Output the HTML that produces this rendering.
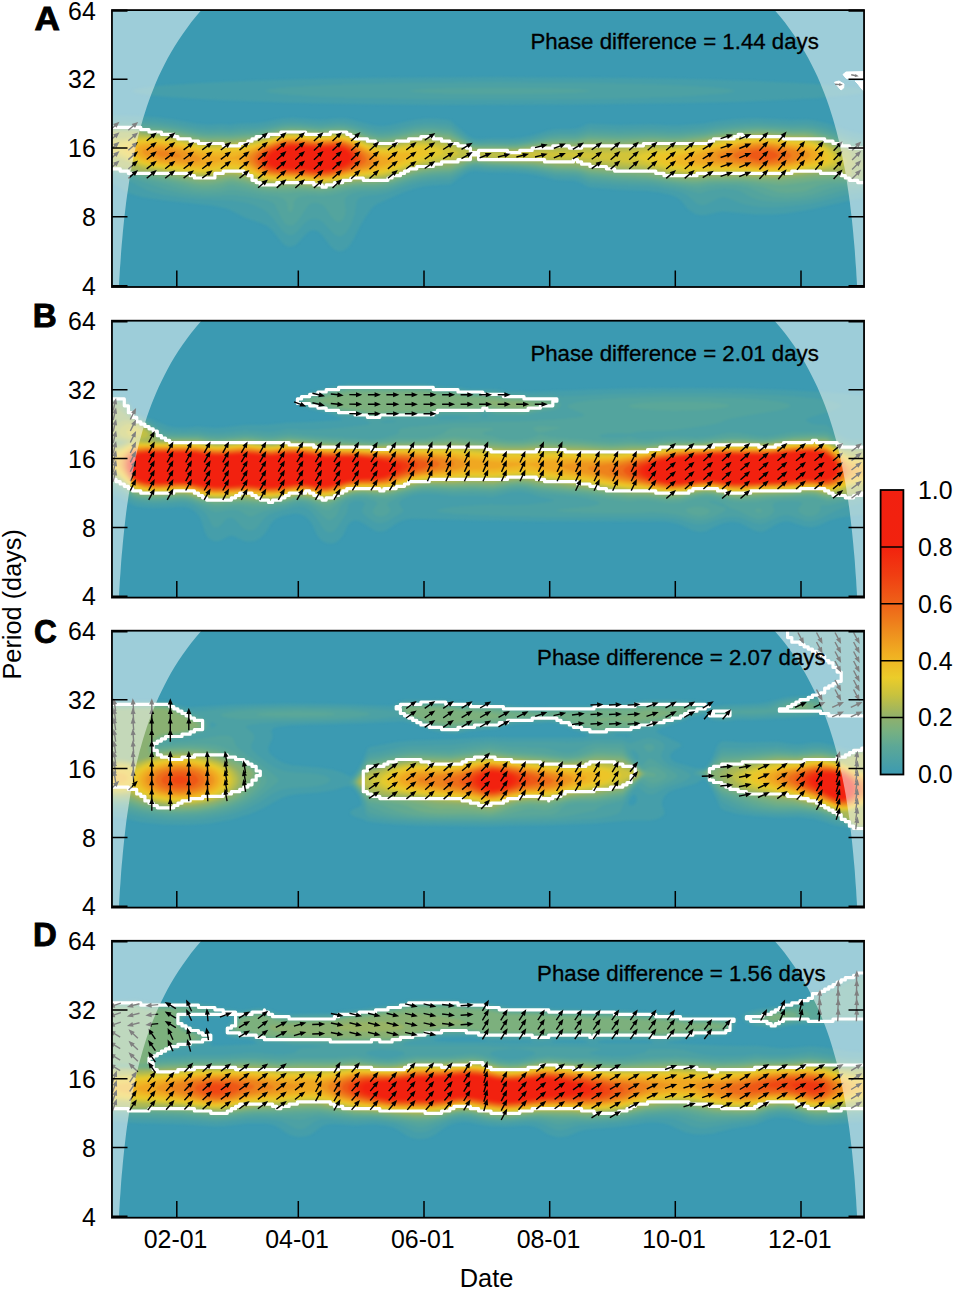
<!DOCTYPE html>
<html><head><meta charset="utf-8"><title>Wavelet coherence</title>
<style>html,body{margin:0;padding:0;background:#fff}svg{display:block}text{font-family:"Liberation Sans",sans-serif;fill:#000}</style></head>
<body>
<svg width="955" height="1290" viewBox="0 0 955 1290">
<defs>
<filter id="bl" x="-2%" y="-5%" width="104%" height="110%" color-interpolation-filters="sRGB"><feGaussianBlur stdDeviation="1.1"/></filter>
<clipPath id="cpA"><rect x="111.95" y="10.1" width="752.0999999999999" height="276.9"/></clipPath>
<clipPath id="cpB"><rect x="111.95" y="320.7" width="752.0999999999999" height="276.9"/></clipPath>
<clipPath id="cpC"><rect x="111.95" y="630.7" width="752.0999999999999" height="276.9"/></clipPath>
<clipPath id="cpD"><rect x="111.95" y="940.8" width="752.0999999999999" height="276.9"/></clipPath>
<linearGradient id="cb" x1="0" y1="1" x2="0" y2="0">
<stop offset="0" stop-color="#3b9ab2"/>
<stop offset="0.1" stop-color="#5da896"/>
<stop offset="0.15" stop-color="#76b082"/>
<stop offset="0.2" stop-color="#8fb06c"/>
<stop offset="0.28" stop-color="#c8c23e"/>
<stop offset="0.34" stop-color="#ebcc2a"/>
<stop offset="0.42" stop-color="#f0b022"/>
<stop offset="0.5" stop-color="#ee8e1e"/>
<stop offset="0.6" stop-color="#ee6218"/>
<stop offset="0.7" stop-color="#f03e12"/>
<stop offset="0.8" stop-color="#f2220e"/>
<stop offset="1" stop-color="#f22010"/>
</linearGradient>
</defs>
<rect width="955" height="1290" fill="#fff"/>
<g clip-path="url(#cpA)">
<rect x="110.95" y="9.1" width="754.0999999999999" height="278.9" fill="#3b9ab2"/>
<g filter="url(#bl)">
<path fill="#459eaa" d="M574.5 104.6 431.4 105 342.4 103.8 285.4 102.4 217.4 99.9 167.4 97 152.5 95.6 138.6 93.6 134.4 92.5 132.7 91.6 132.7 90.6 135.4 89.3 143.4 87.7 161.7 85.6 196.4 83.2 244.4 81 301.4 79.3 362.4 78.1 500.4 77.1 638.5 78.1 699.5 79.3 756.5 81.1 803.5 83.2 838.2 85.6 856.5 87.7 863.5 89.1 867 90.6 866.8 91.6 860.6 93.6 846.4 95.6 815.5 98.2 779.5 100.1 739.5 101.7 686.5 103ZM343.4 250.6 341.4 251.2 338.4 251.2 335.4 250.2 333.4 248.9 329.4 244.8 321.4 234.3 318.4 231.7 315.4 230.4 312.4 230.2 308.8 231.6 305.4 234.4 298.4 242.4 295.4 245 291.4 246.7 288.4 246.7 285.4 245.5 282.4 243.1 272.4 230.5 269.4 227.7 266.4 225.6 261.4 223.3 244.6 217.6 231.1 210.6 226.4 208.6 211.8 205.6 161.4 200.1 141.4 196.9 134.4 195.1 128.4 192.8 124.1 190.6 115.5 185.1 111.7 183.6 108.5 182.9 107.6 167.6 107.5 147.6 107.6 128.6 108.5 115 139.4 116.1 158.4 117.4 172.4 119.2 197.4 123.7 208.4 124.7 221.4 124.1 230.4 124.8 239.4 123.4 257.4 122.9 266.6 121.6 283.4 118.3 293.4 117.7 319.4 119.7 337.4 118.2 344.4 118.3 350.4 119.3 372.4 125 378.4 125.9 383.4 126.1 391.4 125.1 409.4 120.8 418.4 119.2 427.4 118.6 437.4 118.8 447.4 119.7 450.4 120.5 467.8 135.6 473.4 138.3 478.4 138.9 491.4 138.2 511.4 138.3 521.5 137.6 531.3 135.6 546.5 131.1 553.5 129.5 559.5 128.9 571.5 129.1 576.3 128.6 580.5 127.3 587.5 124.1 589.5 123.7 620.5 124.9 651.5 124.2 669.5 125.3 679.5 125.3 704.5 123.5 715.5 121.2 735.5 119.1 755.5 118.1 776.5 118.9 791.5 120.1 805.5 119.5 813.5 120.2 826.5 123.3 851.5 131.7 860.5 133.7 868.5 134.5 869.3 147.6 869.4 164.6 869.3 181.6 868.5 197.2 849.4 200.6 811.5 209.3 785.5 213.4 771.5 214.4 756.5 214.5 723.5 211.5 718.5 212.1 706.5 215 700.5 215.3 695.5 214.1 690.5 211.3 686.6 207.6 681 200.6 677.2 197.6 671.5 195.2 660.2 192.6 646.5 190.8 619.5 189.8 589.5 187.3 587.5 186.6 580.2 182.6 575.5 181 571.5 180.5 556.5 180.1 538.3 175.6 526.3 173.6 512 172.6 491.4 172.2 474.4 170.8 470.1 171.6 465.7 173.6 450.4 184.3 429.8 185.6 423 186.6 414.4 188.5 402.9 192.6 376.4 204.3 371.5 208.6 365.4 217.2 360.4 225.6 353.9 238.6 350.4 244.4 347.4 247.9Z"/>
<path fill="#4ca1a4" d="M556.5 99.6 440.4 99.6 347.4 97.8 313.4 96.4 285.6 94.6 269.4 92.6 266.2 91.6 265.9 90.6 268.6 89.6 273.4 88.8 283.6 87.6 308.4 85.9 337.8 84.6 413.4 82.8 500.4 82.1 586.5 82.8 662.2 84.6 691.5 85.9 716.4 87.6 726.5 88.7 731.5 89.6 734.2 90.6 733.9 91.6 730.6 92.6 724.2 93.6 684.5 96.5 625.5 98.5ZM342.4 235.8 339.4 236.5 335.4 235.1 332.4 232.6 322.4 221.8 318.4 219.3 314.4 218.4 310.4 219.2 307.4 220.9 304.4 223.6 297.4 231.4 294.4 233.9 291.4 235.2 288.4 235.1 285.4 233.6 282.4 230.8 272.4 217.7 267.4 212.6 261.4 208.5 252.2 204.6 245 202.6 232.4 200.4 197.4 199 178.4 197 162.4 194.5 154 192.6 146.4 190.1 132.4 182.6 127.5 180.5 116.5 177.6 108.5 176.6 107.7 167.6 107.6 147.6 107.7 129.6 108.5 119.7 139.4 120.3 158.4 121.5 172.4 123.3 199.4 128.1 209.4 128.8 221.4 128.3 230.4 128.8 239.4 127.6 256.4 127 265.7 125.6 282.4 122.2 293.4 121.4 319.4 123.4 337.4 122 344.4 122.2 351.4 123.4 372.4 129.1 378.4 130.1 383.4 130.3 391.4 129.4 416.4 123.9 425.4 123.2 435.4 123.3 446.4 124.3 450.4 125.1 463.9 135.6 468.4 138.6 473.4 140.7 479.4 141.4 490.4 140.8 508.4 141.1 518.7 140.6 528.5 138.9 544.5 134.8 552.5 133.3 558.5 132.7 571.5 132.8 576.5 132.3 589.5 128.3 618.5 129.4 650.5 128.6 669.7 129.6 679.5 129.6 704.5 127.6 715.5 125.3 735.5 123.2 756.5 122.1 776.5 122.9 791.5 124 805.5 123.6 813.5 124.5 825.5 127.3 852.1 136.6 860.8 138.6 868.5 139.4 869.2 149.6 869.3 164.6 869.2 180.6 868.5 191.5 845.5 195.1 823.5 200.8 811.5 203.4 798.5 205.3 783.5 206.8 771.5 207.3 760.5 206.9 752.5 206.1 745 204.6 738.7 202.6 728.5 198.2 723.5 197.2 718.5 198.2 706.5 204.5 703.5 205.1 700.5 205.1 696.5 203.6 687.6 195.6 682.5 192.8 674.5 190.6 657.9 187.6 647.5 186.3 618.5 185.2 589.5 182.7 580 178.6 575.5 177.3 555.5 176.4 537.5 172.5 524.5 170.7 510.4 169.7 491.4 169.5 478.4 168 474.4 168 470.4 168.8 466 170.6 450.4 179.9 432.4 180.8 419.9 182.6 408.4 185.6 386.4 192.9 378.4 194.4 365.4 195.9 360.4 197.3 358.4 198.7 356.7 201.6 354.7 214.6 351.1 224.6 346.4 232.5Z"/>
<path fill="#53a49e" d="M558.5 93.6 504.4 94.4 450.4 93.9 419.5 92.6 410.7 91.6 409.9 90.6 417.2 89.6 435.2 88.6 500.4 87.6 564.7 88.6 582.7 89.6 590 90.6 589.3 91.6 580.1 92.6ZM291.4 225.7 288.4 225.5 286.4 224.5 284.4 222.7 280.4 216.6 274.9 204.6 272.4 202.4 268.2 200.6 250.4 197 233.4 195 228.4 195 220.4 195.8 205.4 195.9 194.4 195.1 182.4 193.5 165.4 189.5 127.4 176.6 118.4 174.6 108.5 173.3 107.7 166.6 107.6 147.6 107.7 130.6 108.5 122.7 139.4 123.1 159.4 124.2 174.4 126.2 198.4 130.6 209.4 131.6 221.4 131 230.4 131.5 239.4 130.3 255.8 129.6 263.4 128.5 281.4 124.7 290.4 123.8 299.4 123.9 319.4 125.7 337.4 124.3 344.4 124.6 352.4 126.1 371.8 131.6 377.4 132.7 382.4 133 391.4 132.1 416.4 126.8 425.4 126.1 434.4 126.2 445.4 127.2 450.4 128.2 463.9 137.6 469 140.6 474.4 142.5 479.4 143 491.4 142.5 508.4 142.9 517.5 142.5 527.5 140.9 549.5 136 558.5 135.1 575.5 134.9 589.5 131.3 619.5 132.4 650.5 131.5 670.5 132.4 679.5 132.4 704.5 130.2 715.5 127.9 734.5 125.9 745.5 125 757.5 124.7 792.3 126.6 805.5 126.3 813.5 127.2 825.5 130.1 851.5 139.6 860.5 141.9 868.5 142.8 869.1 149.6 869.2 164.6 869.1 180.6 868.5 187.6 841.5 190.7 818.5 197.5 804.5 200.3 785.5 202 769.5 201.6 761.5 200.5 755.5 199 750.5 196.9 740.5 191.3 735.5 189.7 730.5 188.9 724.5 188.6 718.5 188.9 709.5 190.3 701.5 192.8 698.5 193.1 681.6 188.6 651.5 183.7 618.5 182.2 590.5 179.7 587.5 179.1 579.5 175.8 575.5 174.9 555.5 174 537.5 170.6 525.5 169 511.4 168 491.4 167.7 475.4 166.2 471.4 166.7 466.4 168.5 452.4 176 449.4 177.1 434.4 177.7 423.4 179 411.9 181.6 392.4 188 385.4 189.8 375.4 191.1 360.4 191.6 351.9 193.6 347.9 195.6 345.1 198.6 344.5 201.6 345.8 209.6 345.4 214.6 343.2 219.6 341.4 221.3 339.4 222.2 336.4 221.6 333.4 219.3 330.4 215.6 325.3 207.6 322.4 204.7 317.4 203 314.4 202.8 311.4 203.3 309.4 204.3 307.4 206.2 300.9 216.6 297.2 221.6 294.4 224.2Z"/>
<path fill="#5aa799" d="M291.4 212 290.4 212.3 289.4 212 288.4 210.9 287.7 208.6 287.1 203.6 285.5 200.6 282.9 198.6 277.5 196.6 262.4 194.7 246.4 191.7 232.4 189.6 228.4 189.9 221.4 191.7 212.4 192.5 203.4 192.6 194.4 191.7 182.4 189.2 162.9 183.6 142.4 178.8 128.7 174.6 119.5 172.6 108.5 171.2 107.8 166.6 107.7 147.6 107.8 130.6 108.5 125 140.4 125.2 159.4 126.3 174.4 128.3 198.4 132.7 209.4 133.7 221.4 133.1 230.4 133.5 239.4 132.4 255.4 131.6 262.4 130.6 282.4 126.2 291.4 125.5 300.4 125.8 319.4 127.4 337.4 126.1 344.4 126.3 352.4 127.9 371.7 133.6 377.4 134.7 382.4 135.1 391.4 134.2 416.4 129 424.4 128.4 433.4 128.4 449.4 130.2 451.4 131 462.9 138.6 468.4 141.7 473.6 143.6 479.4 144.3 491.4 143.8 508.4 144.2 517.5 143.8 525.9 142.6 549.5 137.8 558.5 137 575.5 136.9 589.5 133.7 619.5 134.7 650.5 133.8 669.5 134.6 679.5 134.5 704.5 132.2 715.5 130 734.5 127.9 745.5 126.9 757.5 126.6 775.5 127.3 792.5 128.5 805.5 128.4 815.5 129.6 827.5 133 843.7 139.6 852.7 142.6 860.7 144.6 868.5 145.4 868.9 148.6 869 178.6 868.5 184.8 836.5 186.8 829.1 188.6 812.5 194.6 800.5 196.9 785.5 197.8 773.5 196.9 765.5 194.7 748 187.6 737 185.6 720.5 185.2 708.5 186.1 699.5 187.9 695.5 187.9 649.5 181.2 618.5 179.8 589.5 177.2 580.5 174.1 575.5 173 555.5 172.2 528.5 167.9 511.4 166.7 491.4 166.3 475.4 164.8 471.4 165.4 467.4 166.6 450.4 174.6 432.4 175.6 419.4 177.5 411 179.6 393.4 185.4 385.4 187.4 376.4 188.5 361.4 188.7 355.4 189.3 348.3 190.6 335.4 194.3 329.4 195.5 322.4 195.8 307.4 195.4 301.4 196.2 297.9 197.6 294.6 200.6 293.8 202.6 293.4 208.6 292.4 211Z"/>
<path fill="#63aa91" d="M795.5 192.6 786.5 193.1 779.5 192.4 774.5 191.2 763.5 187.2 742.5 183.4 722.5 182.9 707.5 183.6 698.5 185.1 691.5 184.9 672.5 182.8 648.5 179.2 618.5 177.8 589.5 175.2 580.5 172.3 574.5 171.2 555.5 170.6 536.6 167.6 525.5 166.4 511.4 165.6 491.4 165.2 476.4 163.7 472.4 164 467.4 165.3 450.4 172.6 432.4 173.7 419.6 175.6 411.4 177.6 394.4 183.2 386.4 185.3 375.4 186.6 361.4 186.6 355.4 187.1 326.4 192.5 319.4 192.7 302.4 191.9 286.4 193 267.4 192.1 260.4 191.1 244.4 187.3 232.4 184.9 228.4 185.3 221.4 187.7 215.4 188.6 207.4 189.3 200.4 189.1 192.4 187.8 172.3 182.6 143.4 176.9 125.1 172.6 108.5 170.1 107.9 164.6 108 129.6 108.5 126.7 144.4 127.1 166.4 128.7 203.4 135.1 229.4 135.3 257.4 133 280.4 128 287.4 127.1 298.4 127 319.4 128.8 340.4 127.5 349.4 128.7 371.4 135.2 377.4 136.4 382.4 136.8 391.4 136 415.4 131 423.4 130.3 431.4 130.3 442.4 131.2 450.4 132.6 465.8 141.6 470.2 143.6 474.4 144.8 479.4 145.3 492.4 144.9 508.4 145.3 521.5 144.5 551.5 139.2 576.5 138.5 588.5 135.8 619.5 136.7 651.5 135.7 669.5 136.5 679.5 136.3 704.5 133.9 715.5 131.7 736.5 129.3 757.5 128.1 792.5 130.1 805.5 130.1 813.5 131 825.5 134.2 843.5 141.6 851.9 144.6 859.5 146.1 868.5 146.7 868.9 150.6 869 164.6 868.9 179.6 868.5 183.4 859.5 182.8 840.5 182.7 828.4 183.6 818.6 185.6 804.5 191.4Z"/>
<path fill="#70ae87" d="M329.4 189.6 320.4 190.3 301.4 189.1 283.4 189.5 267.4 189.3 260.4 188.2 244.3 183.6 232.4 181.3 228.4 181.6 221.4 183.6 212.4 185 206.4 185.5 200.4 185.3 192.4 184.1 171.4 179.6 148.4 175.8 142.4 175.2 118.5 170.4 108.5 169.2 108 165.6 107.9 147.6 108 131.6 108.5 127.8 134.4 127.9 141.4 128.8 160.4 129.8 176.4 132.1 199.4 136.4 209.4 137.3 221.4 136.8 230.4 137.1 254.4 135.1 263.1 133.6 282.4 129.2 291.4 128.4 300.4 128.7 319.4 130.3 336.4 129.1 343.4 129.2 351.4 130.8 372.4 137.3 382.4 138.7 391.4 137.9 415.4 133 423.4 132.4 431.4 132.4 449.4 134.5 469.4 144.6 474.4 146 480.4 146.5 516.5 146.2 548.5 141.2 558.5 140.5 575.5 140.4 589.5 138 620.5 139 651.5 137.8 670.5 138.5 681.5 138.2 704.5 135.8 716.5 133.4 735.5 131.2 757.5 129.8 774.5 130.5 792.5 131.9 805.5 131.9 813.5 132.9 825.5 136.2 847.8 145.6 854.5 146.9 868.5 147.8 868.7 149.6 868.8 177.6 868.5 182.3 853.5 181.1 843.5 179.5 838.5 179.3 815.5 180.5 804.5 182.3 782.5 185 777.5 184.8 746.5 181.3 736.5 180.7 709.5 181 698.5 182.5 690.5 182.4 673.5 180.9 647.5 176.9 618.5 175.5 589.5 172.9 580.5 170.4 574.5 169.4 555.5 168.8 536.5 166.1 525.5 165.1 492.4 164 475.4 162.5 467.4 163.9 450.4 170.5 432.4 171.6 420.4 173.4 411.4 175.6 393.4 181.5 385.4 183.5 375.4 184.6 355.4 185 344.5 186.6Z"/>
<path fill="#7cb07d" d="M330.4 187.6 319.4 188.5 299.4 187.1 267.4 187.1 260.4 186 242.5 180.6 232.4 178.9 228.4 179.1 221.4 180.8 210.4 182.3 199.4 182.4 169.4 177.2 151.4 174.6 142.4 174.2 118.5 169.7 108.5 168.4 107.9 147.6 108.5 128.7 135.4 128.8 142.4 130.4 166.4 132.1 199.4 138.1 209.4 139 231.4 138.7 253.4 136.7 260.5 135.6 281.4 130.7 291.4 129.7 300.4 129.9 319.4 131.6 336.4 130.3 344.4 130.7 351.4 132.1 371.5 138.6 377.4 139.9 382.4 140.4 391.4 139.6 415.4 134.9 423.4 134.2 431.4 134.3 449.4 136.6 468.9 145.6 474.4 147.1 480.4 147.6 515.5 147.4 548.5 142.8 558.5 142.2 575.5 142.1 589.5 140.1 620.5 141 651.5 139.7 670.5 140.3 680.5 140 703.5 137.5 715.5 135.1 734.5 132.8 745.5 131.8 757.5 131.3 774.5 132 792.5 133.4 804.5 133.5 811.5 134.2 823.5 137.3 840 144.6 846.2 146.6 851.5 147.7 868.5 148.9 868.5 149.6 868.5 181.3 850.5 179.7 841.5 176.9 838.5 176.6 813.9 177.6 779.5 181.3 733.5 178.8 709.5 179.1 698.5 180.4 688.5 180.4 672.5 178.9 646.5 174.9 618.5 173.5 589.5 170.9 580.4 168.6 574.5 167.7 557.5 167.4 530.5 164.2 492.4 162.8 475.4 161.3 467.4 162.6 450.4 168.5 432.4 169.7 418.4 172 408.7 174.6 392.4 180 385.4 181.7 375.4 182.9 361.4 183 354.4 183.5 345.4 184.7Z"/>
<path fill="#89b072" d="M326.4 186.7 317.4 187 297.4 185.4 273.4 185.7 264.4 185.2 260.4 184.4 243.4 178.8 232.4 176.9 228.4 177.1 221.4 178.6 210.4 180 199.4 180.2 155.4 173.6 142.4 173.3 119.5 169.1 108.5 167.7 108 147.6 108.5 129.4 135.4 129.6 142.5 131.6 165.4 133.4 199.4 139.6 209.4 140.5 231.4 140.2 253.4 138.1 261.8 136.6 281.4 131.8 291.4 130.8 300.4 131 319.4 132.7 336.4 131.5 344.4 131.8 351.4 133.4 372.4 140.3 382.4 141.9 391.4 141.2 415.4 136.5 422.4 136 430.4 136.1 439.4 136.9 449.4 138.5 469.4 147 474.4 148.2 480.4 148.7 515.5 148.5 547.5 144.4 557.5 143.8 575.5 143.7 588.5 142.1 621.5 142.9 651.5 141.5 669.5 141.9 679.5 141.7 703.5 139 716.5 136.4 736.5 133.9 747.5 133 758.5 132.6 774.5 133.3 792.5 134.7 804.5 134.9 811.5 135.7 822.5 138.6 837.5 145.2 842.5 146.8 850.5 148.6 868.5 150.6 868.5 179.9 849.5 178.6 840.5 175 835.5 174.5 811.8 175.6 778.5 179 757.5 178.6 744.5 177.6 732.5 177.3 709.5 177.5 697.5 178.7 687.5 178.6 672.5 177.3 646.5 173.1 618.5 171.5 589.5 168.9 575.5 166.2 557.5 165.8 532.5 163.1 492.4 161.6 475.4 160.2 467.4 161.3 450.4 166.6 432.4 167.9 418.4 170.3 385.4 180.3 374.4 181.4 355.4 181.9Z"/>
<path fill="#98b365" d="M324.4 185.6 316.4 185.6 297.4 184.1 264.4 184 261.4 183.5 255.4 180.9 245.4 177.6 234.4 175.4 228.4 175.4 209.4 178.2 199.4 178.3 157.4 172.5 149.4 172.1 142.4 172.4 119.5 168.2 108.5 166.9 108.1 147.6 108.5 130.3 135.4 130.5 143.4 132.9 166.4 134.9 199.4 141 210.4 142 231.4 141.6 252.4 139.5 260.4 138.1 280.4 133 287.4 132 298.4 131.9 319.4 133.7 340.4 132.5 349.4 133.9 369.4 140.8 376.4 142.6 381.4 143.3 390.4 142.8 409.4 139 417.4 137.9 427.4 137.7 437.4 138.5 450.4 140.8 463.4 146.2 470.4 148.4 475.4 149.4 481.4 149.8 515.5 149.5 547.5 145.9 575.5 145.4 588.5 144.1 621.5 144.8 651.5 143.2 677.5 143.3 692.5 141.9 705.5 140 716.5 137.7 740.5 134.8 756.5 133.8 769.5 134.2 791.5 135.9 805.5 136.3 812.5 137.3 818.5 138.8 825.5 141.4 836.5 146.4 855.8 150.6 858.4 151.6 859.7 153.6 859.9 157.6 860.5 158.8 863.5 161.2 868.5 163.7 868.5 165.7 862.5 168.3 860.7 169.6 860.3 170.6 860.6 175.6 860.2 176.6 858 177.6 855.5 177.9 849.5 177.6 846.5 176.6 840.5 173.7 833.5 172.7 812.5 173.8 777.5 177.3 757.5 177.1 742.5 176.1 729.5 175.9 708.5 176 698.5 177 692.5 177.2 673.5 175.8 646.5 171.3 617.5 169.6 588.5 166.8 575.5 164.6 557.5 164.2 534.5 162 494.3 160.6 474.4 159.1 466.4 160.3 450.4 164.7 432.4 166.2 419.4 168.4 410.4 170.8 385.4 179 373.4 180.1 356.4 180.6Z"/>
<path fill="#aab856" d="M323.4 184.6 315.4 184.5 297.4 183 263.4 182.8 261.4 182.3 255.9 179.6 246.4 176.4 234.4 173.9 228.4 173.9 208.4 176.6 199.4 176.7 156.4 171.1 140 170.6 120.5 166.9 108.5 165.4 108.5 131.9 134.4 132 142.4 134.2 165.4 136 179.4 138.3 200.4 142.5 211.4 143.3 232.4 142.9 252.4 140.8 259.4 139.4 279.4 134.2 287.4 132.9 298.4 132.9 319.4 134.7 340.4 133.5 349.4 134.9 368.2 141.6 379.4 144.4 384.4 144.7 389.4 144.3 416.4 139.6 429.4 139.5 438.4 140.4 448.4 142.3 468.4 149.2 474.4 150.5 481.4 151 515.5 150.6 540.5 148 553.5 147.2 575.5 147.1 589.5 146.1 622.5 146.8 652.5 144.9 676.5 144.8 691.5 143.4 705.5 141.3 716.5 139 739.5 136.1 755.5 134.9 767.5 135.2 791.5 137.1 805.5 137.6 812.5 138.7 818.5 140.3 825.5 143 836.5 148.1 847.1 150.6 849.2 151.6 850.2 152.6 851.2 157.6 854.6 161.6 855.4 163.6 854.5 165.6 851.3 168.6 851.6 174.6 850.6 175.6 849.5 175.7 847.5 175.5 840.5 172 833.5 170.9 812.5 172.2 776.5 175.9 757.5 175.8 742.5 174.8 728.5 174.6 708.5 174.7 698.5 175.6 691.5 175.6 673.5 174.3 644.5 169.3 617.5 167.9 605.5 166.3 588.5 164.8 576.5 162.9 556.5 162.5 536.5 160.7 496.4 159.5 474.4 157.9 465.4 159 450.4 162.8 433.4 164.4 420.4 166.6 410.4 169.3 385.4 177.6 373.4 178.8 356.4 179.4 330.4 183.9Z"/>
<path fill="#bdbf47" d="M323.4 183.6 315.4 183.5 297.4 181.9 275.4 182 264.4 181.5 244.4 174.4 234.4 172.4 228.4 172.5 208.4 175.1 199.4 175.3 188.4 174.1 144.4 167.9 138.4 166.2 124.7 160.6 114.4 157.6 108.5 156.6 108.5 139.2 127.5 137.6 138.4 136 149.4 136 167.4 137.5 204.4 144.3 212.4 144.7 229.4 144.4 254.4 141.6 279.4 135.1 286.4 133.9 298.4 133.7 320.4 135.5 339.4 134.3 344.4 134.8 349.4 135.9 367.7 142.6 375.4 144.9 380.4 145.8 385.4 146 390.4 145.6 415.4 141.2 428.4 141.1 444.9 143.6 450.4 145 461.4 149 468.4 151 474.4 152.2 481.4 152.8 515.5 151.9 550.5 149.2 575.5 149 589.5 148.4 621.5 149 635.5 148.3 652.5 146.7 676.5 146.3 691.5 144.8 705.5 142.6 716.5 140.2 737.5 137.4 750.5 136.3 760.5 136 804.5 138.8 816.5 141 825.6 144.6 834.4 149.6 844.1 157.6 845.9 159.6 846.7 161.6 846.1 163.6 844.5 164.9 839.5 166.8 833.5 168.4 781.5 174.3 758.5 174.7 741.5 173.6 722.5 173.3 708.5 173.4 691.5 174.2 673.5 172.8 651.5 168.4 642.5 167.1 617.5 165.4 577.5 161.1 555.5 160.6 536.5 159.1 507.8 158.6 491.4 157.6 479.4 156.2 474.4 156.1 465.4 157.2 450.4 160.7 432.4 162.7 421.4 164.8 412.4 167.2 393.4 173.7 384.4 176.2 373.4 177.5 357.4 178.2 330.4 182.9Z"/>
<path fill="#d1c439" d="M321.4 182.6 297.4 180.8 276.4 180.8 267.4 180.3 261.4 179 243.4 172.4 234.4 170.7 228.4 170.8 208.4 173.4 199.4 173.6 186.4 172.4 148.4 167 140.4 165 124.5 158.1 113.5 154.3 108.5 153.3 108.5 142.6 126.5 140.1 138.4 137.8 154.4 137.7 161.4 138.1 170.4 139.3 204.4 145.8 212.4 146.3 230.4 145.9 241.4 144.9 254.4 142.9 278.4 136.3 286.4 134.8 298.4 134.7 319.4 136.5 339.4 135.3 344.4 135.8 349.4 136.9 366.7 143.6 379.4 147.2 388.4 147.4 412.4 143.5 419.4 143 426.4 143.2 436.9 144.6 448.3 147.6 457.3 151.6 458.7 152.6 459 153.6 455.7 155.6 449.6 157.6 429.4 161 416.4 164.1 393.4 172.1 385.4 174.3 374.4 176 357.4 177 330.4 181.8ZM784.5 172.6 764.5 173.4 731.5 172 709.5 171.8 697.5 172.5 686.5 172.3 671.4 170.6 650.5 165.9 640.5 164.2 582.5 158 555.5 157.2 539.5 156 519.5 156.6 508.8 155.6 512.3 154.6 524.7 153.6 548.5 152.6 612.5 152.5 628.5 151.8 652.5 148.9 672.5 148.4 683.5 147.4 703.5 144.4 716.5 141.6 734.5 139.1 746.5 137.8 758.5 137.2 771.5 137.7 804.5 140.2 813.5 141.8 821.5 144.6 829.1 148.6 835.4 153.6 837.9 156.6 838.9 158.6 838.8 161.6 837.5 163.3 834.5 165.1 830 166.6 822.5 167.9Z"/>
<path fill="#e2ca2f" d="M321.4 181.6 298.4 179.9 276.4 179.7 267.4 179.1 260.4 177.3 243.4 170.8 235.4 169.1 229.4 169 208.4 171.7 199.4 172 187.4 171 156.4 166.9 144.4 164.6 137.4 162.2 117.2 151.6 114.8 149.6 114.5 147.6 116.7 145.6 122.1 143.6 137.4 139.6 146.4 139 158.4 139.2 166.4 140.1 181.4 142.6 199.4 146.6 206.4 147.6 213.4 147.9 233.4 147.4 242.4 146.4 254.4 144.2 282.4 136.3 288.4 135.6 294.4 135.4 318.4 137.4 336.4 136.2 344.4 136.8 351.4 138.6 363.4 143.7 372.4 146.9 377.4 148.3 382.4 149.1 390.4 148.9 413.4 145.4 419.4 145.2 426.1 145.6 431.9 146.6 438.6 148.6 442.4 150.6 443.6 152.6 442.4 154.1 439.3 155.6 415.4 162.3 394.4 170 386.4 172.4 374.4 174.5 358.4 175.7 330.4 180.8ZM781.5 171.6 760.5 172.2 734.5 170.8 708.5 170.4 694.5 170.9 683.5 170.3 672.5 168.8 662.9 166.6 642.2 160.6 637.1 158.6 636 157.6 636.5 156.6 640.8 154.6 647.5 152.6 652.5 151.6 683.5 149.2 703.5 145.9 722.5 142.1 742.5 139.4 758.5 138.3 771.5 138.9 803.5 141.5 812.5 143.1 819.6 145.6 826.9 149.6 831.6 153.6 834 157.6 834.1 159.6 833.1 161.6 830.4 163.6 826.5 165 817.5 166.8Z"/>
<path fill="#ecc528" d="M323.4 180.6 315.4 180.5 297.4 178.9 278.4 178.8 268.4 178.2 260.4 176.1 242.4 168.8 235.4 167.3 228.4 167.3 208.4 170 199.4 170.4 187.4 169.5 157.4 165.7 144.4 163.1 137.7 160.6 132.7 157.6 126.1 152.6 124.4 150.6 124 148.6 124.5 147.6 127.1 145.6 136.5 141.6 142.4 140.6 153.4 140.5 161.4 140.8 170.4 142.1 183.4 144.5 199.4 148.1 206.4 149.2 214.4 149.6 234.4 149.1 241.4 148.2 253.4 145.7 281.4 137.4 287.4 136.5 293.4 136.3 319.4 138.2 336.4 137.1 343.4 137.5 351.4 139.6 363.4 144.9 373.4 148.6 382.4 150.8 389.4 150.7 407.4 148.3 416.4 147.8 424.4 148.7 427.4 149.7 430 151.6 430.1 152.6 429.4 153.6 424.1 156.6 395.9 167.6 387.4 170.4 375.4 172.9 358.4 174.5 332.4 179.6ZM777.5 170.7 759.5 171 735.5 169.5 709.5 168.9 695.5 169.2 685.4 168.6 674.5 167 665.3 164.6 655.5 160.6 652.9 158.6 652.6 157.6 653.1 156.6 654.5 155.6 660.5 154 688.5 150.3 716.5 144.5 735.5 141.5 746.5 140.2 758.5 139.4 774.5 140.2 803.5 143 810.5 144.2 817.5 146.5 823.2 149.6 827.9 153.6 829.6 156.6 829.7 158.6 828.5 160.7 825.5 162.6 821.5 164 790.5 169.2Z"/>
<path fill="#efb724" d="M330.4 178.8 318.4 179.5 298.4 177.8 278.4 177.6 268.4 176.8 260.4 174.6 241.4 166 235.4 164.5 227.4 164.7 207.4 167.7 199.4 168.2 187.4 167.5 160.4 164.3 146.8 161.6 139.4 159 135.8 156.6 133.7 154.6 131.7 151.6 131.5 149.6 132.3 147.6 133.4 146.4 136.1 144.6 138.7 143.6 144.4 142.7 156.4 142.4 163.4 142.9 174.3 144.6 199.4 150.3 208.4 151.8 215.4 152.3 234.4 151.8 240.4 150.9 253.4 147.4 280.4 138.8 286.4 137.7 294.4 137.4 319.4 139.3 335.4 138.2 342.4 138.5 350.4 140.5 366.4 147.7 380.4 152.8 387.4 153.5 407.4 152.4 411.4 153.4 412.2 154.6 410.6 156.6 404.1 160.6 393.6 165.6 386.4 168.1 374.4 171.1 359.4 172.9ZM763.5 169.6 735.5 167.8 690.5 166.2 683.5 165.2 676.7 163.6 672.1 161.6 670.4 159.6 670.6 158.6 671.9 157.6 677.7 155.6 715.5 146.6 740.5 142.4 757.5 140.9 773.5 141.6 807.1 145.6 813.5 147.5 817.9 149.6 821.8 152.6 823.6 155.6 823.6 157.6 822.2 159.6 818.7 161.6 813.5 163.2 785.5 168.2 775.5 169.2Z"/>
<path fill="#f0a821" d="M330.4 177.7 318.4 178.5 298.4 176.7 278.4 176.4 268.4 175.6 263.4 174.3 259.4 172.7 248 166.6 238.4 160.9 236.4 160 233.4 159.5 221.4 161.2 206.4 164.8 198.6 165.6 186.4 165.2 161.4 162.4 151.4 160.5 142.4 157.6 138.2 154.6 136.8 152.6 136.4 150.6 137.1 148.6 138 147.6 142.2 145.6 151.4 144.6 160.4 144.6 168.4 145.6 181.4 148.1 200.4 153.2 210.4 155.4 217.4 156.3 233.4 156.9 236.4 156.2 246.6 151.6 267.4 143.9 278.4 140.3 284.4 139 296.4 138.4 320.4 140.3 338.4 139.2 344.4 139.9 350.2 141.6 377.4 154.4 382.4 156.2 391.4 158.1 392.7 158.6 393.2 159.6 391.7 161.6 388.4 163.6 375.4 168.6 359.4 171.4ZM775.5 167.6 758.5 168 740.5 166.4 699.5 163.7 690.5 161.9 688.1 160.6 687.6 159.6 688.1 158.6 689.3 157.6 693.6 155.6 715.5 148.8 740.5 144.1 757.5 142.4 772.5 143 803.5 147.1 809 148.6 813.4 150.6 816 152.6 817.4 154.6 817.4 156.6 815.9 158.6 813.5 160 808.8 161.6 790.5 165.8Z"/>
<path fill="#ee961f" d="M330.4 176.7 323.4 177.4 317.4 177.4 298.4 175.7 275.4 175.2 267.4 174.1 259.4 171.1 249.1 164.6 245.1 160.6 244.6 157.6 245.8 155.6 248.5 153.6 258.9 148.6 272.4 143.3 283.4 140.1 288.4 139.5 295.4 139.4 320.4 141.3 337.4 140.2 345.4 141.2 352.4 143.7 374 155.6 378.1 158.6 379.4 160.6 379.5 161.6 378.3 163.6 375.4 165.6 372.4 166.9ZM766.5 166.6 756.5 166.4 714.5 162 705.5 159.9 703.8 158.6 703.8 157.6 705.9 155.6 709.8 153.6 721.5 149.8 741.7 145.6 758.5 143.8 772.8 144.6 798.9 148.6 803.5 149.8 807.5 151.5 808.9 152.6 810.3 154.6 809.8 156.6 807.3 158.6 802.6 160.6 795.9 162.6 782.5 165.3ZM197.4 161.8 191.4 162.5 185.4 162.4 159.4 159.8 151.1 157.6 146.1 155.6 143.3 153.6 142.3 151.6 143.4 149.6 145.4 148.6 153.4 147.1 161.4 147 171.4 148.5 185.1 151.6 198.3 156.6 201.1 158.6 201.4 159.6 200.7 160.6Z"/>
<path fill="#ee831c" d="M330.4 175.7 323.4 176.4 317.4 176.4 298.4 174.7 277.4 174.3 268.4 173.1 261.4 170.6 255.1 166.6 250.8 162.6 249.6 160.6 249.2 158.6 250 156.6 253.2 153.6 260.1 149.6 266.6 146.6 282.4 141.3 287.4 140.5 293.4 140.3 318.4 142.2 336.4 141.1 344.4 142 349.4 143.6 355.4 146.6 369.3 155.6 371.6 157.6 373 159.6 373.1 161.6 372.6 162.6 370.4 164.5 368 165.6 350.4 171.1ZM772.5 164.7 764.5 165.1 758.5 165 732.2 161.6 721.9 159.6 719.1 158.6 717.7 157.6 717.2 156.6 717.7 155.6 720.6 153.6 732.7 149.6 746.5 146.7 759.5 145.3 771.5 146 792 149.6 798.5 151.6 800.5 152.7 802.1 154.6 802 155.6 800.4 157.6 794.1 160.6 784.5 163.1ZM181.4 156.7 179.4 157.3 175.4 157.5 161.4 156.7 155.5 154.6 154.4 153.6 154.2 152.6 154.9 151.6 157.7 150.6 163.9 150.6 176.4 153.6 181.1 155.6Z"/>
<path fill="#ee6d1a" d="M329.4 174.7 317.4 175.3 298.4 173.5 279.4 173.1 269.4 171.9 263.4 169.8 258.5 166.6 254.9 162.6 254 160.6 253.9 158.6 254.7 156.6 257.4 153.6 261.8 150.6 267.8 147.6 275.5 144.6 282.4 142.5 287.4 141.7 293.4 141.4 318.4 143.3 336.4 142.3 344.4 143.3 350.4 145.5 355.7 148.6 363.2 154.6 366.4 158.6 366.5 160.6 365.2 162.6 362.2 164.6 355.8 167.6 346.4 170.7ZM770.5 162.6 761.5 163 750.6 161.6 737.4 158.6 735 157.6 733.6 156.6 733.2 155.6 734.7 153.6 741.6 150.6 751.5 148.4 761.5 147.4 770.5 148.1 782.3 150.6 788.4 152.6 791.2 154.6 791.4 155.6 791 156.6 789.9 157.6 786.5 159.3 779.5 161.2Z"/>
<path fill="#ee5916" d="M328.4 173.7 317.4 174.1 298.4 172.4 280.4 172 271.4 170.8 265.4 168.9 260.4 165.6 257.6 161.6 257.4 158.6 258.1 156.6 260.8 153.6 264.4 151 269 148.6 281.4 143.9 286.4 142.9 291.4 142.6 300.4 142.8 318.4 144.5 335.4 143.5 342.4 144.1 347.4 145.6 353 148.6 357.8 152.6 360.9 156.6 361.5 159.6 360.7 161.6 358.7 163.6 354.4 166.3 349.4 168.4 342.1 170.6ZM770.5 159.7 763.5 160.5 756.5 159.7 749.8 157.6 748.1 156.6 747.2 155.6 747.2 154.6 749.5 152.7 752.3 151.6 757.5 150.4 762.5 149.9 767.5 150.4 772.4 151.6 775.2 152.6 778.3 154.6 778.6 155.6 778.1 156.6 776.7 157.6Z"/>
<path fill="#f04713" d="M327.4 172.7 316.4 172.9 299.4 171.3 281.4 170.8 272.4 169.6 267.4 168 263.4 165.6 261 162.6 260.3 160.6 260.3 158.6 261.8 155.6 263.7 153.6 270.1 149.6 281.4 145.1 290.4 143.7 299.4 143.9 318.4 145.6 334.4 144.6 340.4 145 345.4 146.3 350.3 148.6 354.2 151.6 356.7 154.6 358 157.6 357.9 159.6 356.2 162.6 353.4 164.8 348.4 167.2 341.3 169.6 334.4 171.5Z"/>
<path fill="#f03711" d="M326.4 171.6 316.4 171.8 299.4 170.2 282.4 169.7 274.6 168.6 269.4 167.1 265.4 164.6 263.3 161.6 263.1 158.6 263.9 156.6 266.4 153.8 273.2 149.6 282.4 146 290.4 144.8 299.4 145 318.4 146.7 334.4 145.8 339.4 146.1 344.4 147.3 348.4 149.2 351.7 151.6 354.2 154.6 355.2 157.6 355 159.6 353 162.6 350.3 164.6 346.1 166.6 337.4 169.5Z"/>
<path fill="#f2290f" d="M324.4 170.7 317.4 170.7 299.4 169.1 284.4 168.7 276.7 167.6 271.4 166 268.4 164.4 266.1 161.6 265.8 158.6 266.7 156.6 268.4 154.6 274.3 150.6 282.4 147.2 290.4 146 299.4 146.1 318.4 147.8 333.4 147 338.4 147.2 342.4 148.1 346.4 149.8 349.4 151.9 351.7 154.6 352.6 157.6 352.3 159.6 351 161.6 348.4 163.7 343.4 166.1 336.4 168.6 330.4 170Z"/>
<path fill="#f2210f" d="M321.4 169.6 299.4 167.9 285.4 167.5 278.9 166.6 274.4 165.3 271.1 163.6 269.2 161.6 268.7 158.6 269.6 156.6 271.3 154.6 277.4 150.6 283.4 148.2 290.4 147.1 299.4 147.3 318.4 149 333.4 148.2 337.4 148.3 341.4 149.2 344.7 150.6 347.5 152.6 349.2 154.6 350 157.6 349.6 159.6 348 161.6 345.3 163.6 340.4 165.9 334.4 167.9 328.4 169.1Z"/>
</g>
<path d="M112 127.4H116.1H120.2H124.3H128.4H132.6H136.7H140.8V129.7H144.9H149V132H153.2H157.3H161.4V134.3H165.5H169.6H173.8V136.6H177.9V138.9H182H186.1H190.2V141.2H194.4H198.5V143.5H202.6H206.7H210.8H214.9H219.1H223.2V145.8H227.3H231.4H235.6H239.7V143.5H243.8H247.9V141.2H252V138.9H256.2V136.6H260.3H264.4H268.5V134.3H272.6H276.8H280.9V132H285H289.1H293.2H297.4H301.5H305.6V134.3H309.7H313.8H317.9H322.1H326.2H330.3V132H334.4H338.6H342.7H346.8V134.3H350.9V136.6H355V138.9H359.2H363.3H367.4V141.2H371.5H375.6V143.5H379.8H383.9H388H392.1H396.2V141.2H400.4H404.5H408.6V138.9H412.7H416.8H420.9V136.6H425.1H429.2H433.3V138.9H437.4H441.6V141.2H445.7H449.8V143.5H453.9H458V145.8H462.1H466.3V148.1H470.4V150.4V152.7H474.5H478.6V150.4H482.8H486.9H491H495.1H499.2H503.4H507.5V152.7H511.6H515.7H519.8V150.4H524H528.1H532.2V148.1H536.3H540.4H544.6H548.7H552.8V145.8H556.9H561H565.1H569.3V148.1H573.4H577.5H581.6V145.8H585.8H589.9H594H598.1H602.2H606.4H610.5H614.6H618.7H622.8H627H631.1H635.2H639.3H643.4V143.5H647.6H651.7H655.8H659.9H664H668.2H672.3H676.4H680.5H684.6H688.8H692.9H697H701.1H705.2H709.4V141.2H713.5V138.9H717.6H721.7H725.8H730H734.1V136.6H738.2V134.3H742.3V136.6H746.4H750.6H754.7H758.8H762.9H767H771.2H775.3H779.4H783.5V138.9H787.6H791.8H795.9H800H804.1H808.2H812.4H816.5H820.6H824.7V141.2H828.8H833V143.5H837.1H841.2V145.8H845.3H849.4V148.1H853.6H857.7H861.8H865.9M112 168.8H116.1H120.2V171.1H124.3H128.4V173.4H132.6H136.7H140.8H144.9H149H153.2H157.3H161.4H165.5H169.6H173.8H177.9H182H186.1H190.2V175.7H194.4V178H198.5H202.6H206.7H210.8H214.9V175.7V173.4H219.1H223.2V171.1H227.3H231.4H235.6H239.7H243.8V173.4H247.9V175.7H252V178V180.3H256.2V182.6H260.3V184.9H264.4H268.5H272.6H276.8V182.6H280.9H285H289.1H293.2H297.4H301.5H305.6H309.7H313.8V184.9H317.9H322.1V187.2H326.2V184.9H330.3H334.4V182.6H338.6H342.7V180.3H346.8H350.9V178H355H359.2H363.3V180.3H367.4H371.5H375.6H379.8H383.9H388V178H392.1V175.7H396.2H400.4V173.4H404.5V171.1H408.6V168.8H412.7H416.8V166.5H420.9H425.1H429.2H433.3V164.2H437.4H441.6V161.9H445.7H449.8H453.9H458V159.6H462.1H466.3H470.4V157.3V155H474.5V152.7V155H478.6V157.3V159.6H482.8H486.9H491H495.1H499.2H503.4H507.5H511.6H515.7H519.8H524H528.1H532.2H536.3H540.4H544.6V161.9H548.7H552.8H556.9H561H565.1H569.3H573.4V159.6H577.5V161.9H581.6V164.2H585.8H589.9V166.5H594H598.1H602.2H606.4V168.8H610.5H614.6V171.1H618.7H622.8H627H631.1H635.2H639.3H643.4H647.6H651.7H655.8V173.4H659.9H664V175.7H668.2H672.3H676.4H680.5H684.6H688.8H692.9H697V173.4H701.1H705.2H709.4H713.5H717.6H721.7H725.8H730H734.1H738.2H742.3H746.4H750.6H754.7H758.8H762.9H767H771.2H775.3H779.4H783.5H787.6H791.8V171.1H795.9H800H804.1H808.2H812.4H816.5H820.6V173.4H824.7H828.8H833H837.1H841.2V175.7H845.3V178H849.4V180.3H853.6H857.7V182.6H861.8H865.9" fill="none" stroke="#fff" stroke-width="3.2" stroke-linejoin="round" stroke-linecap="round"/>
<path d="M843 74.5 846 72 863.8 71.6 863.8 79.2 851 79.6 846 78.2Z" fill="#fff" stroke="#fff" stroke-width="1" stroke-linejoin="round"/>
<path d="M834.5 82.2 839 81 844 84 843.6 88 841 90 838 86.6Z" fill="#fff" stroke="#fff" stroke-width="1" stroke-linejoin="round"/>
<path d="M855 81 863.8 81 863.8 91 861 88 858 84Z" fill="#fff" stroke="#fff" stroke-width="1" stroke-linejoin="round"/>
<path d="M109.8 130.4L115.5 125.3M128.3 130.3L134.1 125.3M109.8 140.9L115.5 135.8M128.3 140.8L134.1 135.8M146.7 140.7L152.7 135.8M165.2 140.6L171.2 135.9M258.1 140.8L264.0 135.8M276.7 140.9L282.5 135.8M295.3 140.9L301.0 135.8M313.9 141.0L319.6 135.8M332.5 141.0L338.1 135.8M351.1 141.1L356.7 135.8M424.7 140.3L431.0 135.9M720.6 138.7L727.9 136.2M739.3 139.1L746.5 136.1M759.4 141.3L764.7 135.7M778.3 141.6L783.2 135.7M109.8 150.3L115.5 145.2M128.3 150.2L134.1 145.2M146.7 150.1L152.7 145.2M165.2 150.0L171.2 145.3M183.6 149.9L189.8 145.3M202.2 149.9L208.4 145.3M220.8 150.0L226.9 145.3M239.5 150.1L245.4 145.2M258.1 150.2L264.0 145.2M276.7 150.3L282.5 145.2M295.3 150.3L301.0 145.2M313.9 150.4L319.6 145.2M332.5 150.4L338.1 145.2M351.1 150.5L356.7 145.2M369.5 150.4L375.2 145.2M387.9 150.1L393.8 145.2M406.3 149.9L412.4 145.3M424.7 149.7L431.0 145.3M443.1 149.5L449.6 145.4M461.5 149.3L468.1 145.4M535.0 147.6L542.5 145.7M553.8 148.4L561.0 145.6M572.8 149.4L579.4 145.4M591.7 149.8L597.9 145.3M610.6 150.3L616.4 145.2M629.2 150.3L634.9 145.2M647.7 150.3L653.5 145.2M666.2 150.2L672.1 145.2M684.7 150.2L690.6 145.2M702.7 149.4L709.3 145.4M720.6 148.1L727.9 145.6M739.3 148.5L746.5 145.5M759.4 150.7L764.7 145.1M778.3 151.0L783.2 145.1M797.0 151.1L801.7 145.1M815.3 150.9L820.3 145.1M833.6 150.7L838.9 145.1M852.1 150.6L857.5 145.2M109.8 159.7L115.5 154.6M128.3 159.6L134.1 154.6M146.7 159.5L152.7 154.6M165.2 159.4L171.2 154.7M183.6 159.3L189.8 154.7M202.2 159.3L208.4 154.7M220.8 159.4L226.9 154.7M239.5 159.5L245.4 154.6M258.1 159.6L264.0 154.6M276.7 159.7L282.5 154.6M295.3 159.7L301.0 154.6M313.9 159.8L319.6 154.6M332.5 159.8L338.1 154.6M351.1 159.9L356.7 154.6M369.5 159.8L375.2 154.6M387.9 159.5L393.8 154.6M406.3 159.3L412.4 154.7M424.7 159.1L431.0 154.7M443.1 158.9L449.6 154.8M461.5 158.7L468.1 154.8M479.6 157.8L486.8 155.0M497.9 157.0L505.4 155.1M516.4 157.0L523.9 155.1M535.0 157.0L542.5 155.1M553.8 157.8L561.0 155.0M572.8 158.8L579.4 154.8M591.7 159.2L597.9 154.7M610.6 159.7L616.4 154.6M629.2 159.7L634.9 154.6M647.7 159.7L653.5 154.6M666.2 159.6L672.1 154.6M684.7 159.6L690.6 154.6M702.7 158.8L709.3 154.8M720.6 157.5L727.9 155.0M739.3 157.9L746.5 154.9M759.4 160.1L764.7 154.5M778.3 160.4L783.2 154.5M797.0 160.5L801.7 154.5M815.3 160.3L820.3 154.5M833.6 160.1L838.9 154.5M852.1 160.0L857.5 154.6M109.8 169.1L115.5 164.0M128.3 169.0L134.1 164.0M146.7 168.9L152.7 164.0M165.2 168.8L171.2 164.1M183.6 168.7L189.8 164.1M202.2 168.7L208.4 164.1M220.8 168.8L226.9 164.1M239.5 168.9L245.4 164.0M258.1 169.0L264.0 164.0M276.7 169.1L282.5 164.0M295.3 169.1L301.0 164.0M313.9 169.2L319.6 164.0M332.5 169.2L338.1 164.0M351.1 169.3L356.7 164.0M369.5 169.2L375.2 164.0M387.9 168.9L393.8 164.0M406.3 168.7L412.4 164.1M424.7 168.5L431.0 164.1M591.7 168.6L597.9 164.1M610.6 169.1L616.4 164.0M629.2 169.1L634.9 164.0M647.7 169.1L653.5 164.0M666.2 169.0L672.1 164.0M684.7 169.0L690.6 164.0M702.7 168.2L709.3 164.2M720.6 166.9L727.9 164.4M739.3 167.3L746.5 164.3M759.4 169.5L764.7 163.9M778.3 169.8L783.2 163.9M797.0 169.9L801.7 163.9M815.3 169.7L820.3 163.9M833.6 169.5L838.9 163.9M852.1 169.4L857.5 164.0M128.3 178.4L134.1 173.4M146.7 178.3L152.7 173.4M165.2 178.2L171.2 173.5M183.6 178.1L189.8 173.5M202.2 178.1L208.4 173.5M239.5 178.3L245.4 173.4M258.1 178.4L264.0 173.4M276.7 178.5L282.5 173.4M295.3 178.5L301.0 173.4M313.9 178.6L319.6 173.4M332.5 178.6L338.1 173.4M351.1 178.7L356.7 173.4M369.5 178.6L375.2 173.4M387.9 178.3L393.8 173.4M666.2 178.4L672.1 173.4M684.7 178.4L690.6 173.4M702.7 177.6L709.3 173.6M720.6 176.3L727.9 173.8M739.3 176.7L746.5 173.7M759.4 178.9L764.7 173.3M778.3 179.2L783.2 173.3M833.6 178.9L838.9 173.3M852.1 178.8L857.5 173.4M258.1 187.8L264.0 182.8M276.7 187.9L282.5 182.8M295.3 187.9L301.0 182.8M313.9 188.0L319.6 182.8M332.5 188.0L338.1 182.8M851.2 74.7L856.1 75.7M835.1 84.2L840.1 84.6" stroke="#000" stroke-width="1.4" fill="none"/><path d="M119.5 121.8L116.5 127.8L113.1 124.1ZM138.1 121.9L135.0 127.9L131.7 124.1ZM119.5 132.3L116.5 138.3L113.1 134.6ZM138.1 132.4L135.0 138.4L131.7 134.6ZM156.8 132.5L153.5 138.4L150.3 134.5ZM175.4 132.6L172.0 138.4L168.9 134.5ZM268.0 132.4L264.8 138.4L261.6 134.6ZM286.5 132.3L283.4 138.4L280.1 134.6ZM305.0 132.3L302.0 138.3L298.6 134.6ZM323.5 132.2L320.5 138.3L317.2 134.6ZM342.0 132.2L339.1 138.3L335.7 134.6ZM360.5 132.1L357.7 138.3L354.2 134.7ZM435.3 132.9L431.6 138.5L428.7 134.4ZM733.0 134.5L727.8 138.9L726.2 134.2ZM751.4 134.1L746.5 138.8L744.6 134.2ZM768.4 131.9L765.9 138.2L762.2 134.7ZM786.6 131.6L784.5 138.1L780.7 134.8ZM119.5 141.7L116.5 147.7L113.1 144.0ZM138.1 141.8L135.0 147.8L131.7 144.0ZM156.8 141.9L153.5 147.8L150.3 143.9ZM175.4 142.0L172.0 147.8L168.9 143.9ZM194.1 142.1L190.5 147.9L187.5 143.9ZM212.6 142.1L209.0 147.9L206.1 143.9ZM231.1 142.0L227.6 147.9L224.6 143.9ZM249.5 141.9L246.2 147.8L243.1 143.9ZM268.0 141.8L264.8 147.8L261.6 144.0ZM286.5 141.7L283.4 147.8L280.1 144.0ZM305.0 141.7L302.0 147.7L298.6 144.0ZM323.5 141.6L320.5 147.7L317.2 144.0ZM342.0 141.6L339.1 147.7L335.7 144.0ZM360.5 141.5L357.7 147.7L354.2 144.1ZM379.2 141.6L376.2 147.7L372.8 144.0ZM397.9 141.9L394.6 147.8L391.5 143.9ZM416.6 142.1L413.1 147.9L410.1 143.9ZM435.3 142.3L431.6 147.9L428.7 143.8ZM454.0 142.5L450.1 148.0L447.4 143.8ZM472.7 142.7L468.5 148.1L466.0 143.7ZM547.6 144.4L542.1 148.4L540.9 143.5ZM565.9 143.6L561.0 148.3L559.1 143.6ZM584.0 142.6L579.9 148.0L577.3 143.8ZM602.2 142.2L598.6 147.9L595.6 143.9ZM620.4 141.7L617.3 147.8L614.0 144.0ZM638.9 141.7L635.9 147.7L632.5 144.0ZM657.5 141.7L654.4 147.7L651.1 144.0ZM676.1 141.8L672.9 147.8L669.7 144.0ZM694.7 141.8L691.5 147.8L688.2 144.0ZM713.8 142.6L709.7 148.0L707.1 143.8ZM733.0 143.9L727.8 148.3L726.2 143.6ZM751.4 143.5L746.5 148.2L744.6 143.6ZM768.4 141.3L765.9 147.6L762.2 144.1ZM786.6 141.0L784.5 147.5L780.7 144.2ZM805.0 140.9L803.1 147.4L799.2 144.3ZM823.8 141.1L821.6 147.5L817.8 144.2ZM842.6 141.3L840.1 147.6L836.4 144.1ZM861.2 141.4L858.6 147.6L855.0 144.1ZM119.5 151.1L116.5 157.1L113.1 153.4ZM138.1 151.2L135.0 157.2L131.7 153.4ZM156.8 151.3L153.5 157.2L150.3 153.3ZM175.4 151.4L172.0 157.2L168.9 153.3ZM194.1 151.5L190.5 157.3L187.5 153.3ZM212.6 151.5L209.0 157.3L206.1 153.3ZM231.1 151.4L227.6 157.3L224.6 153.3ZM249.5 151.3L246.2 157.2L243.1 153.3ZM268.0 151.2L264.8 157.2L261.6 153.4ZM286.5 151.1L283.4 157.2L280.1 153.4ZM305.0 151.1L302.0 157.1L298.6 153.4ZM323.5 151.0L320.5 157.1L317.2 153.4ZM342.0 151.0L339.1 157.1L335.7 153.4ZM360.5 150.9L357.7 157.1L354.2 153.5ZM379.2 151.0L376.2 157.1L372.8 153.4ZM397.9 151.3L394.6 157.2L391.5 153.3ZM416.6 151.5L413.1 157.3L410.1 153.3ZM435.3 151.7L431.6 157.3L428.7 153.2ZM454.0 151.9L450.1 157.4L447.4 153.2ZM472.7 152.1L468.5 157.5L466.0 153.1ZM491.7 153.0L486.8 157.6L484.9 153.0ZM510.5 153.8L505.0 157.8L503.8 152.9ZM529.1 153.8L523.5 157.8L522.3 152.9ZM547.6 153.8L542.1 157.8L540.9 152.9ZM565.9 153.0L561.0 157.7L559.1 153.0ZM584.0 152.0L579.9 157.4L577.3 153.2ZM602.2 151.6L598.6 157.3L595.6 153.3ZM620.4 151.1L617.3 157.2L614.0 153.4ZM638.9 151.1L635.9 157.1L632.5 153.4ZM657.5 151.1L654.4 157.1L651.1 153.4ZM676.1 151.2L672.9 157.2L669.7 153.4ZM694.7 151.2L691.5 157.2L688.2 153.4ZM713.8 152.0L709.7 157.4L707.1 153.2ZM733.0 153.3L727.8 157.7L726.2 153.0ZM751.4 152.9L746.5 157.6L744.6 153.0ZM768.4 150.7L765.9 157.0L762.2 153.5ZM786.6 150.4L784.5 156.9L780.7 153.6ZM805.0 150.3L803.1 156.8L799.2 153.7ZM823.8 150.5L821.6 156.9L817.8 153.6ZM842.6 150.7L840.1 157.0L836.4 153.5ZM861.2 150.8L858.6 157.0L855.0 153.5ZM119.5 160.5L116.5 166.5L113.1 162.8ZM138.1 160.6L135.0 166.6L131.7 162.8ZM156.8 160.7L153.5 166.6L150.3 162.7ZM175.4 160.8L172.0 166.6L168.9 162.7ZM194.1 160.9L190.5 166.7L187.5 162.7ZM212.6 160.9L209.0 166.7L206.1 162.7ZM231.1 160.8L227.6 166.7L224.6 162.7ZM249.5 160.7L246.2 166.6L243.1 162.7ZM268.0 160.6L264.8 166.6L261.6 162.8ZM286.5 160.5L283.4 166.6L280.1 162.8ZM305.0 160.5L302.0 166.5L298.6 162.8ZM323.5 160.4L320.5 166.5L317.2 162.8ZM342.0 160.4L339.1 166.5L335.7 162.8ZM360.5 160.3L357.7 166.5L354.2 162.9ZM379.2 160.4L376.2 166.5L372.8 162.8ZM397.9 160.7L394.6 166.6L391.5 162.7ZM416.6 160.9L413.1 166.7L410.1 162.7ZM435.3 161.1L431.6 166.7L428.7 162.6ZM602.2 161.0L598.6 166.7L595.6 162.7ZM620.4 160.5L617.3 166.6L614.0 162.8ZM638.9 160.5L635.9 166.5L632.5 162.8ZM657.5 160.5L654.4 166.5L651.1 162.8ZM676.1 160.6L672.9 166.6L669.7 162.8ZM694.7 160.6L691.5 166.6L688.2 162.8ZM713.8 161.4L709.7 166.8L707.1 162.6ZM733.0 162.7L727.8 167.1L726.2 162.4ZM751.4 162.3L746.5 167.0L744.6 162.4ZM768.4 160.1L765.9 166.4L762.2 162.9ZM786.6 159.8L784.5 166.3L780.7 163.0ZM805.0 159.7L803.1 166.2L799.2 163.1ZM823.8 159.9L821.6 166.3L817.8 163.0ZM842.6 160.1L840.1 166.4L836.4 162.9ZM861.2 160.2L858.6 166.4L855.0 162.9ZM138.1 170.0L135.0 176.0L131.7 172.2ZM156.8 170.1L153.5 176.0L150.3 172.1ZM175.4 170.2L172.0 176.0L168.9 172.1ZM194.1 170.3L190.5 176.1L187.5 172.1ZM212.6 170.3L209.0 176.1L206.1 172.1ZM249.5 170.1L246.2 176.0L243.1 172.1ZM268.0 170.0L264.8 176.0L261.6 172.2ZM286.5 169.9L283.4 176.0L280.1 172.2ZM305.0 169.9L302.0 175.9L298.6 172.2ZM323.5 169.8L320.5 175.9L317.2 172.2ZM342.0 169.8L339.1 175.9L335.7 172.2ZM360.5 169.7L357.7 175.9L354.2 172.3ZM379.2 169.8L376.2 175.9L372.8 172.2ZM397.9 170.1L394.6 176.0L391.5 172.1ZM676.1 170.0L672.9 176.0L669.7 172.2ZM694.7 170.0L691.5 176.0L688.2 172.2ZM713.8 170.8L709.7 176.2L707.1 172.0ZM733.0 172.1L727.8 176.5L726.2 171.8ZM751.4 171.7L746.5 176.4L744.6 171.8ZM768.4 169.5L765.9 175.8L762.2 172.3ZM786.6 169.2L784.5 175.7L780.7 172.4ZM842.6 169.5L840.1 175.8L836.4 172.3ZM861.2 169.6L858.6 175.8L855.0 172.3ZM268.0 179.4L264.8 185.4L261.6 181.6ZM286.5 179.3L283.4 185.4L280.1 181.6ZM305.0 179.3L302.0 185.3L298.6 181.6ZM323.5 179.2L320.5 185.3L317.2 181.6ZM342.0 179.2L339.1 185.3L335.7 181.6ZM858.8 76.3L854.8 77.0L855.4 74.1ZM842.9 84.8L839.0 86.0L839.3 83.0Z" fill="#000"/>
<path d="M110 8.1L201.4 10.1L196.3 16.1L191.4 22.1L186.9 28.2L182.6 34.2L178.5 40.2L174.7 46.2L171.1 52.2L167.7 58.3L164.6 64.3L161.6 70.3L158.7 76.3L156.1 82.3L153.6 88.4L151.2 94.4L149 100.4L146.9 106.4L145 112.4L143.1 118.5L141.4 124.5L139.7 130.5L138.2 136.5L136.7 142.5L135.4 148.5L134.1 154.6L132.9 160.6L131.7 166.6L130.6 172.6L129.6 178.6L128.7 184.7L127.8 190.7L126.9 196.7L126.1 202.7L125.4 208.7L124.7 214.8L124 220.8L123.4 226.8L122.8 232.8L122.3 238.8L121.7 244.9L121.2 250.9L120.8 256.9L120.4 262.9L119.9 268.9L119.6 275L119.2 281L118.9 287L110 289ZM866 8.1L774.5 10.1L779.7 16.1L784.6 22.1L789.1 28.2L793.4 34.2L797.5 40.2L801.3 46.2L804.9 52.2L808.3 58.3L811.4 64.3L814.4 70.3L817.3 76.3L819.9 82.3L822.4 88.4L824.8 94.4L827 100.4L829.1 106.4L831 112.4L832.9 118.5L834.6 124.5L836.3 130.5L837.8 136.5L839.3 142.5L840.6 148.5L841.9 154.6L843.1 160.6L844.3 166.6L845.4 172.6L846.4 178.6L847.3 184.7L848.2 190.7L849.1 196.7L849.9 202.7L850.6 208.7L851.3 214.8L852 220.8L852.6 226.8L853.2 232.8L853.7 238.8L854.3 244.9L854.8 250.9L855.2 256.9L855.6 262.9L856.1 268.9L856.4 275L856.8 281L857.1 287L866 289Z" fill="#fff" fill-opacity="0.5"/>
</g>
<rect x="111.95" y="10.1" width="752.0999999999999" height="276.9" fill="none" stroke="#000" stroke-width="1.8"/>
<path d="M112 79.2h15.5M864 79.2h-15.5M112 148h15.5M864 148h-15.5M112 216.8h15.5M864 216.8h-15.5M176.8 287v-16.6M298.3 287v-16.6M424 287v-16.6M549.7 287v-16.6M675.3 287v-16.6M801 287v-16.6" stroke="#000" stroke-width="1.5" fill="none"/>
<path d="M112 10.6h15.5M864 10.6h-15.5M112 286.1h15.5M864 286.1h-15.5" stroke="#000" stroke-width="2.4" fill="none"/>
<text x="95.8" y="19.6" font-size="24.9" text-anchor="end">64</text>
<text x="95.8" y="88.4" font-size="24.9" text-anchor="end">32</text>
<text x="95.8" y="157.2" font-size="24.9" text-anchor="end">16</text>
<text x="95.8" y="226" font-size="24.9" text-anchor="end">8</text>
<text x="95.8" y="294.8" font-size="24.9" text-anchor="end">4</text>
<g clip-path="url(#cpB)">
<rect x="110.95" y="319.7" width="754.0999999999999" height="278.9" fill="#3b9ab2"/>
<g filter="url(#bl)">
<path fill="#459eaa" d="M332.4 543.4 329.4 543.6 326.4 543.1 321.4 540.4 317.1 535.2 312.2 524.2 308.7 519.2 306.4 517.2 303.2 515.2 300.4 514.2 296.4 513.6 291.4 514.1 282.4 516.1 278.4 517.5 275.2 519.2 271.1 523.2 265.8 532.2 263.4 535.3 259.4 538.8 255.4 540.7 251.4 541.6 246.4 541.4 242.4 540.2 234.4 536.5 231.4 535.8 228.4 536.4 219.4 540.9 214.4 541.3 210.4 539.6 208.4 537.9 206.4 535.2 204.2 530.2 201.3 520.2 198.6 515.2 194.4 511 189.6 508.2 186.3 507.2 181.4 506.7 157.4 508 147.4 507.6 136.4 506.4 131.4 504.5 118.4 497.2 112.6 495.2 108.5 494.4 107.7 484.2 107.5 460.2 107.6 402.2 107.8 398.2 108.5 395.5 118.5 395.7 124.5 397.3 128.1 400.2 133.4 409 138.4 413.8 143 416.2 153.4 419.9 167.4 425.7 172.4 426.9 178.4 427.4 187.4 427.4 197.4 426.5 214.4 428 223.4 427.5 244.4 424.9 267.4 424.8 287.4 422.7 309.4 422 340.4 420 342.1 419.2 340.7 418.2 332.5 415.2 322.2 412.2 303.4 407.7 300.4 406.6 297.4 404.2 296.4 402.2 296.3 400.2 297.1 398.2 299 396.2 304.4 393.7 330.4 386.8 349.4 384.1 425.4 384 442.4 386.4 456.4 386.9 470.4 389.1 493.4 389.1 506.4 391 518.5 391 530.5 391.8 590.5 389.4 636.5 388.2 689.5 387.9 743.5 388.6 780.5 389.8 815.5 391.5 843.5 393.5 868.5 396 868.8 405.2 868.5 431.2 869.3 449.2 869.4 470.2 869.3 493.2 868.5 514.6 846.5 516.6 837.5 518 830.5 520.1 817.5 525.9 811.5 527.2 804.5 526.6 789.5 521.6 783.5 521.5 777.5 523.5 766.5 530.3 763.5 531.4 760.5 531.8 757.5 531.6 753.5 530.3 740.7 523.2 733.5 521.7 728.5 521.9 723.5 523 718 525.2 707.5 530.5 703.5 531.6 699.5 531.9 692.5 530.5 681.4 525.2 676.5 523.5 670.5 522.2 663.5 521.6 537.5 521.2 481.4 520.4 416.4 518.7 408.4 519.1 402.4 520.4 396.7 523.2 386.4 530.2 382.4 531.5 379.4 531.7 376.4 531.2 373.4 530.1 361.4 521.9 358.4 520.7 355.4 520.3 352.4 521 349.4 523.2 347.4 526.2 343 535.2 339.9 539.2 336.4 541.9Z"/>
<path fill="#4ca1a4" d="M331.4 532.5 328.4 532.5 325.4 531 322.9 528.2 317.4 519.2 311.9 512.2 307.4 508.5 302.4 506.7 298.4 506.4 293.4 507.2 275.4 512.2 270.4 514.1 266.9 516.2 264.6 518.2 256.4 528.2 253.4 530.1 249.4 530.8 246.4 530.1 243.4 528.5 240.9 526.2 235.4 519.9 233.4 518.4 231.4 517.7 228.4 518 226.4 519 220.4 525.6 218.4 527.2 216.4 527.8 214.4 527.4 212.9 526.2 211.4 524.2 207.6 516.2 204.5 512.2 200.4 509.2 192.9 505.2 189.4 503.9 185.4 503.1 180.4 502.8 164.4 504.1 153.4 504.2 145.4 503.7 136.4 502.5 131.4 500.5 119 493.2 113.5 491.1 108.5 490 107.7 480.2 107.6 460.2 107.7 404.2 107.9 399.2 108.5 397 119.5 397.3 124.5 399 127.5 401.8 133.3 411.2 137.4 415.2 159.4 427.2 164.4 429.4 168.4 430.4 174.4 431.2 185.4 431.4 197.4 430.8 208.4 432.5 217.4 433 225.4 432.6 244.4 430.3 251.4 430.4 269.4 432.1 276.4 431.3 287.4 428.9 308.4 429.7 317.4 429.6 343.4 427.6 365.4 425 369.4 424.2 370.7 423.2 369.7 422.2 362.4 418.4 341.4 415.5 305.4 406.5 300.4 404.5 298.6 402.2 298.5 400.2 299.5 398.2 301.4 396.7 304.4 395.4 329.4 388.6 348.4 385.7 425.4 385.6 443.4 388.1 456.4 388.5 469.4 390.8 494.4 391 506.3 393.2 519.5 393.4 531.5 395.1 551.5 394.8 562.5 396.6 611.5 393.9 665.5 392.7 721.5 393.1 773.5 395 796.5 396.6 815.5 398.5 830.5 400.9 838.2 403.2 840.9 405.2 840.9 406.2 838.6 408.2 828.5 411.9 810.1 417.2 806.7 419.2 806.2 420.2 806.5 421.2 810.3 423.2 814.4 424.2 826.5 425 840.5 435.2 847.5 438.5 854.5 439.7 868.5 439.7 869.2 449.2 869.4 470.2 869.2 492.2 868.5 502.3 861.9 503.2 844.6 507.2 834.5 511.2 819.5 519 813.5 520.9 809.5 521.3 805.5 520.9 790.5 515.7 785.5 515 779.5 516.4 765.5 523 759.5 524 753.5 522.8 740.5 517.8 736.5 516.9 731.5 516.7 722.5 518.1 706.5 523.6 699.5 524.5 693.5 523.7 676.5 518.8 664.5 517.4 611.5 517.6 547.5 517 492.4 515.8 458.4 514.2 440.2 512.2 437 511.2 436.9 510.2 444.3 508.2 453.4 506.7 490.4 504.3 510.4 505.2 528.5 504.6 547.5 502.2 552.3 501.2 553.7 500.2 552.2 499.2 538.5 496.4 529 493.2 520.5 491.8 511.4 492.3 492.4 497 473.4 495.9 453.4 496.2 435.7 494.2 425.4 493.7 418.9 494.2 413.4 495.2 407.2 497.2 401.4 500.2 400.3 501.2 399.3 503.2 399.9 505.2 403.6 510.2 402.6 512.2 388.4 520.8 384.4 522.5 381.4 523.1 377.4 522.9 373.4 521.5 368.3 518.2 363.8 514.2 362.4 512.2 362.1 510.2 364.7 504.2 364.5 503.2 363.8 502.2 361.6 501.2 358.4 500.8 354.4 501.1 351.4 502.2 349.7 503.2 348.1 505.2 347.4 511.2 346.7 513.2 337.4 527.6 334.4 531ZM487.5 417.2 488.2 416.2 485.4 415.1 481.6 416.2 480.8 417.2ZM453 419.2 467.6 418.2 469.4 417.2 456.8 416.2 443.4 415.9 439.2 417.2 437 419.2 440.4 419.9ZM392.6 422.2 397.4 421.2 388.4 420.2 382.7 421.2 380.7 422.2 384.4 422.8Z"/>
<path fill="#53a49e" d="M377.4 419.3 371.4 419.6 362.4 416.7 345.4 414.7 338.4 413.4 304.4 404.9 301.2 403.2 300.4 402.2 300.2 400.2 301.4 398.4 303.4 397.2 314.4 393.7 331.4 389.4 346.4 387 423.4 386.7 443.4 389.3 456.4 389.7 469.4 392 493.4 392.1 497.4 392.6 504.4 394.3 519.5 394.8 530.5 396.7 552.5 396.8 555.5 397.7 557.9 399.2 559.6 401.2 561 404.2 561 405.2 559.9 407.2 555.5 409.9 542.5 411.8 524.5 415.4 496.4 414.7 485.4 412.4 475.4 414.2 442.4 414 433.4 416.8 425.4 418.1 388.4 417.8ZM705.5 519.4 700.5 520 695.5 519.7 675.5 514.4 661.5 512.8 649.5 512.5 629.5 513.6 610.5 513.5 571.1 512.2 558 511.2 555.8 510.2 560.9 509.2 590.5 506.3 596.5 505 598.5 504.2 599.5 503.2 599 502.2 597.4 501.2 586.5 498.2 577.5 496.8 539.5 492.9 528.3 490.2 519.5 489.1 511.4 489.6 492.4 493.4 472.4 492.6 453.4 493 428.4 491.3 421.4 491.5 415.4 492.3 401.8 496.2 394.3 499.2 388.7 502.2 387.7 503.2 387.4 504.2 390 509.2 389.7 512.2 386.4 515.2 381.4 516.7 378.4 516.5 376.4 515.9 374 514.2 372.7 512.2 373.1 509.2 377.1 504.2 377.3 503.2 375.3 501.2 370.6 499.2 366.4 498.2 360.4 497.6 354.4 498 347.4 500.1 342.7 503.2 340.3 506.2 337.6 513.2 335.8 516.2 332.4 519.3 329.4 520 327.4 519.5 324.4 517.6 317 510.2 313.2 507.2 307.4 504.4 302.4 503.3 298.4 503.3 294.4 503.8 286.4 506.2 267.5 510.2 261 512.2 253.4 516 250.4 516.7 247.4 515.8 240.6 511.2 235.4 509.7 229.4 509.7 218.4 512.1 214.4 512 193.4 502.9 186.4 501 179.4 500.7 164.4 501.8 154.4 502 145.4 501.4 136.4 500.1 131.4 498.1 118.5 490.2 113.3 488.2 108.5 487.1 107.8 478.2 107.6 464.2 107.8 405.2 108.1 399.2 108.5 398 115.5 398 120.5 398.6 123.5 399.6 126.4 402.2 132.4 411.7 137 416.2 151.4 424.6 160.4 431 163.4 432.1 167.4 432.9 180.4 433.8 197.4 433.4 209.3 435.2 217.4 435.6 225.4 435.3 245.4 433.4 252.4 433.7 265.4 435.3 271.4 435.5 288.4 433.2 320.4 436 371.4 439.2 382.5 438.2 393.9 435.2 398.4 433.2 399 432.2 398.6 430.2 399.3 429.2 401.9 428.2 408.7 427.2 452.4 423.1 518.5 421.5 561.5 418.9 578.2 417.2 582.6 416.2 584.2 415.2 583.7 414.2 581.9 413.2 569.4 408.2 568.2 407.2 567.7 406.2 568.3 405.2 572.9 403.2 577.2 402.2 591.4 400.2 621.5 398 661.5 396.8 703.5 396.9 742.5 398.2 763.5 399.7 778.5 401.5 786.4 403.2 789 404.2 790.3 405.2 790.3 406.2 786.8 408.2 779.3 410.2 731.8 418.2 725 420.2 718.3 423.2 708.1 425.2 671.5 430.4 644.5 430.9 636.5 431.9 629.5 433.5 619.5 433.1 607.5 433.6 601.5 434.6 599.7 435.2 599.5 436.2 601.5 437.2 608.5 438.3 620.5 438.3 629.5 437.1 638.5 438.8 646.5 439.2 670.5 436.4 678.5 436.5 694.5 437.5 703.5 437.3 711.4 436.2 723.5 433.5 730.5 432.7 739.5 433 758.5 436 765.5 436.4 772.5 435.7 786.5 432.9 793.5 432 825.5 431.3 828.5 432.3 843.1 440.2 848.5 442.1 855.5 442.9 868.5 442.9 869.2 450.2 869.3 470.2 869.1 492.2 868.5 498.4 846.7 501.2 826.5 505.8 821.5 505.2 820.5 506.2 820.4 510.2 818.3 513.2 815.1 515.2 810.5 516.4 807.1 516.2 803.5 515.2 799.1 512.2 798.4 511.2 798.3 509.2 799.3 507.2 802 504.2 802.4 503.2 801.5 502.2 797.5 501.3 791.5 501 782.5 501.2 777.5 501.8 773.6 503.2 772.8 504.2 772.8 505.2 774.3 510.2 773.6 512.2 771.8 514.2 768.9 516.2 765.5 517.8 759.5 518.9 755.5 518.4 750.5 516.7 737.5 510.6 729.5 507.7 724.1 504.2 719.7 502.2 715.5 501 710.5 500.7 708.8 501.2 709.7 502.2 712 503.2 724.3 507.2 725.9 508.2 725.9 509.2 724 511.2 719 514.2 712.4 517.2Z"/>
<path fill="#5aa799" d="M373.4 418.2 369.4 417.7 362.4 415.4 340.4 412.7 307.4 404.5 303.4 403.1 302.4 402.2 302.1 400.2 303.4 398.6 305.4 397.6 317.4 394 332.4 390.3 347.4 388 423.4 387.7 443.4 390.3 456.4 390.8 469.4 393.1 493.4 393.2 497.4 393.7 504.4 395.4 518.5 395.8 530.5 397.9 550.5 397.9 553.5 398.5 555.5 399.6 556.8 401.2 557.2 403.2 556 406.2 552.5 408.2 523.5 413.7 496.4 413.2 485.4 411 475.4 412.8 442.4 412.7 433.4 415.3 425.4 416.6 388.4 416.4ZM327.4 510.2 323.4 509.3 310.8 503.2 306.4 501.9 302.4 501.3 295.4 501.7 286.4 504.1 278.4 505.6 264.4 507.4 253.4 507.7 241.2 506.2 235.4 506 217.4 507.8 210.4 506.8 197.4 502.8 190.5 500.2 185.4 499.2 178.4 499.1 158.4 500.4 144.4 499.7 134.4 497.8 130.4 495.7 118.8 488.2 113.5 486.1 108.5 484.9 107.8 475.2 107.7 460.2 107.9 405.2 108.5 398.9 118.5 399.1 123.5 400.7 126 403.2 131.7 412.2 136.9 417.2 151.4 425.9 161.4 433.6 164.4 434.4 171.4 435.2 197.4 435.2 209.4 437 217.4 437.5 225.1 437.2 245.4 435.4 252.4 435.7 265.4 437.4 271.4 437.6 288.4 435.5 320.4 438.3 374.4 441.1 399.4 438.3 420.4 438.3 427.4 437.7 435.6 436.2 441.7 434.2 443.6 433.2 447.4 429.9 452 428.2 455.4 427.8 479.4 427.8 492.4 428.2 493.9 429.2 492.6 430.2 485.4 431.6 482.5 433.2 483.2 434.2 485.9 435.2 493.4 436.5 499.4 438.4 506.4 439.6 516.5 440 525.5 439.3 533.8 437.2 539.5 434.6 546.5 436.2 553.8 437.2 583.5 439.4 602.5 441.6 613.5 442 630.5 441.1 639.5 441.8 646.5 441.8 672.5 439.5 700.5 439.7 724.5 436.9 732.5 436.5 742.5 436.7 758.5 438.3 766.5 438.5 771.5 438.2 794.5 434.7 809.5 434 824.5 434 828.5 434.9 842.7 442.2 848 444.2 855.5 445.1 868.5 445.2 868.9 448.2 869.2 478.2 869 492.2 868.5 496.3 852.5 499 844.5 499.2 835.5 500.7 827.5 501.5 815.5 498.2 804.5 497.7 774.5 499.1 756.5 501.9 742.5 502.3 732.5 501.5 713.5 497.2 706.5 496.7 701 497.2 696.1 498.2 680.5 502.8 670.5 503.4 646.5 500.2 639.5 500.2 629.5 501.4 608.5 499 586.2 495.2 539.5 490.6 526.5 487.8 517.5 487.2 510.4 487.8 492.4 491.1 472.4 490.4 453.4 490.9 432.4 489.6 421.4 489.8 412.3 491.2 391.4 497.3 384.4 498.4 378.4 498.1 365.4 496 355.4 496.1 350.1 497.2 344.8 499.2 339.7 502.2 331.4 508.9 329.4 509.9ZM697.5 410.2 675.5 410.7 654.5 410.1 634.8 408.2 630.5 407.2 628.6 406.2 629.2 405.2 632.4 404.2 639.2 403.2 652.5 402.2 673.5 401.6 708.5 402.3 720.1 403.2 726.6 404.2 729.5 405.2 729.6 406.2 727.5 407.1 721.8 408.2ZM541.5 432.3 538.5 432.7 533.4 429.2 532.8 428.2 534.5 427 539.5 426 558.5 427.1 559.2 427.2 560.3 428.2ZM703.5 515.4 698.5 515.8 693.5 515.1 688.7 513.2 686.2 511.2 685.9 510.2 686.3 509.2 688.5 507.9 695.5 506.5 703.5 507.1 708.7 509.2 709.7 510.2 710 511.2 709.7 512.2 707.1 514.2ZM761.5 512.2 759.5 512.7 757.5 512.5 755.5 511.4 754.9 510.2 755.5 509.2 757.5 508.3 760.5 508.7 762.3 510.2 762.4 511.2Z"/>
<path fill="#63aa91" d="M379.4 416.3 374.4 416.9 371.4 416.8 362.4 414.2 345.4 412.4 339.4 411.4 307.1 403.2 305 402.2 304.2 401.2 304.3 400.2 307.4 398.1 320.7 394.2 333.2 391.2 347.4 389.1 423.4 388.8 443.4 391.4 456.4 391.8 469.4 394.1 493.4 394.2 504.4 396.4 518.5 396.8 530.5 398.9 550.5 399.1 553.8 400.2 554.8 401.2 555.3 403.2 554.4 405.2 551.5 406.9 523.5 412.4 496.4 412 485.4 409.9 475.4 411.7 442.4 411.6 432.4 414.3 425.4 415.3 388.4 415.2ZM329.4 505.5 326.4 506.1 323.4 505.9 309.4 501.1 305.4 500.2 300.4 499.8 295.4 500.2 285.4 502.7 269.4 505 259.4 505.1 239.4 503.7 215.4 505.3 206.4 503.8 198.4 501.7 191.4 499.1 185.4 497.9 179.4 497.8 163.4 498.9 152.4 499 141.4 497.9 136.4 497 133.4 495.9 118.5 486.3 113.5 484.2 108.5 483 107.7 460.2 108 405.2 108.5 399.7 117.5 399.9 122.6 401.2 125.5 403.8 130.7 412.2 135.5 417.2 151.4 427 161.4 435.2 163.4 435.9 168.4 436.4 181.4 436.8 197.4 436.6 208.4 438.3 217.4 438.9 245.4 436.9 271.4 439.1 288.4 437.2 323.4 440.1 372.4 442.5 380 442.2 399.4 440.2 425.4 440.1 454.4 436.9 492.4 440.1 501.4 441.4 510.4 442.1 523.5 441.9 539.5 439.6 581.5 441.8 601.5 443.6 612.5 444 630.5 443.1 646.5 443.5 673.5 441.2 700.5 441.1 730.5 438.4 742.5 438.5 759.5 439.9 766.5 440 794.5 436.4 809.5 435.6 823.5 435.7 826.5 436 828.5 436.7 846.5 445.4 852.5 446.4 868.5 446.5 868.9 449.2 869.2 477.2 869 491.2 868.5 495.2 851.5 498.3 842.5 498 827.5 499.4 815.5 496.2 807.5 495.7 771.5 497.6 747.5 499.7 738.5 500 729.5 499.1 713.5 495.6 706.5 495.1 696.5 496.2 679.5 500 668.5 500.5 647.5 498.1 639.5 498 630.5 498.6 612.5 497 585.7 493.2 539.5 488.8 526.5 486.2 517.5 485.6 510.4 486.2 492.4 489.3 472.4 488.6 453.4 489.1 433.4 488.1 422.4 488.3 412.4 489.8 393.4 495 385.4 496.3 379.4 496.2 364.4 494.6 356.4 494.7 351.4 495.5 345.9 497.2Z"/>
<path fill="#70ae87" d="M375.4 415.2 371.4 415.2 362.4 412.6 346.4 410.9 339.4 409.7 313.3 403.2 309.4 401.7 308.7 401.2 308.7 400.2 312.5 398.2 327.2 394.2 336.5 392.2 348.4 390.6 422.4 390.2 426.4 390.4 433.4 391.8 442.4 392.7 456.3 393.2 469.4 395.4 493.4 395.5 504.4 397.7 518.5 398 529.5 400.1 548.5 400.4 551.8 401.2 552.8 402.2 552.9 403.2 551.5 404.9 549.5 405.7 523.5 411 497.4 410.7 493.4 410.2 487.4 408.7 484.4 408.5 474.4 410.3 442.4 410.1 439.4 410.6 432.4 412.8 425.4 413.8 387.4 413.6ZM327.4 503.3 321.4 503.1 308.1 499.2 300.4 498.4 294.4 499 286.4 500.9 270.4 503.3 242.4 501.6 215.4 503.3 205.4 501.8 197.4 499.8 190.4 497.5 185.4 496.6 179.4 496.4 163.4 497.6 152.4 497.6 142.4 496.7 134.4 494.8 130.4 492.6 118.5 484.3 113.5 482.2 108.5 480.9 107.8 460.2 108.1 406.2 108.5 400.7 118.5 401 122.5 402.4 124.5 404.3 130.2 413.2 134.4 417.5 151.4 428.2 161.4 436.8 166.4 437.7 197.4 438 209.4 439.9 217.4 440.3 245.4 438.4 252.4 438.7 265.4 440.4 271.4 440.5 288.4 438.7 322.4 441.6 372.4 443.8 380.4 443.6 400.4 441.9 425.4 441.9 453.4 439.8 492.4 442.5 509.4 444.1 522.5 444 539.5 442.2 581.5 444 601.5 445.6 611.5 445.9 630.5 444.9 645.5 445.1 672.5 442.7 701.5 442.4 730.5 440 741.5 440 759.5 441.3 767.5 441.4 793.5 438 815.5 437.2 826.5 437.7 843.5 446 846.5 447 852.5 447.5 868.5 447.5 868.8 449.2 869.1 474.2 868.9 491.2 868.5 494.4 851.5 497.6 839.5 496.8 827.5 497.5 816.5 494.7 808.5 494 788.5 495.4 765.9 496.2 745.5 497.9 737.5 498.2 729.5 497.4 714 494.2 706.5 493.6 698.5 494.2 679.5 498.1 668.5 498.6 646.5 496.3 630.5 496.5 611.5 494.9 584.5 491.1 539.5 486.9 526.5 484.4 518.5 483.8 511.4 484.3 492.4 487.4 473.4 486.7 453.4 487.3 432.4 486.5 422.4 486.8 412.7 488.2 393.4 493.3 385.4 494.5 379.4 494.5 364.4 493.2 356.4 493.4 347.4 495.2 332.4 501.8Z"/>
<path fill="#7cb07d" d="M378.4 412.3 372.4 412.7 362.4 409.9 346.2 408.2 340.6 407.2 321.7 402.2 318.9 401.2 318.4 400.2 320.1 399.2 331.2 396.2 349.4 393.4 423.4 392.7 442.4 394.9 455.4 395.1 468.4 397.1 494.4 397.2 503.4 399.1 518.5 399.4 529.5 401.5 545.4 402.2 547.9 403.2 546.1 404.2 535.4 407.2 522.5 409.6 497.4 409.1 487.4 407 484.4 406.8 474.4 408.6 441.4 408.3 432.4 410.6 425.4 411.6 387.4 411.2ZM270.4 502.2 244.4 500.1 221.4 501.7 213.4 501.7 198.4 498.9 189.4 496.1 183.4 495.3 158.4 496.5 143.4 495.6 134.4 493.5 130.4 491.2 118.5 482.7 113.5 480.4 108.5 479.1 107.9 460.2 108.5 401.9 117.5 402.1 121.5 403.2 123.6 405.2 128.8 413.2 133.4 417.9 151.2 429.2 160.4 437.8 162.4 438.7 164.4 438.9 197.4 439.2 209.4 441.1 217.4 441.5 245.4 439.6 271.4 441.8 289.4 440 301.4 440.7 323.4 442.9 373.4 444.9 399.4 443.3 424.4 443.3 453.4 441.8 507.4 445.7 522.5 445.7 539.5 444.1 581.5 445.7 601.5 447.2 611.5 447.5 630.5 446.5 645.5 446.5 670.5 444.1 701.5 443.5 728.5 441.3 742.5 441.3 760.5 442.5 767.5 442.5 792.5 439.4 814.5 438.4 826.5 439.1 842.5 446.9 845.5 447.9 868.5 448.3 868.7 450.2 869.1 474.2 868.5 493.7 851.5 496.9 837.5 495.6 826.5 496 816.5 493.4 808.5 492.8 789.5 494.2 764.5 495 743.5 496.7 736.5 496.9 728.5 496 714.5 493.1 706.5 492.4 697.4 493.2 679.5 496.8 667.5 497.2 646.5 494.9 630.5 494.8 612.5 493.3 584.5 489.5 539.5 485.2 527.5 482.9 518.5 482.3 510.4 482.9 493.4 485.6 472.4 485 453.4 485.7 433.4 485.1 423.4 485.4 412.4 487 394.4 491.7 387.4 493 380.4 493.2 362.4 492 353.4 492.7 346.4 494.4 331.4 500.5 326.4 501.6 321.4 501.4 308.4 498 300.4 497.2 294.4 497.7 286.4 499.7Z"/>
<path fill="#89b072" d="M524.5 407.3 511.7 407.2 496.4 406.2 492.4 405.2 484.6 402.2 486.8 401.2 494.4 400.5 504.4 401.9 519.5 401.8 531.5 404.4 531.7 405.2ZM271.4 501.3 245.4 498.8 237.4 499 221.4 500.5 212.4 500.3 198.4 497.8 189.4 495.1 183.4 494.3 158.4 495.5 144.4 494.8 138.4 493.6 134.4 492.4 130.4 490 117.5 480.6 112.5 478.3 108.5 477.4 107.9 460.2 108.5 443.3 112.7 443.2 115.4 442.2 108.5 441.1 108.5 403.4 117.5 403.7 119.8 404.2 121.5 405.2 127 413.2 131.4 417.6 151 430.2 155.4 434.2 159.4 438.9 163.4 439.9 197.4 440.3 209.4 442.1 217.4 442.6 245.4 440.7 271.4 442.9 289.4 441.1 301.4 441.8 324.4 444 373.4 445.9 400.4 444.5 424.4 444.6 453.4 443.4 506.4 447.2 522.5 447.2 539.5 445.8 581.5 447.2 610.5 448.9 630.5 447.8 644.5 447.7 670.5 445.2 701.5 444.4 726.5 442.4 741.5 442.4 760.5 443.5 767.5 443.4 792.5 440.4 814.5 439.4 826.5 440.3 844.5 448.6 868.5 449.1 868.6 450.2 869 472.2 868.5 492.9 851.5 496.2 837.5 494.6 826.5 494.8 816.5 492.3 808.5 491.7 789.5 493.1 763.5 494 743.5 495.6 736.5 495.8 728.5 495 713.5 492 706.5 491.5 697.5 492.2 679.5 495.7 667.5 496 645.5 493.6 630.5 493.4 611.5 491.7 584.5 488 539.5 483.6 527.5 481.5 518.5 480.9 511.4 481.4 493.4 484.1 472.4 483.5 453.4 484.3 433.4 483.9 423.4 484.2 412.4 485.8 394.4 490.6 387.4 491.8 379.4 492 362.4 491.1 352.4 491.9 344 494.2 332.4 498.9 326.4 500.3 320.4 500 308.4 497 300.4 496.2 294.4 496.7Z"/>
<path fill="#98b365" d="M272.4 500.3 269.4 500.3 253.4 498.2 245.4 497.7 221.4 499.4 211.4 499.2 199.4 497 190.4 494.4 185.4 493.6 179.4 493.4 161.4 494.6 151.4 494.5 140.4 493.1 133.4 490.8 116.5 478.6 112.5 476.8 108.5 475.9 108 460.2 108.5 445.2 119.5 444.5 122.9 443.2 123.7 442.2 121.5 441 108.5 438.7 108.5 409.2 115.5 408.8 118.5 409.3 129.9 418.2 143.5 426.2 149.4 430.2 154.5 435.2 155.8 437.2 156.4 439.4 157.7 440.2 162.4 440.8 196.4 441.2 209.4 443.1 217.4 443.5 245.4 441.6 271.4 443.8 289.4 442.1 301.4 442.7 324.4 444.9 374.4 446.8 400.4 445.6 423.4 445.7 453.4 444.8 505.4 448.5 522.5 448.5 539.5 447.3 581.5 448.6 609.5 450.2 620.5 449.9 630.5 449 643.5 448.8 670.5 446.1 701.5 445.2 725.5 443.4 741.5 443.3 767.5 444.3 792.5 441.3 813.5 440.4 826.5 441.3 841.5 448.6 844.5 449.7 868.5 450.2 868.9 471.2 868.5 492.1 851.5 495.3 835.5 493.5 826.5 493.7 816.5 491.4 808.5 490.8 788.5 492.3 762.5 493.1 738.5 494.9 728.5 494.1 712.5 491 704.5 490.7 697.5 491.4 679.5 494.7 667.5 495 645.5 492.6 630.5 492.2 611.5 490.4 583.5 486.5 539.5 482.2 526.5 480 518.5 479.6 510.4 480.2 493.4 482.7 472.4 482.1 453.4 483 434.4 482.8 423.4 483.2 412.4 484.8 394.4 489.5 387.4 490.7 379.4 491 362.4 490.2 352.4 491 344.4 493.1 332.4 497.8 326.4 499.1 320.4 498.9 307.4 495.9 300.4 495.2 293.4 496Z"/>
<path fill="#aab856" d="M271.4 499.3 245.4 496.7 221.4 498.4 212.4 498.3 201.4 496.6 190.4 493.6 185.4 492.8 179.4 492.6 163.4 493.7 152.4 493.7 143.4 492.8 135.4 490.9 130.4 487.9 117.5 477.6 113.5 475.6 108.5 474.4 108.1 460.2 108.5 446.8 120.5 446 124.7 444.2 127.7 442.2 128.2 441.2 126.4 440.2 117.7 438.2 113.8 436.2 112.3 434.2 111.9 432.2 112.7 428.2 115 425.2 118.5 422.7 123.5 420.5 127.5 420 131.4 421.2 138.4 424.4 144.8 428.2 148.7 431.2 151.5 434.2 152.6 436.2 152.4 437.3 150 439.2 149.7 440.2 154.5 441.2 161.4 441.7 197.4 442.1 208.4 443.8 215.4 444.3 224.4 444.2 245.4 442.5 271.4 444.7 289.4 442.9 301.4 443.5 324.4 445.8 350.4 446.4 372.4 447.6 381.4 447.5 401.4 446.5 423.4 446.7 452.4 446.1 504.4 449.8 522.5 449.8 539.5 448.7 581.5 449.9 610.5 451.4 644.5 449.7 671.5 446.9 700.5 446 723.5 444.3 740.5 444.1 767.5 445.1 793.5 442.1 813.5 441.2 826.5 442.3 844.5 451 848.5 451.4 868.5 451.4 868.9 470.2 868.5 490.5 851.5 493.8 838.5 492.4 826.5 492.8 816.5 490.5 808.5 489.9 787.5 491.6 763.5 492.2 736.5 494 729.5 493.4 713.5 490.4 706.5 489.9 698.5 490.4 679.5 493.9 668.5 494.2 645.5 491.6 630.5 491.1 612.5 489.3 582.9 485.2 539.5 480.8 526.5 478.7 518.5 478.3 511.4 478.8 493.4 481.3 471.4 480.7 453.4 481.7 434.4 481.7 423.4 482.2 412.4 483.8 394.4 488.5 387.4 489.8 379.4 490.1 362.4 489.4 352.8 490.2 344.7 492.2 332.4 496.8 326.4 498.1 320.4 497.9 307.4 495 300.4 494.4 293.4 495.1Z"/>
<path fill="#bdbf47" d="M326.4 497.2 320.4 497.1 307.4 494.2 300.4 493.7 294.4 494.2 286.4 495.9 271.4 498.1 245.4 495.8 223.4 497.5 215.4 497.6 209.4 497.2 202.4 496 190.4 492.8 185.4 492 179.4 491.9 155.4 493 147.4 492.6 140.4 491.4 135.4 490 132.4 488.4 117.5 476.1 112.5 473.6 108.5 472.4 108.5 448.7 115.5 448.4 120.5 447.6 135.1 440.2 123.1 437.2 120.2 435.2 119.1 433.2 119.2 430.2 121.5 427 125.5 424.5 130.4 423.5 134.5 424.2 141 427.2 146.4 431.2 148.5 434.2 148.2 436.2 146.8 437.2 137.1 440.2 142.8 441.2 157.4 442.4 197.4 442.9 214.4 445.1 223.4 445 245.4 443.3 271.4 445.5 289.4 443.7 301.4 444.3 324.4 446.6 350.4 447.2 373.4 448.3 401.4 447.4 423.4 447.7 451.4 447.3 503.4 451 522.5 451.1 540.5 450.1 581.5 451.2 609.5 452.6 644.5 450.6 674.5 447.4 700.5 446.6 728.5 444.8 742.5 444.9 766.5 445.8 793.5 442.8 813.5 441.9 823.5 442.6 827.5 443.5 845.3 453.2 850.4 455.2 857.5 456.2 868.5 456.6 868.8 470.2 868.5 484.4 850.7 487.2 839.5 490.6 830.5 491.8 826.5 491.9 815.5 489.6 807.5 489.2 787.5 490.8 762.5 491.5 736.5 493.2 728.5 492.5 713.5 489.7 705.5 489.2 697.5 489.9 679.5 493.1 668.5 493.4 645.5 490.7 630.5 490 611.5 488.1 583.5 484 539.5 479.4 527.5 477.5 518.5 477.1 511.4 477.5 493.4 479.9 471.4 479.4 453.4 480.5 433.4 480.7 422.4 481.3 412.4 482.9 394.4 487.6 387.4 488.9 379.4 489.3 361.4 488.7 352.4 489.6 345.4 491.2 332.4 495.9Z"/>
<path fill="#d1c439" d="M137.4 436.2 132.4 436.2 129.1 435.2 126.9 433.2 126.6 432.2 127.2 430.2 129.4 428.3 132.4 427.4 136.4 427.8 139.7 429.2 142 431.2 142.7 433.2 142.2 434.2 140.9 435.2ZM326.4 496.3 320.4 496.1 307.4 493.4 300.4 492.8 295.2 493.2 283.4 495.5 271.4 496.9 245.4 494.9 223.4 496.5 215.4 496.7 204.4 495.4 190.4 492 185.4 491.2 179.4 491 156.4 492.2 148.4 491.8 141.4 490.8 136.4 489.4 133.4 488 129.4 485.1 118.5 475 113.5 472 108.5 470.3 108.5 450.9 114.5 450.6 119.5 449.7 122.5 448.5 131.4 443.6 134.4 442.7 137.4 442.4 160.4 443.4 196.4 443.7 208.4 445.5 216.4 446 224.4 445.8 245.4 444.2 271.4 446.3 290.4 444.6 301.4 445.1 324.4 447.5 350.4 447.9 374.4 449.2 402.4 448.4 449.4 448.6 502.4 452.5 523.5 452.6 540.5 451.7 581.5 452.6 609.5 453.9 644.5 451.6 674.5 448.3 701.5 447.3 727.5 445.7 767.5 446.5 792.5 443.7 812.5 442.7 822.5 443.4 827.5 444.4 833.5 447.5 845.5 454.9 850.5 457 858.5 458.2 868.5 458.6 868.8 470.2 868.5 482.4 862.5 483.1 851.5 485.3 837.5 489.7 829.5 490.9 825.5 490.8 815.5 488.8 808.5 488.3 787.5 490 762.5 490.7 736.5 492.4 728.5 491.7 713.5 488.9 705.5 488.5 697.5 489.1 679.5 492.2 668.5 492.5 645.5 489.7 630.5 488.8 611.5 486.8 582.5 482.5 539.5 477.8 527.5 476 518.5 475.6 511.4 476 493.4 478.3 471.4 477.9 453.4 479.1 434.4 479.5 422.4 480.3 411.4 482.1 394.4 486.6 387.4 487.9 379.4 488.4 361.4 487.9 352.4 488.8 345.4 490.4 331.4 495.3Z"/>
<path fill="#e2ca2f" d="M327.4 495.3 320.4 495.2 307.4 492.6 300.4 492 295.4 492.4 284.4 494.5 272.4 496 265.4 495.9 245.4 494 216.4 495.8 204.4 494.6 190.4 491.2 184.4 490.3 157.4 491.4 149.4 491.1 143.4 490.4 137.4 488.9 133.4 487 128.6 483.2 118.5 473.2 113.5 469.9 108.5 467.9 108.5 453.3 114.5 452.7 119.5 451.5 131.4 445 134.4 444 137.4 443.7 196.4 444.5 208.4 446.3 217.4 446.9 244.4 445 251.4 445.3 269.4 447.2 276.4 446.8 287.4 445.4 293.4 445.4 302.4 446 324.4 448.3 351.4 448.7 375.4 450 403.4 449.4 451.4 450 471.4 452 501.4 454 524.5 454.1 540.5 453.4 581.5 454 606.5 455.2 621.5 454.6 676.5 449 726.5 446.5 742.5 446.5 767.5 447.3 792.5 444.5 812.5 443.5 821.5 444.1 827.5 445.3 834.6 449.2 845.5 456.3 850.5 458.5 859.5 460 868.5 460.5 868.5 480.6 862.5 481.3 851.5 483.7 837.5 488.6 828.5 490 825.5 489.9 815.5 488 807.5 487.6 787.5 489.3 761.5 490 736.5 491.6 728.5 490.9 713.3 488.2 705.5 487.8 698.5 488.3 679.5 491.5 668.5 491.7 644.5 488.7 630.5 487.7 611.5 485.5 584.5 481.3 547.9 477.2 529.5 474.6 519.5 474.1 511.4 474.5 493.4 476.7 471.4 476.3 453.4 477.7 434.4 478.3 422.4 479.2 411.4 481.1 394.4 485.7 387.4 487 379.4 487.6 361.4 487.2 352.4 488 346.4 489.4 333.4 493.8Z"/>
<path fill="#ecc528" d="M272.4 495.2 265.4 495.1 245.4 493.2 223.4 494.9 214.4 495 203.4 493.6 190.4 490.4 185.4 489.7 179.4 489.6 155.4 490.7 147.4 490.2 140.4 488.9 135.4 487.3 131.4 484.7 117.5 470.5 112.5 466.6 108.5 464.6 108.5 456.6 112.5 455.8 119.5 453.3 128.4 447.7 132.4 445.7 135.4 444.9 139.4 444.7 196.4 445.3 209.4 447.2 217.4 447.6 244.4 445.8 251.4 446.1 269.4 447.9 276.4 447.6 287.4 446.2 293.4 446.2 302.4 446.7 327.4 449.2 351.4 449.4 378.4 450.8 403.4 450.3 448.4 451.2 471.4 453.6 500.4 455.7 526.5 455.7 542.5 455.1 581.5 455.5 605.5 456.5 621.5 455.8 646.5 453.2 664.5 450.7 676.5 449.7 726.5 447.2 766.5 448 794.5 445 812.5 444.2 821.5 444.8 827.5 446.2 835.5 450.7 846.5 458.2 850.5 460 859.5 461.8 868.5 462.5 868.5 478.6 862.5 479.4 851.5 482.2 837.5 487.6 828.5 489.2 825.5 489.1 815 487.2 807.5 486.9 787.5 488.6 762.5 489.3 736.5 490.9 729.5 490.3 713.5 487.6 705.5 487.1 697.5 487.8 679.5 490.7 668.5 490.9 644.5 487.8 630.5 486.6 611.5 484.2 584.5 479.9 552.9 476.2 530.5 473 519.5 472.5 511.4 472.9 494.4 475 471.4 474.7 453.4 476.3 423.4 478.1 412.4 479.9 394.4 484.8 386.4 486.3 378.4 486.8 361.4 486.5 352.4 487.3 344.5 489.2 331.4 493.6 326.4 494.6 320.4 494.5 307.4 491.9 300.4 491.3 294.4 491.8 284.4 493.8Z"/>
<path fill="#efb724" d="M272.4 494.2 265.4 494.1 245.4 492.2 223.4 493.9 214.4 494 203.4 492.7 190.4 489.5 185.4 488.8 179.4 488.7 156.4 489.7 149.4 489.5 142.4 488.4 135.4 486.2 129.4 481.7 116.8 466.2 115.1 463.2 114.8 461.2 116.7 458.2 129.4 448.5 134.4 446.4 140.4 445.8 195.4 446.2 209.4 448.1 217.4 448.6 244.4 446.7 251.4 447 269.4 448.9 276.4 448.5 287.4 447.1 294.4 447.1 326.4 450.1 351.4 450.3 379.4 451.8 404.4 451.5 444.4 452.8 454.4 453.5 472.4 456.1 499.4 458.1 527.5 458.3 541.5 457.7 578.5 457.4 603.5 458.3 621.5 457.4 663.5 451.8 677.5 450.5 724.5 448.1 767.5 448.8 793.5 446 811.5 445.1 819.5 445.5 826.5 446.8 834.4 451.2 845.5 459.3 849.5 461.8 859.5 464.7 868.5 466 868.5 475.1 863.5 476 850.5 480.3 836.5 486.6 827.5 488.2 814.5 486.3 807.5 486 786.5 487.7 761.5 488.4 736.5 490 728.5 489.3 713.5 486.8 705.5 486.3 697.5 487 679.5 489.9 668.5 490 611.5 482.5 585.5 478.1 555.5 474.2 532.5 470.6 521.5 469.9 512.5 470.4 494.4 472.5 470.4 472.4 453.4 474.4 423.4 476.8 412.4 478.7 394.4 483.7 386.4 485.2 378.4 485.8 361.4 485.6 352.4 486.4 344.9 488.2 331.4 492.6 326.4 493.6 320.4 493.5 307.4 490.9 300.4 490.4 294.4 490.9 284.4 492.8Z"/>
<path fill="#f0a821" d="M274.4 493.2 266.4 493.3 245.4 491.3 223.4 493 214.4 493 203.4 491.8 190.4 488.7 185.4 487.9 179.4 487.8 156.4 488.9 149.4 488.6 143.4 487.7 135.4 485.2 132.4 483.2 129.2 480.2 125.2 475.2 120.7 468.2 119.1 464.2 119.1 461.2 120.7 458.2 123.2 455.2 127.5 451.3 130.4 449.3 135.4 447.3 143.4 446.8 195.4 447 209.4 449 217.4 449.5 244.4 447.6 250.4 447.8 270.4 449.8 287.4 448 294.4 448 303.4 448.5 326.4 451 350.4 451.1 379.4 452.7 403.4 452.7 430.4 453.7 451.4 455.2 471.4 458.9 488.4 460.8 499.4 461.7 515.9 462.2 527.5 463.6 540.5 461.5 552.5 460.6 577.5 459.7 602.5 460.2 616.5 459.5 663.5 452.7 681.5 451.1 724.5 448.9 767.5 449.6 793.5 446.8 812.5 445.9 822.5 446.8 828.5 448.7 837 454.2 848.5 463.5 857.3 468.2 858.7 469.2 859.6 471.2 859.2 472.2 857.1 474.2 840.5 483.7 834.5 486 828.5 487.1 825.5 487.1 814.5 485.4 807.5 485.2 786.5 486.9 761.5 487.6 736.5 489.1 728.5 488.5 713.5 486 705.5 485.6 697.5 486.2 681.5 488.8 672.5 489.3 661.5 488.4 609.5 480.5 588.5 476.4 549.5 470.2 540.4 468.2 531.5 465.6 526.5 464.8 494.4 469 471.4 469.4 453.4 472.3 422.4 475.6 411.4 477.7 394.4 482.6 385.4 484.4 377.4 484.9 360.4 484.8 351.4 485.8 345.4 487.2 332.4 491.5 326.4 492.6 320.4 492.6 307.4 490.1 300.4 489.6 294.4 490 285.4 491.8Z"/>
<path fill="#ee961f" d="M742.5 488.2 731.5 488.1 714.5 485.4 706.5 484.8 698.5 485.4 678.5 488.3 671.5 488.4 663.5 487.7 607.7 478.2 570.3 470.2 563.6 468.2 561.7 467.2 561 466.2 562 465.2 565.3 464.2 573.5 463.1 584.5 462.4 603.5 462.3 619.5 460.9 660.5 454 675.5 452.3 722.5 449.7 767.5 450.3 793.5 447.6 812.5 446.7 818.5 447.1 824.5 448.1 827.5 449.2 831.5 451.4 836.8 455.2 842.5 460.2 850.1 468.2 851.4 471.2 850.8 473.2 849.2 475.2 842.1 481.2 836.5 484.2 829.5 486 825.5 486.2 815.5 484.7 807.5 484.4 787.5 486.1 759.5 487ZM275.4 492.3 266.4 492.4 245.4 490.4 223.4 492.1 214.4 492.2 203.4 490.9 190.4 487.9 185.4 487.1 179.4 487 156.4 488.1 149.4 487.8 143.4 486.9 135.4 484.2 131.4 481.3 128.6 478.2 125 473.2 122.5 468.2 121.4 464.2 121.6 461.2 123.6 457.2 127 453.2 131 450.2 135.4 448.4 145.4 447.6 184.4 447.6 196.4 447.9 208.4 449.7 217.4 450.3 244.4 448.5 251.4 448.7 270.4 450.6 276.4 450.3 287.4 448.8 295.4 448.8 325.4 451.8 351.4 451.9 380.4 453.6 403.4 453.8 425.4 454.9 441.6 456.2 454.5 458.2 463.7 461.2 466.7 463.2 467 464.2 466.4 465.2 463 467.2 456.5 469.2 416.4 475.4 408.4 477.3 393.4 481.7 385.4 483.4 377.4 484.1 360.4 484 353.4 484.7 345.4 486.4 331.4 490.9 326.4 491.8 320.4 491.7 307.4 489.3 300.4 488.8 294.4 489.2Z"/>
<path fill="#ee831c" d="M745.5 487.3 732.5 487.4 714.5 484.7 706.5 484.2 698.5 484.7 678.5 487.5 671.5 487.6 664.5 487 632.2 481.2 609.2 476.2 593.3 471.2 588.8 469.2 587.9 468.2 588.6 467.2 592.6 466.2 619.5 462.8 632.5 459.9 657.5 455.4 673.5 453.3 720.5 450.4 767.5 451 793.5 448.3 811.5 447.4 817.5 447.7 823.5 448.7 826.5 449.6 830.5 451.8 836.5 456.2 841.8 461.2 845.7 466.2 847.4 470.2 847.4 472.2 846.7 474.2 842.5 479.2 836.5 483 829.5 485.1 825.5 485.3 814.5 483.9 807.5 483.7 786.5 485.4 760.5 486.2ZM277.4 491.3 267.4 491.6 245.4 489.6 223.4 491.3 215.4 491.4 204.4 490.3 190.4 487.1 185.4 486.4 179.4 486.3 157.4 487.3 150.4 487.1 144.4 486.3 139.4 485 135.4 483.3 132.4 481.1 129.6 478.2 126.7 474.2 124.2 469.2 123.1 465.2 123.2 462.2 124.5 458.2 127.5 454.2 131.4 451.1 135.4 449.4 146.4 448.5 183.4 448.3 196.4 448.7 208.4 450.5 217.4 451.1 244.4 449.3 251.4 449.5 270.4 451.4 287.4 449.6 296.4 449.6 325.4 452.6 352.4 452.7 381.4 454.5 413.4 455.5 432.4 457.1 445.2 459.2 451.6 461.2 453.3 462.2 454.2 463.2 454.4 464.2 452.4 466.2 446.8 468.2 413.4 474.7 393.4 480.7 384.4 482.6 376.4 483.2 361.4 483.2 353.4 483.9 345.4 485.6 331.4 490 326.4 490.9 320.4 490.9 307.4 488.5 300.4 488 294.4 488.4Z"/>
<path fill="#ee6d1a" d="M747.5 486.2 733.5 486.6 714.5 483.9 706.5 483.4 698.5 483.9 679.5 486.5 672.5 486.7 665.5 486.1 656.5 484.6 631.5 479.1 613.4 473.2 610.4 471.2 610 470.2 611.5 468.6 614.7 467.2 632.5 461.8 657.5 456.5 671.5 454.4 688.5 453 719.5 451.3 767.5 451.9 794.5 449.1 810.5 448.3 821.5 449.3 825.5 450.3 829.5 452.3 834.8 456.2 840 461.2 842.9 465.2 844.5 469.2 844.7 471.2 844 474.2 841.1 478.2 836.5 481.6 829.5 483.9 825.5 484.2 814.5 483 807.5 482.8 786.5 484.5 760.5 485.3ZM277.4 490.3 267.4 490.7 245.4 488.6 223.4 490.3 215.4 490.4 204.4 489.3 190.4 486.2 185.4 485.5 179.4 485.4 157.4 486.4 145.4 485.5 140.4 484.3 136.4 482.7 133.4 480.7 130.9 478.2 127.9 474.2 125.9 470.2 124.8 466.2 124.8 462.2 126.2 458.2 128.4 455.1 132.4 451.9 136.4 450.3 147.4 449.4 183.4 449.2 196.4 449.7 207.4 451.4 215.4 452 224.4 451.9 245.4 450.2 271.4 452.4 287.4 450.6 294.4 450.5 303.4 451 325.4 453.6 356.4 453.7 383.4 455.8 405.4 456.6 423.4 458.2 430.4 459.3 436.4 461 438.8 462.2 439.8 463.2 440 464.2 438.1 466.2 433.3 468.2 411.4 473.6 394.1 479.2 384.4 481.5 377.4 482.2 362.4 482.3 353.4 483 345.4 484.7 331.4 489.1 326.4 489.9 320.4 489.9 307.4 487.6 300.4 487.1 294.4 487.5Z"/>
<path fill="#ee5916" d="M749.5 485.2 740.5 485.8 733.5 485.7 714.5 483.1 706.5 482.6 698.5 483.1 679.5 485.7 673.5 485.8 666.5 485.3 654.5 483.1 632.5 477.2 628.2 475.2 625.2 473.2 623.6 471.2 623.5 470.2 624.9 468.2 627.8 466.2 634.7 463.2 656.5 457.8 672.5 455.2 689.5 453.7 718.5 452.2 767.5 452.7 794.5 450 810.5 449.1 816.5 449.4 821.5 450.2 825.5 451.3 829 453.2 834.4 457.2 838.3 461.2 841.1 465.2 842.5 469.2 842.6 471.2 841.9 474.2 838.9 478.2 834.5 481.1 828.5 483 825.5 483.2 814.5 482.1 807.5 481.9 785.5 483.7ZM278.4 489.3 267.4 489.8 245.4 487.7 224.4 489.3 215.4 489.5 204.4 488.4 190.4 485.3 185.4 484.6 179.4 484.5 157.4 485.5 145.4 484.6 140.4 483.3 136.4 481.6 131.3 477.2 128.5 473.2 126.8 469.2 126 465.2 126.2 462.2 127.7 458.2 130 455.2 133.4 452.6 137.4 451.2 148.4 450.3 182.4 450.1 196.4 450.6 207.4 452.3 215.4 452.9 224.4 452.8 245.4 451.1 271.4 453.3 287.4 451.5 294.4 451.4 303.4 451.9 325.4 454.5 356.4 454.6 413.7 459.2 424.3 461.2 426.9 462.2 428.3 463.2 428.7 464.2 428.4 465.2 427.2 466.2 422.8 468.2 410.4 472 392.9 478.2 383.4 480.5 377.4 481.2 361.4 481.4 353.4 482.2 345.4 483.8 331.4 488.1 326.4 489 320.4 489 307.4 486.7 300.4 486.2 293.4 486.7Z"/>
<path fill="#f04713" d="M751.5 484.3 740.5 485 733.5 484.9 714.5 482.3 706.5 481.9 699.5 482.3 680.5 484.8 674.5 484.9 667.5 484.4 655.4 482.2 637.5 476.7 634 475.2 631.3 473.2 630.1 471.2 630.1 470.2 631.1 468.2 633.6 466.2 641 463.2 658.5 458.4 674.5 455.9 690.5 454.4 717.5 453 767.5 453.5 794.5 450.8 810.5 449.9 820.5 450.9 825.5 452.3 828.5 453.9 832.8 457.2 836.8 461.2 839.5 465.2 840.8 469.2 840.4 473.2 837.8 477.2 833.4 480.2 827.5 482.1 807.5 481.1 785.5 482.9ZM323.4 488.2 318.4 487.8 306.4 485.7 300.4 485.4 294.4 485.8 280.4 488.1 272.4 488.9 265.4 488.7 245.4 486.8 224.4 488.4 216.4 488.6 205.4 487.7 190.4 484.4 185.4 483.8 179.4 483.7 159.4 484.6 148.4 484.2 139.4 482 136.4 480.5 133.4 478.2 130.9 475.2 128.6 471.2 127.4 467.2 127.3 463.2 128.5 459.2 130.6 456.2 133.4 453.9 137.4 452.3 148.4 451.2 182.4 450.9 196.4 451.4 207.6 453.2 215.4 453.8 224.4 453.7 245.4 452 271.4 454.2 287.4 452.4 294.4 452.3 303.4 452.7 325.4 455.4 355.4 455.4 403.4 459.9 414.5 462.2 416.8 463.2 417.9 464.2 417.9 465.2 417.2 466.2 413.8 468.2 397.4 475.2 386.4 478.7 377.4 480.2 361.4 480.6 353.4 481.3 345.4 483 330.4 487.4Z"/>
<path fill="#f03711" d="M754.5 483.3 734.5 484.1 714.5 481.6 706.5 481.1 699.5 481.5 680.5 483.9 668.5 483.6 656.5 481.4 644 477.2 637.5 473.9 635.8 472.2 635.3 470.2 636.4 468.2 639.1 466.2 648.9 462.2 661.5 458.8 677.5 456.4 691.5 455.1 717.5 453.7 767.5 454.2 793.5 451.7 809.5 450.7 819.5 451.5 824.5 452.9 827.5 454.4 831.5 457.3 835.3 461.2 838 465.2 839 468.2 839 472.2 836.7 476.2 832.7 479.2 827.5 481 824.5 481.2 807.5 480.3 784.5 482.2ZM325.4 487.3 319.4 487.1 307.4 485 300.4 484.5 294.4 484.9 280.4 487.2 272.4 488 265.4 487.9 245.4 485.9 224.4 487.6 216.4 487.8 205.4 486.8 185.4 483 179.4 482.8 159.4 483.8 148.4 483.3 143.4 482.4 139.4 481 136.4 479.5 133.7 477.2 131.3 474.2 129.3 470.2 128.4 466.2 128.4 463.2 129.3 460.2 131.4 456.9 134.4 454.5 138.4 453.1 149.4 452 182.4 451.7 196.4 452.3 208.4 454.2 215.4 454.7 224.4 454.5 245.4 452.9 271.4 455 287.4 453.3 295.4 453.1 303.4 453.6 325.4 456.3 356.4 456.3 375.4 458.1 398.8 461.2 406 463.2 408.4 465.2 408.3 466.2 406.7 468.2 402 471.2 393.1 475.2 385.4 477.7 377.1 479.2 360.4 479.8 352.4 480.6 345.4 482.1 331.4 486.3Z"/>
<path fill="#f2290f" d="M743.5 483.2 731.5 483.1 715.5 480.9 707.5 480.4 699.5 480.8 680.5 483.1 668.5 482.7 657.5 480.5 648.2 477.2 644.2 475.2 641.5 473.2 640.2 471.2 640.2 470.2 641.3 468.2 643.9 466.2 653.5 462 665.5 459 681.5 456.8 693.5 455.7 717.5 454.5 767.5 455 794.5 452.4 809.5 451.5 818.5 452.2 822.5 453.2 826.5 454.8 830.5 457.7 833.9 461.2 836.5 465.2 837.5 468.2 837.3 472.2 835.5 475.5 831.5 478.5 826.5 480.1 806.5 479.6 784.5 481.4ZM270.4 487.2 245.4 485.1 223.4 486.8 214.4 486.8 204.4 485.8 190.4 482.8 185.4 482.2 157.4 483 146.4 482.2 139.4 480.1 136.4 478.4 134 476.2 131.7 473.2 130.3 470.2 129.4 466.2 129.5 463.2 130.5 460.2 132.7 457.2 135.4 455.2 139.4 453.9 150.4 452.8 183.4 452.5 196.4 453.1 207.4 454.9 215.4 455.5 224.4 455.4 245.4 453.7 271.4 455.9 287.4 454.1 295.4 453.9 304.4 454.5 325.4 457.2 356.4 457.2 376.1 459.2 393.1 462.2 399.7 464.2 401.6 466.2 401 468.2 397.3 471.2 391.4 474.2 383.4 477 376.4 478.2 360.4 478.9 352.4 479.8 345.4 481.3 328.4 486 320.4 486.3 306.4 484.1 299.4 483.7 293.4 484.2 277.4 486.8Z"/>
<path fill="#f2210f" d="M746.5 482.3 732.5 482.4 714.5 480.1 707.5 479.7 699.5 480.1 681.5 482.3 670.5 482 660.5 480.2 651.8 477.2 648.1 475.2 645.6 473.2 644.9 472.2 644.4 470.2 645.4 468.2 647.8 466.2 651.5 464.2 656.8 462.2 669.5 459.3 685.5 457.1 717.5 455.2 767.5 455.7 794.5 453.2 809.5 452.3 818.5 453 822.8 454.2 826.5 455.9 830.5 459 833.3 462.2 835.2 465.2 836.1 468.2 835.7 472.2 833.9 475.2 830.5 477.7 826.5 479.1 806.5 478.8 784.5 480.6ZM274.4 486.2 266.4 486.2 245.4 484.2 224.4 485.9 215.4 486 205.4 485.1 190.4 482 185.4 481.4 158.4 482.2 147.4 481.5 140.4 479.6 135.2 476.2 132.8 473.2 131.3 470.2 130.5 467.2 130.5 464.2 131.4 460.8 133.4 458 136.4 455.9 140.4 454.6 150.4 453.7 183.4 453.3 196.4 454 207.4 455.7 215.4 456.4 224.4 456.2 245.4 454.6 271.4 456.7 287.4 454.9 295.4 454.7 303.7 455.2 325.4 458.1 347.4 457.7 356.4 458 372.4 459.7 383.4 461.7 392 464.2 394.4 465.5 395.7 467.2 395 469.2 391.2 472.2 387.3 474.2 381.6 476.2 375.4 477.3 360.4 478 352.4 478.9 345.4 480.4 328.4 485.1 320.4 485.4 306.4 483.3 299.4 482.9 293.4 483.4Z"/>
</g>
<path d="M112 398.9H116.1H120.2H124.3V401.2V403.5V405.8H128.4V408.1V410.4V412.7H132.6V415V417.3H136.7V419.6V421.9H140.8V424.2H144.9V426.5H149V428.8H153.2V431.1H157.3V433.4V435.7H161.4V438H165.5V440.3H169.6V442.6H173.8H177.9H182H186.1H190.2H194.4H198.5H202.6H206.7H210.8H214.9H219.1H223.2H227.3H231.4H235.6H239.7H243.8H247.9H252H256.2H260.3H264.4H268.5H272.6H276.8H280.9H285H289.1V444.9H293.2H297.4H301.5H305.6H309.7H313.8V447.2H317.9H322.1H326.2H330.3H334.4H338.6H342.7H346.8H350.9H355H359.2H363.3H367.4H371.5V449.5H375.6H379.8H383.9H388V447.2H392.1H396.2H400.4H404.5H408.6H412.7H416.8H420.9H425.1H429.2H433.3H437.4H441.6H445.7H449.8H453.9H458H462.1H466.3H470.4H474.5H478.6H482.8H486.9V449.5H491V451.8H495.1H499.2H503.4H507.5H511.6H515.7H519.8H524H528.1H532.2H536.3V449.5H540.4H544.6H548.7H552.8H556.9H561H565.1V451.8H569.3H573.4H577.5H581.6H585.8H589.9H594H598.1H602.2H606.4H610.5H614.6H618.7H622.8H627H631.1H635.2H639.3H643.4H647.6V449.5H651.7H655.8H659.9V447.2H664H668.2H672.3H676.4H680.5H684.6H688.8H692.9H697H701.1H705.2H709.4H713.5V444.9H717.6H721.7H725.8H730H734.1H738.2H742.3H746.4H750.6H754.7H758.8V447.2H762.9H767H771.2H775.3V444.9H779.4H783.5V442.6H787.6H791.8H795.9H800H804.1H808.2H812.4V440.3H816.5V442.6H820.6H824.7H828.8H833H837.1V444.9H841.2V447.2H845.3H849.4H853.6H857.7H861.8H865.9M112 477.1V479.4H116.1V481.7H120.2V484H124.3V486.3H128.4V488.6H132.6V490.9H136.7H140.8V493.2H144.9H149H153.2H157.3H161.4H165.5H169.6H173.8V490.9H177.9H182H186.1H190.2H194.4V493.2H198.5V495.5H202.6V497.8H206.7V500.1H210.8H214.9H219.1H223.2H227.3H231.4V497.8H235.6V495.5H239.7V493.2H243.8H247.9H252V495.5H256.2V497.8H260.3V500.1H264.4H268.5V502.4H272.6V500.1H276.8H280.9V497.8H285V495.5H289.1V493.2H293.2H297.4H301.5H305.6V490.9H309.7V493.2H313.8V495.5H317.9V497.8H322.1V500.1H326.2V497.8H330.3H334.4V495.5H338.6V493.2H342.7V490.9H346.8V488.6H350.9H355H359.2H363.3H367.4H371.5H375.6H379.8V490.9H383.9V488.6H388H392.1H396.2V486.3H400.4H404.5V484H408.6V481.7H412.7H416.8H420.9H425.1H429.2V479.4H433.3H437.4H441.6H445.7H449.8H453.9H458H462.1H466.3H470.4H474.5H478.6H482.8H486.9H491H495.1H499.2H503.4H507.5V477.1H511.6H515.7H519.8H524H528.1H532.2H536.3V479.4H540.4H544.6V481.7H548.7H552.8H556.9H561H565.1H569.3H573.4H577.5V484H581.6H585.8H589.9V486.3H594H598.1V488.6H602.2H606.4V490.9H610.5H614.6H618.7H622.8H627H631.1H635.2H639.3H643.4H647.6H651.7H655.8V493.2H659.9H664H668.2H672.3H676.4H680.5H684.6H688.8V490.9H692.9V488.6H697H701.1H705.2H709.4H713.5H717.6V490.9H721.7H725.8V493.2H730H734.1H738.2H742.3H746.4H750.6V490.9H754.7H758.8H762.9H767H771.2H775.3H779.4H783.5H787.6H791.8H795.9H800V488.6H804.1H808.2H812.4H816.5H820.6H824.7V490.9H828.8V493.2H833V495.5H837.1H841.2H845.3V497.8H849.4H853.6V495.5H857.7H861.8V493.2H865.9M297.4 401.2V398.9H301.5V396.6H305.6H309.7V394.3H313.8H317.9V392H322.1H326.2V389.7H330.3H334.4H338.6V387.4H342.7H346.8H350.9H355H359.2H363.3H367.4H371.5H375.6H379.8H383.9H388H392.1H396.2H400.4H404.5H408.6H412.7H416.8H420.9H425.1H429.2H433.3V389.7H437.4H441.6H445.7H449.8H453.9H458V392H462.1H466.3H470.4H474.5H478.6H482.8V394.3H486.9H491H495.1H499.2H503.4V396.6H507.5H511.6H515.7H519.8H524V398.9H528.1H532.2H536.3H540.4H544.6H548.7H552.8H556.9V401.2H552.8V403.5V405.8H548.7H544.6H540.4V408.1H536.3H532.2H528.1V410.4H524H519.8H515.7H511.6H507.5H503.4H499.2H495.1H491H486.9V408.1H482.8V410.4H478.6H474.5H470.4H466.3H462.1H458H453.9H449.8H445.7H441.6H437.4V412.7H433.3V415H429.2H425.1H420.9H416.8H412.7H408.6H404.5H400.4H396.2H392.1H388H383.9H379.8V417.3H375.6H371.5H367.4V415H363.3H359.2H355V412.7H350.9H346.8H342.7H338.6V410.4H334.4H330.3H326.2V408.1H322.1H317.9V405.8H313.8H309.7V403.5H305.6H301.5H297.4V401.2Z" fill="none" stroke="#fff" stroke-width="3.2" stroke-linejoin="round" stroke-linecap="round"/>
<path d="M312.4 393.2L319.9 395.0M330.8 394.0L338.4 394.8M349.3 394.6L357.0 394.7M367.9 394.7L375.6 394.7M386.4 394.7L394.1 394.7M404.9 394.7L412.6 394.7M423.5 394.7L431.2 394.7M442.1 394.7L449.8 394.7M460.6 394.7L468.3 394.7M479.1 394.7L486.8 394.7M497.7 394.7L505.4 394.7M113.2 410.5L114.9 403.0M294.1 401.8L301.3 404.6M312.4 402.7L319.9 404.5M330.8 403.5L338.4 404.3M349.3 404.1L357.0 404.2M367.9 404.2L375.6 404.2M386.4 404.2L394.1 404.2M404.9 404.2L412.6 404.2M423.5 404.2L431.2 404.2M442.1 404.2L449.8 404.2M460.6 404.2L468.3 404.2M479.1 404.2L486.8 404.2M497.7 404.2L505.4 404.2M516.2 404.2L524.0 404.2M534.8 404.2L542.5 404.2M113.2 420.0L114.9 412.5M130.3 419.5L133.7 412.6M349.3 413.6L357.0 413.7M367.9 413.7L375.6 413.7M386.4 413.7L394.1 413.7M404.9 413.7L412.6 413.7M423.5 413.7L431.2 413.7M113.2 431.5L114.9 424.0M130.3 431.0L133.7 424.1M113.2 443.0L114.9 435.5M130.3 442.5L133.7 435.6M148.7 442.4L152.3 435.6M113.2 453.5L114.9 446.0M130.3 453.0L133.7 446.1M148.7 452.9L152.3 446.1M167.2 452.9L170.9 446.1M185.7 452.9L189.4 446.1M204.2 452.9L208.0 446.2M222.8 452.9L226.5 446.2M241.3 452.8L245.1 446.2M259.8 452.8L263.6 446.2M278.3 452.8L282.2 446.2M296.9 452.8L300.8 446.2M315.4 452.8L319.3 446.2M333.9 452.8L337.9 446.2M352.4 452.8L356.4 446.2M370.9 452.7L375.0 446.2M389.5 452.7L393.5 446.2M408.3 452.9L412.0 446.1M427.4 453.1L430.5 446.1M445.9 453.1L449.0 446.1M464.4 453.1L467.6 446.1M483.0 453.1L486.1 446.1M538.5 453.1L541.8 446.1M557.1 453.1L560.4 446.1M666.3 451.5L672.0 446.4M684.9 451.5L690.6 446.4M703.4 451.5L709.1 446.4M722.0 451.5L727.7 446.4M740.5 451.5L746.3 446.4M759.0 451.4L764.8 446.4M777.5 451.4L783.4 446.4M796.0 451.4L801.9 446.4M814.5 451.3L820.5 446.4M833.0 451.3L839.0 446.4M851.5 451.2L857.6 446.5M113.2 462.9L114.9 455.4M130.3 462.4L133.7 455.5M148.7 462.3L152.3 455.5M167.2 462.3L170.9 455.5M185.7 462.3L189.4 455.5M204.2 462.3L208.0 455.6M222.8 462.3L226.5 455.6M241.3 462.2L245.1 455.6M259.8 462.2L263.6 455.6M278.3 462.2L282.2 455.6M296.9 462.2L300.8 455.6M315.4 462.2L319.3 455.6M333.9 462.2L337.9 455.6M352.4 462.2L356.4 455.6M370.9 462.1L375.0 455.6M389.5 462.1L393.5 455.6M408.3 462.3L412.0 455.5M427.4 462.5L430.5 455.5M445.9 462.5L449.0 455.5M464.4 462.5L467.6 455.5M483.0 462.5L486.1 455.5M501.5 462.5L504.7 455.5M520.0 462.5L523.3 455.5M538.5 462.5L541.8 455.5M557.1 462.5L560.4 455.5M575.6 462.5L578.9 455.5M594.1 462.5L597.5 455.5M612.7 462.5L616.0 455.5M631.2 462.4L634.6 455.5M648.7 461.8L653.3 455.6M666.3 460.9L672.0 455.8M684.9 460.9L690.6 455.8M703.4 460.9L709.1 455.8M722.0 460.9L727.7 455.8M740.5 460.9L746.3 455.8M759.0 460.8L764.8 455.8M777.5 460.8L783.4 455.8M796.0 460.8L801.9 455.8M814.5 460.7L820.5 455.8M833.0 460.7L839.0 455.8M851.5 460.6L857.6 455.9M113.2 472.3L114.9 464.8M130.3 471.8L133.7 464.9M148.7 471.7L152.3 464.9M167.2 471.7L170.9 464.9M185.7 471.7L189.4 464.9M204.2 471.7L208.0 465.0M222.8 471.7L226.5 465.0M241.3 471.6L245.1 465.0M259.8 471.6L263.6 465.0M278.3 471.6L282.2 465.0M296.9 471.6L300.8 465.0M315.4 471.6L319.3 465.0M333.9 471.6L337.9 465.0M352.4 471.6L356.4 465.0M370.9 471.5L375.0 465.0M389.5 471.5L393.5 465.0M408.3 471.7L412.0 464.9M427.4 471.9L430.5 464.9M445.9 471.9L449.0 464.9M464.4 471.9L467.6 464.9M483.0 471.9L486.1 464.9M501.5 471.9L504.7 464.9M520.0 471.9L523.3 464.9M538.5 471.9L541.8 464.9M557.1 471.9L560.4 464.9M575.6 471.9L578.9 464.9M594.1 471.9L597.5 464.9M612.7 471.9L616.0 464.9M631.2 471.8L634.6 464.9M648.7 471.2L653.3 465.0M666.3 470.3L672.0 465.2M684.9 470.3L690.6 465.2M703.4 470.3L709.1 465.2M722.0 470.3L727.7 465.2M740.5 470.3L746.3 465.2M759.0 470.2L764.8 465.2M777.5 470.2L783.4 465.2M796.0 470.2L801.9 465.2M814.5 470.1L820.5 465.2M833.0 470.1L839.0 465.2M851.5 470.0L857.6 465.3M113.2 481.7L114.9 474.2M130.3 481.2L133.7 474.3M148.7 481.1L152.3 474.3M167.2 481.1L170.9 474.3M185.7 481.1L189.4 474.3M204.2 481.1L208.0 474.4M222.8 481.1L226.5 474.4M241.3 481.0L245.1 474.4M259.8 481.0L263.6 474.4M278.3 481.0L282.2 474.4M296.9 481.0L300.8 474.4M315.4 481.0L319.3 474.4M333.9 481.0L337.9 474.4M352.4 481.0L356.4 474.4M370.9 480.9L375.0 474.4M389.5 480.9L393.5 474.4M408.3 481.1L412.0 474.3M427.4 481.3L430.5 474.3M445.9 481.3L449.0 474.3M464.4 481.3L467.6 474.3M483.0 481.3L486.1 474.3M501.5 481.3L504.7 474.3M520.0 481.3L523.3 474.3M538.5 481.3L541.8 474.3M557.1 481.3L560.4 474.3M575.6 481.3L578.9 474.3M594.1 481.3L597.5 474.3M612.7 481.3L616.0 474.3M631.2 481.2L634.6 474.3M648.7 480.6L653.3 474.4M666.3 479.7L672.0 474.6M684.9 479.7L690.6 474.6M703.4 479.7L709.1 474.6M722.0 479.7L727.7 474.6M740.5 479.7L746.3 474.6M759.0 479.6L764.8 474.6M777.5 479.6L783.4 474.6M796.0 479.6L801.9 474.6M814.5 479.5L820.5 474.6M833.0 479.5L839.0 474.6M851.5 479.4L857.6 474.7M130.3 490.6L133.7 483.7M148.7 490.5L152.3 483.7M167.2 490.5L170.9 483.7M185.7 490.5L189.4 483.7M204.2 490.5L208.0 483.8M222.8 490.5L226.5 483.8M241.3 490.4L245.1 483.8M259.8 490.4L263.6 483.8M278.3 490.4L282.2 483.8M296.9 490.4L300.8 483.8M315.4 490.4L319.3 483.8M333.9 490.4L337.9 483.8M352.4 490.4L356.4 483.8M370.9 490.3L375.0 483.8M389.5 490.3L393.5 483.8M575.6 490.7L578.9 483.7M594.1 490.7L597.5 483.7M612.7 490.7L616.0 483.7M631.2 490.6L634.6 483.7M648.7 490.0L653.3 483.8M666.3 489.1L672.0 484.0M684.9 489.1L690.6 484.0M703.4 489.1L709.1 484.0M722.0 489.1L727.7 484.0M740.5 489.1L746.3 484.0M759.0 489.0L764.8 484.0M777.5 489.0L783.4 484.0M796.0 489.0L801.9 484.0M814.5 488.9L820.5 484.0M833.0 488.9L839.0 484.0M851.5 488.8L857.6 484.1M148.7 499.9L152.3 493.1M167.2 499.9L170.9 493.1M204.2 499.9L208.0 493.2M222.8 499.9L226.5 493.2M241.3 499.8L245.1 493.2M259.8 499.8L263.6 493.2M278.3 499.8L282.2 493.2M296.9 499.8L300.8 493.2M315.4 499.8L319.3 493.2M333.9 499.8L337.9 493.2M666.3 498.5L672.0 493.4M722.0 498.5L727.7 493.4M740.5 498.5L746.3 493.4M833.0 498.3L839.0 493.4M851.5 498.2L857.6 493.5" stroke="#000" stroke-width="1.4" fill="none"/><path d="M325.0 396.2L318.3 397.2L319.5 392.3ZM343.7 395.4L337.2 397.2L337.7 392.2ZM362.3 394.8L356.0 397.2L356.0 392.2ZM380.9 394.7L374.6 397.2L374.6 392.2ZM399.4 394.7L393.1 397.2L393.1 392.2ZM417.9 394.7L411.6 397.2L411.6 392.2ZM436.5 394.7L430.2 397.2L430.2 392.2ZM455.1 394.7L448.8 397.2L448.8 392.2ZM473.6 394.7L467.3 397.2L467.3 392.2ZM492.1 394.7L485.8 397.2L485.8 392.2ZM510.7 394.7L504.4 397.2L504.4 392.2ZM116.1 397.9L117.1 404.6L112.3 403.4ZM306.2 406.6L299.4 406.6L301.3 402.0ZM325.0 405.7L318.3 406.7L319.5 401.8ZM343.7 404.9L337.2 406.7L337.7 401.7ZM362.3 404.3L356.0 406.7L356.0 401.7ZM380.9 404.2L374.6 406.7L374.6 401.7ZM399.4 404.2L393.1 406.7L393.1 401.7ZM417.9 404.2L411.6 406.7L411.6 401.7ZM436.5 404.2L430.2 406.7L430.2 401.7ZM455.1 404.2L448.8 406.7L448.8 401.7ZM473.6 404.2L467.3 406.7L467.3 401.7ZM492.1 404.2L485.8 406.7L485.8 401.7ZM510.7 404.2L504.4 406.7L504.4 401.7ZM529.2 404.2L523.0 406.7L523.0 401.7ZM547.8 404.2L541.5 406.7L541.5 401.7ZM116.1 407.4L117.1 414.1L112.3 412.9ZM136.1 407.9L135.5 414.6L131.1 412.4ZM362.3 413.8L356.0 416.2L356.0 411.2ZM380.9 413.7L374.6 416.2L374.6 411.2ZM399.4 413.7L393.1 416.2L393.1 411.2ZM417.9 413.7L411.6 416.2L411.6 411.2ZM436.5 413.7L430.2 416.2L430.2 411.2ZM116.1 418.9L117.1 425.6L112.3 424.4ZM136.1 419.4L135.5 426.1L131.1 423.9ZM116.1 430.4L117.1 437.1L112.3 435.9ZM136.1 430.9L135.5 437.6L131.1 435.4ZM154.8 431.0L154.0 437.7L149.6 435.3ZM116.1 440.9L117.1 447.6L112.3 446.4ZM136.1 441.4L135.5 448.1L131.1 445.9ZM154.8 441.5L154.0 448.2L149.6 445.8ZM173.4 441.5L172.6 448.2L168.2 445.8ZM192.0 441.5L191.1 448.2L186.8 445.8ZM210.6 441.5L209.7 448.2L205.3 445.8ZM229.1 441.5L228.2 448.3L223.9 445.8ZM247.7 441.6L246.8 448.3L242.4 445.8ZM266.3 441.6L265.3 448.3L261.0 445.8ZM284.9 441.6L283.9 448.3L279.5 445.8ZM303.4 441.6L302.4 448.3L298.1 445.8ZM322.0 441.6L321.0 448.3L316.7 445.7ZM340.6 441.6L339.5 448.3L335.2 445.7ZM359.2 441.6L358.0 448.3L353.8 445.7ZM377.8 441.7L376.6 448.3L372.3 445.7ZM396.3 441.7L395.1 448.4L390.9 445.7ZM414.6 441.5L413.7 448.2L409.4 445.8ZM432.6 441.3L432.4 448.0L427.8 446.0ZM451.2 441.3L450.9 448.0L446.4 446.0ZM469.8 441.3L469.5 448.0L464.9 446.0ZM488.3 441.3L488.0 448.1L483.5 446.0ZM544.1 441.3L543.6 448.1L539.1 446.0ZM562.6 441.3L562.2 448.1L557.7 446.0ZM676.0 442.9L673.0 448.9L669.6 445.2ZM694.5 442.9L691.5 448.9L688.2 445.2ZM713.1 442.9L710.1 448.9L706.7 445.2ZM731.6 442.9L728.6 448.9L725.3 445.2ZM750.2 442.9L747.2 448.9L743.9 445.2ZM768.8 443.0L765.7 449.0L762.4 445.2ZM787.4 443.0L784.2 449.0L781.0 445.2ZM806.0 443.0L802.8 449.0L799.6 445.2ZM824.6 443.1L821.3 449.0L818.1 445.1ZM843.2 443.1L839.8 449.0L836.7 445.1ZM861.8 443.2L858.4 449.0L855.3 445.1ZM116.1 450.3L117.1 457.0L112.3 455.8ZM136.1 450.8L135.5 457.5L131.1 455.3ZM154.8 450.9L154.0 457.6L149.6 455.2ZM173.4 450.9L172.6 457.6L168.2 455.2ZM192.0 450.9L191.1 457.6L186.8 455.2ZM210.6 450.9L209.7 457.6L205.3 455.2ZM229.1 450.9L228.2 457.7L223.9 455.2ZM247.7 451.0L246.8 457.7L242.4 455.2ZM266.3 451.0L265.3 457.7L261.0 455.2ZM284.9 451.0L283.9 457.7L279.5 455.2ZM303.4 451.0L302.4 457.7L298.1 455.2ZM322.0 451.0L321.0 457.7L316.7 455.1ZM340.6 451.0L339.5 457.7L335.2 455.1ZM359.2 451.0L358.0 457.7L353.8 455.1ZM377.8 451.1L376.6 457.7L372.3 455.1ZM396.3 451.1L395.1 457.8L390.9 455.1ZM414.6 450.9L413.7 457.6L409.4 455.2ZM432.6 450.7L432.4 457.4L427.8 455.4ZM451.2 450.7L450.9 457.4L446.4 455.4ZM469.8 450.7L469.5 457.4L464.9 455.4ZM488.3 450.7L488.0 457.5L483.5 455.4ZM506.9 450.7L506.6 457.5L502.0 455.4ZM525.5 450.7L525.1 457.5L520.6 455.4ZM544.1 450.7L543.6 457.5L539.1 455.4ZM562.6 450.7L562.2 457.5L557.7 455.4ZM581.2 450.7L580.7 457.5L576.2 455.3ZM599.8 450.7L599.3 457.5L594.8 455.3ZM618.3 450.7L617.8 457.5L613.3 455.3ZM636.9 450.8L636.4 457.5L631.9 455.3ZM656.5 451.4L654.7 457.9L650.7 454.9ZM676.0 452.3L673.0 458.3L669.6 454.6ZM694.5 452.3L691.5 458.3L688.2 454.6ZM713.1 452.3L710.1 458.3L706.7 454.6ZM731.6 452.3L728.6 458.3L725.3 454.6ZM750.2 452.3L747.2 458.3L743.9 454.6ZM768.8 452.4L765.7 458.4L762.4 454.6ZM787.4 452.4L784.2 458.4L781.0 454.6ZM806.0 452.4L802.8 458.4L799.6 454.6ZM824.6 452.5L821.3 458.4L818.1 454.5ZM843.2 452.5L839.8 458.4L836.7 454.5ZM861.8 452.6L858.4 458.4L855.3 454.5ZM116.1 459.7L117.1 466.4L112.3 465.2ZM136.1 460.2L135.5 466.9L131.1 464.7ZM154.8 460.3L154.0 467.0L149.6 464.6ZM173.4 460.3L172.6 467.0L168.2 464.6ZM192.0 460.3L191.1 467.0L186.8 464.6ZM210.6 460.3L209.7 467.0L205.3 464.6ZM229.1 460.3L228.2 467.1L223.9 464.6ZM247.7 460.4L246.8 467.1L242.4 464.6ZM266.3 460.4L265.3 467.1L261.0 464.6ZM284.9 460.4L283.9 467.1L279.5 464.6ZM303.4 460.4L302.4 467.1L298.1 464.6ZM322.0 460.4L321.0 467.1L316.7 464.5ZM340.6 460.4L339.5 467.1L335.2 464.5ZM359.2 460.4L358.0 467.1L353.8 464.5ZM377.8 460.5L376.6 467.1L372.3 464.5ZM396.3 460.5L395.1 467.2L390.9 464.5ZM414.6 460.3L413.7 467.0L409.4 464.6ZM432.6 460.1L432.4 466.8L427.8 464.8ZM451.2 460.1L450.9 466.8L446.4 464.8ZM469.8 460.1L469.5 466.8L464.9 464.8ZM488.3 460.1L488.0 466.9L483.5 464.8ZM506.9 460.1L506.6 466.9L502.0 464.8ZM525.5 460.1L525.1 466.9L520.6 464.8ZM544.1 460.1L543.6 466.9L539.1 464.8ZM562.6 460.1L562.2 466.9L557.7 464.8ZM581.2 460.1L580.7 466.9L576.2 464.7ZM599.8 460.1L599.3 466.9L594.8 464.7ZM618.3 460.1L617.8 466.9L613.3 464.7ZM636.9 460.2L636.4 466.9L631.9 464.7ZM656.5 460.8L654.7 467.3L650.7 464.3ZM676.0 461.7L673.0 467.7L669.6 464.0ZM694.5 461.7L691.5 467.7L688.2 464.0ZM713.1 461.7L710.1 467.7L706.7 464.0ZM731.6 461.7L728.6 467.7L725.3 464.0ZM750.2 461.7L747.2 467.7L743.9 464.0ZM768.8 461.8L765.7 467.8L762.4 464.0ZM787.4 461.8L784.2 467.8L781.0 464.0ZM806.0 461.8L802.8 467.8L799.6 464.0ZM824.6 461.9L821.3 467.8L818.1 463.9ZM843.2 461.9L839.8 467.8L836.7 463.9ZM861.8 462.0L858.4 467.8L855.3 463.9ZM116.1 469.1L117.1 475.8L112.3 474.6ZM136.1 469.6L135.5 476.3L131.1 474.1ZM154.8 469.7L154.0 476.4L149.6 474.0ZM173.4 469.7L172.6 476.4L168.2 474.0ZM192.0 469.7L191.1 476.4L186.8 474.0ZM210.6 469.7L209.7 476.4L205.3 474.0ZM229.1 469.7L228.2 476.5L223.9 474.0ZM247.7 469.8L246.8 476.5L242.4 474.0ZM266.3 469.8L265.3 476.5L261.0 474.0ZM284.9 469.8L283.9 476.5L279.5 474.0ZM303.4 469.8L302.4 476.5L298.1 474.0ZM322.0 469.8L321.0 476.5L316.7 473.9ZM340.6 469.8L339.5 476.5L335.2 473.9ZM359.2 469.8L358.0 476.5L353.8 473.9ZM377.8 469.9L376.6 476.5L372.3 473.9ZM396.3 469.9L395.1 476.6L390.9 473.9ZM414.6 469.7L413.7 476.4L409.4 474.0ZM432.6 469.5L432.4 476.2L427.8 474.2ZM451.2 469.5L450.9 476.2L446.4 474.2ZM469.8 469.5L469.5 476.2L464.9 474.2ZM488.3 469.5L488.0 476.3L483.5 474.2ZM506.9 469.5L506.6 476.3L502.0 474.2ZM525.5 469.5L525.1 476.3L520.6 474.2ZM544.1 469.5L543.6 476.3L539.1 474.2ZM562.6 469.5L562.2 476.3L557.7 474.2ZM581.2 469.5L580.7 476.3L576.2 474.1ZM599.8 469.5L599.3 476.3L594.8 474.1ZM618.3 469.5L617.8 476.3L613.3 474.1ZM636.9 469.6L636.4 476.3L631.9 474.1ZM656.5 470.2L654.7 476.7L650.7 473.7ZM676.0 471.1L673.0 477.1L669.6 473.4ZM694.5 471.1L691.5 477.1L688.2 473.4ZM713.1 471.1L710.1 477.1L706.7 473.4ZM731.6 471.1L728.6 477.1L725.3 473.4ZM750.2 471.1L747.2 477.1L743.9 473.4ZM768.8 471.2L765.7 477.2L762.4 473.4ZM787.4 471.2L784.2 477.2L781.0 473.4ZM806.0 471.2L802.8 477.2L799.6 473.4ZM824.6 471.3L821.3 477.2L818.1 473.3ZM843.2 471.3L839.8 477.2L836.7 473.3ZM861.8 471.4L858.4 477.2L855.3 473.3ZM136.1 479.0L135.5 485.7L131.1 483.5ZM154.8 479.1L154.0 485.8L149.6 483.4ZM173.4 479.1L172.6 485.8L168.2 483.4ZM192.0 479.1L191.1 485.8L186.8 483.4ZM210.6 479.1L209.7 485.8L205.3 483.4ZM229.1 479.1L228.2 485.9L223.9 483.4ZM247.7 479.2L246.8 485.9L242.4 483.4ZM266.3 479.2L265.3 485.9L261.0 483.4ZM284.9 479.2L283.9 485.9L279.5 483.4ZM303.4 479.2L302.4 485.9L298.1 483.4ZM322.0 479.2L321.0 485.9L316.7 483.3ZM340.6 479.2L339.5 485.9L335.2 483.3ZM359.2 479.2L358.0 485.9L353.8 483.3ZM377.8 479.3L376.6 485.9L372.3 483.3ZM396.3 479.3L395.1 486.0L390.9 483.3ZM581.2 478.9L580.7 485.7L576.2 483.5ZM599.8 478.9L599.3 485.7L594.8 483.5ZM618.3 478.9L617.8 485.7L613.3 483.5ZM636.9 479.0L636.4 485.7L631.9 483.5ZM656.5 479.6L654.7 486.1L650.7 483.1ZM676.0 480.5L673.0 486.5L669.6 482.8ZM694.5 480.5L691.5 486.5L688.2 482.8ZM713.1 480.5L710.1 486.5L706.7 482.8ZM731.6 480.5L728.6 486.5L725.3 482.8ZM750.2 480.5L747.2 486.5L743.9 482.8ZM768.8 480.6L765.7 486.6L762.4 482.8ZM787.4 480.6L784.2 486.6L781.0 482.8ZM806.0 480.6L802.8 486.6L799.6 482.8ZM824.6 480.7L821.3 486.6L818.1 482.7ZM843.2 480.7L839.8 486.6L836.7 482.7ZM861.8 480.8L858.4 486.6L855.3 482.7ZM154.8 488.5L154.0 495.2L149.6 492.8ZM173.4 488.5L172.6 495.2L168.2 492.8ZM210.6 488.5L209.7 495.2L205.3 492.8ZM229.1 488.5L228.2 495.3L223.9 492.8ZM247.7 488.6L246.8 495.3L242.4 492.8ZM266.3 488.6L265.3 495.3L261.0 492.8ZM284.9 488.6L283.9 495.3L279.5 492.8ZM303.4 488.6L302.4 495.3L298.1 492.8ZM322.0 488.6L321.0 495.3L316.7 492.7ZM340.6 488.6L339.5 495.3L335.2 492.7ZM676.0 489.9L673.0 495.9L669.6 492.2ZM731.6 489.9L728.6 495.9L725.3 492.2ZM750.2 489.9L747.2 495.9L743.9 492.2ZM843.2 490.1L839.8 496.0L836.7 492.1ZM861.8 490.2L858.4 496.0L855.3 492.1Z" fill="#000"/>
<path d="M110 318.7L201.4 320.7L196.3 326.7L191.4 332.7L186.9 338.8L182.6 344.8L178.5 350.8L174.7 356.8L171.1 362.8L167.7 368.9L164.6 374.9L161.6 380.9L158.7 386.9L156.1 392.9L153.6 399L151.2 405L149 411L146.9 417L145 423L143.1 429.1L141.4 435.1L139.7 441.1L138.2 447.1L136.7 453.1L135.4 459.1L134.1 465.2L132.9 471.2L131.7 477.2L130.6 483.2L129.6 489.2L128.7 495.3L127.8 501.3L126.9 507.3L126.1 513.3L125.4 519.3L124.7 525.4L124 531.4L123.4 537.4L122.8 543.4L122.3 549.4L121.7 555.5L121.2 561.5L120.8 567.5L120.4 573.5L119.9 579.5L119.6 585.6L119.2 591.6L118.9 597.6L110 599.6ZM866 318.7L774.5 320.7L779.7 326.7L784.6 332.7L789.1 338.8L793.4 344.8L797.5 350.8L801.3 356.8L804.9 362.8L808.3 368.9L811.4 374.9L814.4 380.9L817.3 386.9L819.9 392.9L822.4 399L824.8 405L827 411L829.1 417L831 423L832.9 429.1L834.6 435.1L836.3 441.1L837.8 447.1L839.3 453.1L840.6 459.1L841.9 465.2L843.1 471.2L844.3 477.2L845.4 483.2L846.4 489.2L847.3 495.3L848.2 501.3L849.1 507.3L849.9 513.3L850.6 519.3L851.3 525.4L852 531.4L852.6 537.4L853.2 543.4L853.7 549.4L854.3 555.5L854.8 561.5L855.2 567.5L855.6 573.5L856.1 579.5L856.4 585.6L856.8 591.6L857.1 597.6L866 599.6Z" fill="#fff" fill-opacity="0.5"/>
</g>
<rect x="111.95" y="320.7" width="752.0999999999999" height="276.9" fill="none" stroke="#000" stroke-width="1.8"/>
<path d="M112 389.8h15.5M864 389.8h-15.5M112 458.6h15.5M864 458.6h-15.5M112 527.4h15.5M864 527.4h-15.5M176.8 597.6v-16.6M298.3 597.6v-16.6M424 597.6v-16.6M549.7 597.6v-16.6M675.3 597.6v-16.6M801 597.6v-16.6" stroke="#000" stroke-width="1.5" fill="none"/>
<path d="M112 321.2h15.5M864 321.2h-15.5M112 596.7h15.5M864 596.7h-15.5" stroke="#000" stroke-width="2.4" fill="none"/>
<text x="95.8" y="330.2" font-size="24.9" text-anchor="end">64</text>
<text x="95.8" y="399" font-size="24.9" text-anchor="end">32</text>
<text x="95.8" y="467.8" font-size="24.9" text-anchor="end">16</text>
<text x="95.8" y="536.6" font-size="24.9" text-anchor="end">8</text>
<text x="95.8" y="605.4" font-size="24.9" text-anchor="end">4</text>
<g clip-path="url(#cpC)">
<rect x="110.95" y="629.7" width="754.0999999999999" height="278.9" fill="#3b9ab2"/>
<g filter="url(#bl)">
<path fill="#459eaa" d="M868.5 831.7 856.5 831.3 847.5 827.6 836.5 825.7 818.5 819.9 811.5 818.5 798.5 817.2 777.5 817.4 753.5 816 737.5 813.9 725.5 810.8 722.5 809.7 720.5 807.9 715.2 796.2 710.5 787.2 706.5 781.2 704.5 779.4 703.5 779.1 701.5 779.7 697.5 782.4 693.5 784.3 675.4 789.2 670.5 791.2 667.4 793.2 663.7 797.2 662 801.2 662.2 805.2 664.5 811.2 664.1 814.2 662.3 816.2 658.5 818.4 653.5 819.9 648.5 820.6 628.5 820.4 593.5 823.5 548.5 825.3 510.4 825.7 489.4 826.5 421.4 825.7 395.4 824.5 374.4 822.6 367.4 821.5 363.4 819.6 355.4 817.1 350.8 814.2 350.2 813.2 350.7 811.2 353.3 809.2 359.9 806.2 361 804.2 361.1 802.2 360.3 799.2 358.5 795.2 354.4 789.4 351.4 786.9 347.4 786.2 344.4 786.7 335.4 789.7 327.4 791.3 317.4 792.5 296.4 794.2 287.4 795.8 280.4 798.4 262.4 808.6 248.4 814.6 230.4 819.7 209.4 823.4 186.4 825.1 163.4 824.6 140.4 821.9 120.5 817.5 108.5 816.6 107.8 808.2 107.5 792.2 107.6 710.2 107.9 702.2 108.5 700.7 164.4 700.7 171.4 701.9 182.4 706.2 190.4 707.2 234.4 704.6 286.4 703.5 338.4 703.9 390.4 705.9 393.4 705.1 399.4 701.5 404.4 700.1 431.4 699.9 440.4 699.4 458.4 701.7 490.4 703.1 515.5 705.8 536.5 707 549.5 706.1 586.5 706 599.5 703.3 627.5 703 642.5 700.4 648.5 700 681.5 700.1 699.5 701.3 705.5 702.6 710.5 705.5 712.5 706.1 725.5 704.8 760.5 703.3 766.9 702.2 784.5 697.6 792.5 696.6 810.5 695.3 818.5 693.7 822.1 692.2 826.5 689.5 836.5 682.2 839 679.2 839.5 676.2 838 672.2 834.5 667.9 828.5 662.3 807.6 648.2 803.5 646.1 796.5 643.4 792 640.2 790.3 638.2 788.8 635.2 788.1 627.2 795.5 626.6 868.5 626.6 869.1 627.2 869.1 705.2 869 714.2 868.5 718.5 857.5 717.6 834.5 717.6 821.5 715.9 805.5 717.3 766.5 719.6 752.5 720.1 736.5 719.8 727.5 721 722.5 721.1 713.5 720.3 709.5 718.6 705.5 715.9 702.5 715.6 691.5 717.3 683.5 720.7 661.4 728.2 657.2 730.2 656.3 731.2 656.8 732.2 660.3 734.2 677.7 742.2 681 744.2 681.5 745.2 680.9 746.2 673.5 751 670.5 754.2 670.1 757.2 672.1 760.2 675.4 762.2 678.5 763.3 693.5 767.5 697.5 768.2 703.5 768.2 706.5 766.4 709.5 762.4 712.5 757.2 717.6 745.2 720.3 742.2 722.5 741.3 743.5 742.5 777.5 741.8 789.5 743.8 796.5 744.4 801.2 744.2 811.5 742.8 821.5 742.8 831.5 744.7 849.5 749.4 852.5 749.2 868.5 745.9 869 747.2 869.3 750.2 869.4 788.2 869.3 827.2 869.1 830.2ZM351.5 776.2 354.4 773.7 358.4 768.2 362.4 760.8 367.4 749.2 368.4 747.9 370.4 747.1 395.4 742.2 412.4 740.4 448.4 739.5 488.4 737.1 507.4 737.6 571.5 737.6 583.9 737.2 589.2 736.2 588.7 735.2 586.6 734.2 574.5 730.6 561.2 725.2 554.3 723.2 549.5 722.5 514.5 724.7 496.4 729 471.4 730.8 458.4 733.5 454.4 733.9 448.4 733.6 436.4 731.7 425.4 728.8 410.8 723.2 405.4 721.9 400.4 721.4 356.4 723.6 291.4 725.3 277.4 726.8 273.4 728.2 272.2 729.2 271.7 731.2 272.5 735.2 272.4 738.2 268.5 747.2 268.4 750.2 269.2 752.2 271.6 755.2 278.2 760.2 284.4 763.2 292.1 765.2 320.4 767.8 332.4 769.7 341.4 772.2 349.2 776.2ZM630.6 736.2 630.9 735.2 625.5 734.7 618.5 734.5 614 735.2 615.5 736.1 622.5 736.1 626.5 737ZM632.8 805.2 635.7 803.2 637.1 800.2 636.2 796.2 635.5 794.9 634.5 794.4 633.5 794.8 631.5 796.6 629.5 799.8 628.6 802.2 628.7 804.2 629.5 805.3 630.5 805.6Z"/>
<path fill="#4ca1a4" d="M727.5 719.2 718.5 719.2 713.1 718.2 711.3 717.2 709.4 715.2 708.7 713.2 708.9 711.2 709.9 710.2 713.5 708.6 719.5 707.5 764.5 705.9 769.5 704.9 780.5 701.1 787.5 699.4 819.5 696 823.5 694.9 827.5 692.9 838.5 685.2 841.6 682.2 843 679.2 843.1 675.2 841.6 671.2 838.7 667.2 829.5 658.5 813.5 647.7 806.5 643.5 798.5 640.4 795.5 638.5 793.5 636.4 792.3 634.2 791.7 627.2 868.7 627.2 868.5 714.9 856.5 714 834.5 714.6 822.5 713.6 809.5 715 795.5 715.8 774.5 716.2 754.5 717.3 736.5 717ZM189.4 820.2 173.4 820.4 157.4 819.3 140.4 816.8 123.5 812.6 108.5 811.6 107.7 800.2 107.6 778.2 107.7 709.2 108.5 702.2 166.4 702.4 172.4 703.8 179.5 707.2 185.2 709.2 192.4 711.2 197.4 711.8 215.4 709.4 234.4 707.9 260.4 706.8 289.4 706.3 319.4 706.4 346.4 707.2 369.4 708.4 391.4 710.5 393.4 709.8 398.4 704.1 403.4 701.9 407.4 701.4 431.4 701.5 440.4 701 458.4 703.4 490.4 704.7 514.5 707.4 536.5 708.6 549.5 707.7 586.5 707.6 599.5 704.9 628.5 704.5 646.5 701.7 681.5 701.7 701.5 703.3 706 705.2 707 706.2 708 708.2 707.8 710.2 704.4 712.2 691.5 715.5 681.5 719.7 658.5 726.7 653.5 727.6 645.5 728.2 631.5 731.8 615.5 732.2 599.5 735.5 595.5 734.9 587.9 732.2 574.5 728.8 563.1 724.2 556.8 722.2 549.5 720.9 514.5 723 495.4 727.5 471.4 729 458.4 731.6 454.4 732 440.4 730.7 430.4 728.5 424.4 726.8 407.7 720.2 398.4 717.2 395.4 716.8 377.4 718.9 357.4 720.3 330.4 721.4 275.4 722.4 261.8 723.2 250.4 724.7 246.4 726.1 246.2 727.2 252.4 732.8 254.3 736.2 253.9 739.2 251.3 745.2 251.2 747.2 251.9 749.2 256.4 754.2 268.2 763.2 276.4 768.2 284.4 771 292.4 772.2 313.4 773.4 323.4 775.2 326.4 776.3 329.4 778.2 330.1 779.2 329.9 781.2 328.4 782.6 325.4 784.1 318.4 785.9 309.4 787 290.4 788 280.4 790.1 273.4 793.3 259.4 802.4 251.4 806.7 242.4 810.5 232.4 813.7 223.4 816 212.4 818 200.4 819.5ZM213.2 727.2 216.7 725.2 216.5 724.2 213.4 722.6 211.4 722.2 210.4 723.2 210.3 727.2 211.4 727.7ZM492.4 823.2 440.4 823.1 417.4 822.4 389.4 820.4 369.4 817.4 367.2 816.2 365.1 813.2 363.6 803.2 360.6 796.2 354.4 787.4 349.3 783.2 348.7 782.2 348.9 781.2 352.4 778.3 355.4 775 360.4 767.4 367.4 755 369.4 753.5 381.4 751.6 398.4 747.5 408.4 746 417.4 745.5 448.4 745.3 471.4 742.4 489.4 741 508.4 741.9 544.5 741.6 568.5 742.4 580.5 741.8 595.5 740.1 621.5 740.3 623.5 740.7 628.5 743.1 630.5 743.5 643.5 738.7 648.5 738 652.5 738.2 659.5 740.5 662.3 742.2 664.3 744.2 664.7 747.2 661.8 753.2 661.4 756.2 662.4 759.2 664.5 761.6 669.6 765.2 684.5 770.8 690.2 774.2 690.4 775.2 689.6 777.2 686.3 780.2 681.7 782.2 667.5 787 656.5 792.8 652.5 794.4 649.5 794.6 646.5 793.6 643.5 791.6 638.6 787.2 636.5 787.5 632.5 791 626.9 798.2 623.1 805.2 620.3 812.2 616.9 814.2 610.2 816.2 594.5 818.7 552.5 821.5 511.4 822.2ZM868.5 830.8 856.5 830.4 852.5 828.8 844.5 824 835.5 821.9 814.5 815.7 799.5 814.2 778.5 814.4 762.5 813.5 748.5 811.8 737.5 809.2 731.5 806.8 722.5 802.3 720.5 800.2 709.6 783.2 705.7 778.2 703.5 777 695.4 775.2 693.5 774.2 693.3 773.2 696.1 771.2 699.5 770.1 704.5 769.3 706.3 768.2 710.6 763.2 719.5 750.2 721.5 748.1 722.5 747.7 741.5 748.3 777.5 746.3 790.5 748 797.5 748.4 810.5 746.7 820.5 746.6 828.5 747.8 846.5 752 859.5 748.6 868.5 746.9 869.2 751.2 869.4 788.2 869.3 826.2ZM638.6 759.2 638.9 756.2 637.5 753.2 633.5 749.8 632.5 749.6 631.5 750.2 631.5 753.2 633.5 756.6 636.5 759.4 637.5 759.8Z"/>
<path fill="#53a49e" d="M729.5 717.3 723.5 718.2 715.5 717.5 712.5 715.9 711.3 714.2 711.3 713.2 712.5 711.2 714.2 710.2 721.5 709 727.5 708.9 736.5 710.5 746.5 709.5 767.5 708.8 771.5 707.7 779.5 703.8 785.5 701.7 795.5 699.8 804.5 699 819.5 698.4 826.5 698.8 830.2 700.2 833.3 702.2 835 704.2 835.6 706.2 835 708.2 834.1 709.2 831.5 710.5 809.5 713.6 787.5 714.3 771.5 713.3 750.5 714.6 737.5 713.7 734.5 714.5ZM603.5 733.4 599.5 733.9 596.5 733.5 589.3 731.2 575.5 727.8 559.5 721.7 553.5 720.1 549.5 719.7 514.5 721.8 495.4 726.2 471.4 727.8 456.4 730.6 448.4 730.4 437.4 728.9 427.4 726.5 405.4 717.9 399 714.2 397.4 712.2 396.9 709.2 397.6 707.2 399.2 705.2 401.4 703.8 404.4 702.9 432.4 702.6 440.4 702.2 458.4 704.5 490.4 705.9 514.5 708.6 525.5 708.9 535.5 709.8 550.5 708.9 586.5 708.8 600.5 706 628.5 705.7 642.5 703.3 648.5 702.8 681.5 702.9 696.5 703.9 702.5 705.1 704.9 707.2 704.6 709.2 701.5 711.3 690.5 714.5 681.5 718.4 661.5 724.5 655.5 725.8 644.5 726.9 630.5 730.5 615.5 730.9ZM188.4 817.2 173.4 817.3 158.4 816.3 141.4 813.6 124.5 809.2 116.5 809.1 108.5 808.4 107.8 798.2 107.6 778.2 107.8 710.2 108.5 703.3 166.4 703.4 172.4 705 181 709.2 203.4 717.7 206.1 720.2 207.2 724.2 206.9 727.2 206.1 729.2 203.4 731.9 201.4 732.8 195 734.2 185.4 737.8 181.4 738.7 168.5 740.2 165.3 741.2 164.3 742.2 168.6 742.2 194.4 739.8 221.4 735.5 226.4 735.5 230.3 736.2 233.2 738.2 235.1 744.2 238.4 748.2 260.4 764 275.8 776.2 278.3 779.2 278.1 781.2 276.4 783.2 260 796.2 251.4 801.9 241.4 806.8 230.4 810.7 217.4 813.9 203.4 816.1ZM318.4 719.2 243.4 719.5 228.4 718 222.4 716.4 220.6 715.2 221 714.2 224.4 712.9 239.4 710.7 264.4 709.2 292.4 708.6 323.4 708.9 349.4 710.2 366.2 712.2 369.5 713.2 370.2 714.2 368.5 715.2 364.4 716.1 356.5 717.2 340.4 718.4ZM500.4 820.3 488.4 821.1 426.4 820.5 397.4 818.4 387.4 817.1 378.2 815.2 370.4 812.9 368.4 811.7 367.4 810.1 365.3 803.2 363 798.2 357.4 789.8 351.5 783.2 351 782.2 351.2 781.2 357.4 773.7 367.4 758.2 369.4 756.9 380.4 755.3 396.4 751.6 407.4 749.9 417.4 749.4 449.4 750.2 475.4 745.9 489.4 744.3 510.4 746.8 543.5 747.9 548.5 748.8 559.8 752.2 567.5 753 572.5 752.5 576.5 751.4 586.2 746.2 594.5 743.8 621.5 744 623.5 744.8 624.7 746.2 628.2 753.2 631.1 757.2 635 761.2 639.5 764.8 641.5 765.4 642.3 765.2 647.5 759.9 649.5 758.8 651.5 758.8 663.5 766.5 674.2 772.2 676.9 774.2 677.5 775.2 677.2 777.2 673.1 780.2 660.5 785.7 654.5 787.6 651.5 787.9 648.5 787.4 645.5 786 641.5 782.8 639.5 782.9 636.5 785 633 788.2 622.5 800.5 620.5 801.3 603.6 805.2 599.1 807.2 595.5 810.3 593.5 811.2 588.5 811.8 567.3 816.2 552.5 818.3 515.5 819.3ZM651.5 751.7 648.5 751.9 645.5 750 643.5 747.2 644.2 745.2 646.5 744 649.5 743.7 652.1 744.2 653.8 745.2 654.5 746.2 654.6 748.2 653.5 750ZM868.5 830.1 856.5 829.7 852.5 828 845.5 823.2 841.5 821.1 815.5 813.7 799.5 812 778.5 812.2 766.5 811.4 753.5 809.7 743.4 807.2 737.5 804.8 721.5 797.1 706.8 778.2 704.5 776.4 699.5 774.7 697.9 773.2 698.3 772.2 700 771.2 704.5 770.1 707.5 768.2 719.5 754.3 722.5 752.3 740.5 752 776.5 749.2 796.5 750.9 810.5 749.2 819.5 749 826.5 749.8 844.5 753.6 847 753.2 857.5 749.8 868.5 747.6 869.2 752.2 869.3 788.2 869.2 825.2Z"/>
<path fill="#5aa799" d="M810.5 712.2 796.5 713 784.5 712.6 778.8 711.2 777.7 710.2 777.4 709.2 777.8 708.2 779.9 706.2 784.5 703.9 792.5 701.6 800.5 700.4 811.5 700 818.5 700.6 823.1 702.2 824.6 703.2 826.1 705.2 825.9 707.2 823.1 709.2 816.5 711.2ZM198.4 814.2 180.4 815.1 162.4 814.3 144.4 811.7 126.5 806.8 116.5 806.7 108.5 805.8 107.8 795.2 107.7 778.2 107.9 711.2 108.5 704.2 160.4 704 166.4 704.4 172.4 706 180.4 710.1 187.4 712.8 196.5 717.2 201.4 719 204.4 721.1 205.7 724.2 205.6 726.2 204.9 728.2 202.4 730.7 184.4 736.6 168.4 738.8 164.4 739.8 159.7 742.2 157.6 744.2 157.3 745.2 159.4 745.7 180.4 744 199.4 743.6 210.4 744.2 219.4 745.8 225.4 747.9 233.4 751.5 248.4 760 257.9 767.2 262.8 772.2 265.7 776.2 266.8 779.2 266.7 781.2 266 783.2 264.1 786.2 256.1 794.2 246.4 800.9 236.4 805.6 224.4 809.6 211.4 812.5ZM602.5 732.3 598.5 732.6 595.5 732 589.5 730 575.5 726.6 559.5 720.6 553.5 719 549.5 718.6 514.5 720.7 495.4 725.1 471.4 726.7 456.4 729.5 448.4 729.3 436.4 727.6 423.4 724 403.4 715.5 399.7 712.2 398.7 709.2 399.2 707.2 400.4 705.7 402.4 704.5 405.4 703.8 432.4 703.7 440.4 703.2 458.4 705.6 490.4 707 514.5 709.7 525.5 710 536.5 710.9 550.5 710 586.5 709.9 600.5 707.1 628.5 706.8 643.5 704.2 648.5 703.9 683.5 704 697.7 705.2 700.9 706.2 702.1 707.2 702.2 708.2 701.6 709.2 698.5 710.9 689.5 713.7 680.5 717.6 661.5 723.3 654.5 724.8 644.5 725.6 630.5 729.3 615.5 729.7ZM727.5 716.5 722.5 716.9 716.5 716.3 714.2 715.2 713.6 714.2 713.6 713.2 714.5 712 717.5 710.9 723.5 710.2 727.5 710.5 729.7 711.2 730.9 712.2 731.2 713.2 730 715.2ZM320.4 716.2 298.4 716.8 274.4 716.5 260.4 715.6 257.6 715.2 256.2 714.2 259.6 713.2 268.8 712.2 298.4 711.3 326.6 712.2 333.9 713.2 335.4 714.2 331.8 715.2ZM498.4 818.2 488.4 819.1 430.4 818.5 407.4 816.9 389.4 814 383.7 812.2 368.4 805.5 362.3 795.2 352.8 783.2 352.6 781.2 366.4 761.8 367.4 760.6 369.4 759.4 379.4 758 397.4 753.9 406.4 752.6 417.4 752.1 450.4 753.1 489.4 747.4 509.4 750.6 542.5 752.9 559.5 755.4 567.5 755.9 573.5 755.5 579.8 754.2 595.5 747.9 603.5 747.8 621.5 748.5 623.5 749.8 627.4 755.2 632.1 760.2 641.5 767.9 644.5 768.9 650.5 766.8 654.5 766.9 658.5 768.5 663.2 771.2 665.7 773.2 667 775.2 666.6 777.2 664.6 779.2 660.5 781.4 655.5 783 652.5 783.2 649.5 782.6 644 779.2 641.5 779.7 638.5 781.8 633.4 786.2 623.5 797 620.5 798.4 594.5 803.1 578.5 802.9 569.5 804 566 805.2 562.6 807.2 559 811.2 556.5 813 553.5 814.2 549.5 815.1 524.5 815.7ZM868.5 829.6 859.5 829.6 855.5 828.8 852.5 827.3 840.5 819.3 815.5 812 798.5 810.1 778.5 810.2 769.5 809.5 758.5 808 748.5 805.4 721.5 794.2 717.5 790 706.8 777.2 704.5 775.6 701 774.2 700.2 773.2 700.6 772.2 705.5 770.5 707.4 769.2 719.5 757.2 722.5 755.4 740.5 754.7 776.5 751.4 796.5 752.8 810.5 751 816.5 750.8 823.5 751.1 842.5 754.9 846.2 754.2 856.5 750.6 868.5 748.1 869.1 752.2 869.3 788.2 869.1 825.2Z"/>
<path fill="#63aa91" d="M808.5 711.3 797.5 711.9 789.5 711.5 783.7 710.2 782.6 709.2 782.6 708.2 784.5 706.2 788.6 704.2 795.5 702.2 801.5 701.4 808.5 701.2 814.5 701.8 818.4 703.2 820.4 705.2 820.1 707.2 817.5 709 814 710.2ZM181.4 813.2 169.4 812.9 157.4 811.8 141.4 808.9 127.5 804.7 116.5 804.6 108.5 803.7 107.7 778.2 108 711.2 108.5 705.1 162.4 704.9 167.4 705.4 172.4 706.9 179.4 710.6 187.4 713.9 195.4 718.1 202.4 721 203.6 722.2 204.4 724.2 204.1 727.2 202.5 729.2 200.8 730.2 193.4 732.3 185.4 735.3 167.4 738 162.4 739.5 159.2 741.2 156.4 743.4 155 746.2 155.4 747.8 157.4 748.1 176.4 746.4 190.4 746.1 203.4 746.8 215.4 748.7 227.4 752.5 238.4 757.5 252.4 765.4 255.9 768.2 258.1 771.2 260.4 779.2 260.2 782.2 259 785.2 256.1 789.2 252.1 793.2 247.4 796.8 242 800.2 229.4 805.7 215.4 809.6 198.4 812.3ZM601.5 731.3 596.5 731 589.5 728.8 577.5 726 560.5 719.7 553.5 717.8 549.5 717.4 514.5 719.6 494.4 724.1 470.4 725.7 456.4 728.3 448.4 728.2 436.4 726.5 424.2 723.2 405.3 715.2 401.5 712.2 400.2 709.2 400.8 707.2 401.7 706.2 405.4 704.8 432.4 704.7 440.4 704.3 458.4 706.7 490.4 708.1 514.5 710.8 525.5 711.1 536.5 712.1 550.5 711.2 587.5 710.9 600.5 708.3 628.5 707.9 643.5 705.4 648.5 705 683.5 705.1 695.5 706.3 698.4 707.2 698.9 708.2 698.1 709.2 696.1 710.2 688.5 712.9 681.3 716.2 660.5 722.4 654.5 723.6 644.5 724.4 630.5 728.1 614.5 728.7ZM725.5 715.4 719.2 715.2 716.9 714.2 717 713.2 721.5 712 726.8 712.2 728 713.2 727.8 714.2ZM868.5 829.1 859.5 829.1 855.5 828.3 852.5 826.7 839.5 817.8 815.5 810.6 796.5 808.3 775.5 808 762.9 806.2 753.5 803.7 721.5 791.7 707.8 777.2 702 773.2 702.7 772.2 706.5 770.6 708.6 769.2 720.5 758.9 723.5 757.8 739.5 757 776.5 753.2 796.5 754.3 815.5 752.3 823.5 752.5 841.5 755.9 845.5 755.1 856.5 751.2 868.5 748.6 869 753.2 869.3 788.2 869 825.2ZM496.4 816.3 489.4 817.1 470.4 816.6 435.4 816.7 416.4 815.3 403.7 813.2 397 811.2 382.3 805.2 368.4 802 354.6 784.2 353.5 782.2 353.6 781.2 366.4 763.8 367.4 762.6 369.4 761.5 380.4 759.8 397.4 755.9 407.4 754.5 417.4 754.1 450.4 755 489.4 749.9 510.4 753 543.5 755.3 566.5 757.7 573.5 757.4 579.5 756.4 595.5 751.7 603.5 751.5 621.5 752.3 623.5 753.3 631.5 761.2 641.5 769.2 644.5 770.6 654.2 773.2 655.6 774.2 656.1 775.2 655.7 776.2 654.5 776.8 645.5 776.8 641.6 778.2 633.1 785.2 623.5 794.9 621.5 796 594.5 800.6 580.5 800.6 571.5 801.2 563.4 803.2 551.5 808.5 547.5 809.7 543.5 809.9 532.5 808.6 527.5 808.8 506.7 814.2Z"/>
<path fill="#70ae87" d="M804.5 710.2 798.5 710.5 793.5 710.1 790.2 709.2 789.1 708.2 789.2 707.2 790.2 706.2 794.2 704.2 801.5 702.7 810.4 703.2 813.2 704.2 814.4 705.2 814.7 706.2 814.2 707.2 812.8 708.2 809.5 709.4ZM180.4 811.2 166.4 810.7 152.4 808.9 141.4 806.5 127.5 802.1 117.5 802.4 108.5 801.3 107.8 778.2 108.5 706.2 162.4 706 167.4 706.5 172.4 708.1 179.4 711.8 187.4 715.2 194.4 719.1 200.4 721.5 202.5 723.2 202.9 724.2 202.9 726.2 201.5 728.2 199.8 729.2 193.4 731 185.4 734.1 166.4 737 160.4 739.1 156.4 741.6 154.2 744.2 153.4 746.2 153.2 748.2 154.3 750.2 156.4 750.4 173.4 748.7 186.4 748.4 199.4 749.1 211.4 750.9 218.4 752.6 226.4 755.3 248.4 765 253.4 768 256.2 771.2 257 773.2 257 776.2 252.2 787.2 246.4 793.4 237.4 799.4 225.4 804.5 212.4 808 196.4 810.4ZM602.5 729.3 596.5 729.2 588.5 726.8 577.4 724.2 560.5 717.8 553.5 715.6 548.5 714.9 513.5 718 494.4 722.4 471.4 723.9 456.4 726.6 448.4 726.5 438 725.2 425.4 722.1 406.4 714.2 403.4 712 402.1 709.2 403.2 707.2 406.4 706.1 441.4 705.8 457.4 708.1 490.4 709.7 514.5 712.5 526.5 713.1 537.5 714.6 558.5 713 587.5 712.7 600.5 710 628.5 709.7 642.5 707.2 647.5 706.7 682.5 706.7 690.5 708.1 691.1 709.2 681.5 714.4 658.5 721.2 653.5 722.1 644.5 722.7 630.5 726.4 615.5 726.8ZM868.5 828.5 859.5 828.5 855.5 827.6 852.5 826 838.5 816.2 816.5 809.2 795.5 806 778.5 805.6 775.3 805.2 763.5 802.7 739.5 795.7 721.5 788.9 704.3 773.2 705.3 772.2 711.5 768.5 720.5 761.7 723.5 760.7 739.5 759.4 776.5 755.1 796.5 755.9 814.5 753.9 823.5 754.1 840.5 757 845.5 755.8 855.5 752 868.5 749.2 868.9 753.2 869.2 788.2 868.9 824.2ZM492.4 814.3 488.4 814.6 467.4 813.5 440.4 813.8 429.4 813.1 419.2 811.2 415.4 809.9 407.8 806.2 401.4 804.4 369.4 799.3 366.4 797.2 356.4 785.2 355 783.2 354.7 781.2 357.4 777.2 366.4 765.9 369.4 763.9 380.4 762.1 397.4 757.9 407.4 756.5 417.4 756.1 450.4 757 489.4 752 510.4 754.8 541.5 757 566.5 759.5 578.5 758.6 595.5 754.6 604.5 754.6 621.5 755.4 623.5 756.2 645.6 773.2 645.7 774.2 644.6 775.2 638.7 779.2 631.5 785.2 623.5 792.7 621.5 793.7 594.5 798.3 579.5 798.6 570.5 799.4 548.5 805.1 543.5 805.3 530.5 804.4 521.5 805.2 513 807.2 500.5 812.2Z"/>
<path fill="#7cb07d" d="M804.5 708.3 798.5 708.6 796.2 708.2 795.2 707.2 795.7 706.2 797.5 705.2 801.5 704.5 806.5 705 808.2 706.2 807.6 707.2ZM188.4 809.2 174.4 809.4 160.4 808.3 143.4 805 128.4 800 118.5 800.4 108.5 799.2 107.9 778.2 108.5 707.7 162.4 707.3 167.4 707.8 172 709.2 199.4 722.8 201 724.2 201 726.2 200.3 727.2 198.5 728.2 184.4 733 166.4 735.5 159.4 738 154.4 741.4 152 745.2 151.6 749.2 152.3 751.2 153.3 752.2 155.4 752.4 171.4 750.6 183.4 750.3 196.4 750.9 208.4 752.6 222.4 756.4 247.3 766.2 251.4 768.3 254.5 771.2 255.5 774.2 254.4 777.5 250.3 782.2 247.6 787.2 245.3 790.2 240.8 794.2 236.2 797.2 226.4 801.8 214.4 805.6 202.4 807.9ZM456.4 723.2 449.4 723.3 439.4 722.6 426 720.2 414.8 716.2 408.1 713.2 405.5 711.2 405 709.2 406.4 708.1 409.4 707.7 441.4 708.1 458.4 710.6 491.4 713.1 502.8 715.2 502.9 716.2 495.4 718.5 470.4 720.8ZM635.5 721.3 628.5 722.1 613.5 719.5 609.5 719.7 600.5 721.4 597.4 721.2 594.9 720.2 595.3 719.2 598.5 718.2 610.5 717.6 616.5 716.8 628.5 714.7 641.8 711.2 646.5 710.5 654.5 710.3 676.9 711.2 675 712.2 657 718.2 652.5 719 643.5 719.6ZM868.5 827.9 859.5 827.9 856 827.2 852.5 825.3 841.5 817 837.5 814.6 816.5 807.8 793.5 803.6 777.5 802.5 751.5 796.6 738.5 793 721.5 786.1 707.2 774.2 706.7 773.2 720.5 764.4 725.5 763.1 777.5 756.7 796.5 757.3 811.5 755.4 820.5 755.2 839.5 758.1 845.5 756.5 856.5 752.4 868.5 749.9 869.2 788.2ZM493.4 811.4 488.4 812 466.4 809.5 457.4 809.4 450.4 808.7 439.4 808.9 433.4 807.9 419.1 804.2 409.1 802.2 369.4 796.9 366.4 795.1 359.4 787.8 356 783.2 355.8 781.2 356.8 779.2 360.4 774.5 366.4 767.9 368.4 766.4 380.4 764.1 396.4 759.9 405.4 758.5 414.4 757.8 451.4 758.5 489.4 753.7 509.7 756.2 542.5 758.6 565.5 760.9 578.1 760.2 595.5 756.7 604.5 756.8 621.5 757.8 624.5 759.1 636.5 767.4 643.4 773.2 643.4 774.2 642.6 775.2 623.5 790.7 621.5 791.7 595.5 796.3 578.5 797 570.5 797.8 549.5 802.7 543.5 803 530.5 802.4 520.4 803.2 511.2 805.2Z"/>
<path fill="#89b072" d="M194.4 807.2 178.4 807.9 162.4 806.9 153.4 805.5 145.4 803.7 138.4 801.6 129.4 798 118.5 798.6 108.5 797.2 107.9 778.2 108.4 757.2 108.5 710.1 162.4 709 167.4 709.5 172.4 711.1 186.8 718.2 197.4 724.2 198.1 725.2 197.5 726.2 196.4 726.7 183.5 731.2 164.4 733.4 160.4 734.6 156.4 736.5 151.6 740.2 149.1 744.2 148.5 747.2 148.6 750.2 149.1 752.2 150.4 753.9 153.4 754.4 167.4 752.6 181.4 751.9 194.4 752.5 205.4 754 215.4 756.3 224.4 759.3 238.4 765.8 247.6 769.2 251 771.2 252.4 772.9 252.8 774.2 252.3 776.2 246.7 781.2 244.3 786.2 242.4 788.8 238.4 792.7 233.4 796.2 225.4 800.1 215.4 803.5 205.4 805.7ZM868.5 827.3 859.5 827.2 855.5 826.3 837.5 813.5 815.5 806.2 792.5 801.3 777.5 799.8 749.5 794.1 737.5 790.6 730.5 787.9 721.6 783.2 713.6 776.2 712.2 774.2 712.5 773.2 719.5 768.1 723.7 766.2 759.5 760.4 777.5 758.2 796.5 758.6 810.5 756.7 816.5 756.3 824.5 756.7 838.5 759.2 844.5 757.5 856 753.2 868.5 750.5 869.1 788.2ZM492.4 809.2 487.4 809.5 465.4 806 439.4 804.6 403.8 799.2 385.4 797.8 369.4 794.7 367.4 793.8 360.4 787.6 357.6 784.2 356.7 782.2 356.8 781.2 357.7 779.2 360.4 775.8 368.4 768.4 380.4 766 396.4 761.5 406.4 759.9 414.4 759.3 436.4 759.9 451.4 759.9 489.4 755 510.4 757.5 565.5 762.2 577.5 761.7 595.5 758.5 604.5 758.7 621.5 759.8 624.5 761 636.5 768.4 640.2 771.2 642 773.2 642 774.2 641.2 775.2 638.5 777.6 623.5 788.8 620.5 790 595.5 794.6 570.5 796.5 549.5 801.1 544.5 801.4 529.5 800.9 519.5 801.8 508.7 804.2Z"/>
<path fill="#98b365" d="M868.5 826.4 859.5 826.4 855.5 825.3 837.5 812.5 815.5 805 792.5 799.6 778.5 797.8 750.5 792.7 735.5 788.3 730.6 786.2 724.7 782.2 720.1 777.2 719.3 774.2 721.5 771.2 726 768.2 728.6 767.2 761.5 761.6 777.5 759.6 796.5 759.7 810.5 757.7 816.5 757.4 823.5 757.6 837.5 760.1 839.5 760.1 855.5 754.2 868.5 751.4 869.1 788.2ZM188.4 806.2 174.4 806.4 161.4 805.3 152.4 803.7 144.4 801.7 137.4 799.3 130.4 796.2 118.5 796.8 108.5 795.4 108 778.2 108.5 760.6 115.5 759.3 121.5 759.1 127.5 759.7 134.4 761.4 149.4 756.8 163.4 754.5 179.4 753.4 194.4 754.1 210.4 756.7 223.4 761 233.4 766.4 237.4 769.7 240.4 773.2 241.9 776.2 242.5 779.2 241.7 784.2 240.1 787.2 237.5 790.2 231.4 794.9 222.8 799.2 212.4 802.6 201.4 804.8ZM492.4 807.3 487.4 807.5 465.4 803.8 436.4 801.9 403.4 797.5 384.4 796.5 372.4 793.6 367.4 791.7 359.4 785.2 358.1 783.2 357.9 781.2 360.4 777.1 368.4 770.5 371.4 769.4 381.4 767.5 396.4 762.9 406.4 761.3 414.4 760.6 436.4 761.2 451.4 761.1 489.4 756.2 511.4 758.6 565.5 763.4 577.5 763 596.5 760.1 621.5 761.8 623.5 762.4 636.5 769.3 639.1 771.2 640.7 773.2 640 775.2 636.5 778.2 623.5 787 619.5 788.4 595.5 793 570.5 795.2 550.5 799.6 544.5 800 529.5 799.6 520.5 800.4 511.1 802.2Z"/>
<path fill="#aab856" d="M868.5 824.9 860.5 824.9 856.5 824.2 839.2 812.2 813.5 803.3 792.5 798.1 778.5 796.1 750.5 791 734.6 786.2 732.5 785.2 730.3 783.2 726.4 777.2 726 775.2 726.3 774.2 730.7 769.2 732.5 768.5 738.5 767.8 766.5 762.3 778.5 760.8 797.5 760.7 810.5 758.7 817.5 758.4 824.5 758.7 837.5 761 840.5 761.1 845.5 759.7 857.3 755.2 868.5 752.9 869 788.2ZM195.4 804.3 179.4 805.1 163.4 804.1 154.4 802.7 145.4 800.4 138.4 797.9 130.4 794.1 119.5 795.1 114.5 794.7 108.5 793.5 108.1 778.2 108.5 762.5 115.5 761.1 121.5 760.9 127.5 761.6 134.4 763.5 148.4 758.7 160.4 756.3 175.4 754.9 190.4 755.1 205.4 757.2 218.4 760.8 224.4 763.4 229.4 766.2 233.4 769.2 236.3 772.2 238.9 777.2 239.1 782.2 236.7 787.2 231.7 792.2 225.2 796.2 216.4 799.8 206.4 802.5ZM495.4 805.3 488.4 806.1 465.4 802.2 439.4 800.5 402.4 795.8 385.4 795.1 373.4 792.2 368.4 790 361 785.2 359.4 783.2 359.1 781.2 360.1 779.2 361.4 777.7 370.4 771.7 381.4 769.3 397.4 764.1 407.4 762.5 415.4 761.9 436.4 762.5 451.4 762.3 463.4 761 489.4 757.2 565.5 764.5 577.5 764.2 595.5 761.7 611.5 762.6 623.5 764.3 636.3 770.2 639.5 773.2 639.5 774.2 637.5 776.4 623.5 785.1 615.5 787.5 594.5 791.7 570.5 794.1 550.5 798.4 544.5 798.8 529.5 798.5 520.5 799.3 510.6 801.2Z"/>
<path fill="#bdbf47" d="M192.4 803.3 177.4 803.9 162.4 802.7 153.4 801.1 145.4 798.8 138.4 796.1 131.4 792.3 119.5 793.5 114.5 793 108.5 791.7 108.1 778.2 108.5 764.3 115.5 762.8 121.5 762.5 127.5 763.3 134.4 765.4 147.4 760.5 159.4 757.8 174.4 756.2 189.4 756.4 204.4 758.4 217.4 762.1 222.4 764.3 227.5 767.2 231.3 770.2 233.9 773.2 236.2 778.2 236.2 781.2 235.8 783.2 232.8 788.2 228.3 792.2 221.3 796.2 212.4 799.5 202.4 801.9ZM494.4 804.3 488.4 804.8 466.4 800.9 435.4 798.6 390.4 792.9 368.4 787 362.4 784 361.4 783.2 361 781.2 362.4 779.2 369.4 775.2 380.4 771.7 393.4 766.8 402.4 764.6 416.4 763.1 436.4 763.6 451.4 763.4 463.4 762.1 489.4 758.1 565.5 765.5 577.5 765.4 595.5 763.2 606.5 763.8 622.5 766 635.5 770.9 637.4 772.2 638.1 773.2 637.5 775.2 636.1 776.2 629.5 779.4 622.5 783.5 608.9 787.2 594.5 790.2 571.5 792.8 550.5 797.3 544.5 797.7 529.5 797.5 520.5 798.3 511.4 800ZM849.5 811.5 845.5 812 841.5 811.7 832.5 809 814.5 802.5 798.4 798.2 789.5 796.2 778.5 794.6 762.5 791.5 749.5 788.5 741.5 785.4 736.3 782.2 732.8 778.2 732.4 776.2 732.6 775.2 735.5 772.4 740 770.2 749.7 767.2 760.5 764.8 777.5 762.1 796.5 761.8 815.5 759.3 824.5 759.5 841.5 762.6 845.5 763.8 858.2 769.2 862.5 770.4 868.5 771.1 869 788.2 868.5 805.2 863.9 806.2 855.5 809.7Z"/>
<path fill="#d1c439" d="M187.4 802.3 170.4 802.1 155.4 799.9 148.4 798 142.4 795.8 131.4 789.6 124.5 791.1 119.5 791.5 114.5 791 108.5 789.3 108.5 766.7 115.5 764.9 121.5 764.6 127.5 765.5 134.4 768 146.4 762.7 158.4 759.5 172.4 757.7 187.4 757.7 202.4 759.6 215.2 763.2 220.4 765.5 225 768.2 228.6 771.2 231.1 774.2 232.7 778.2 232.8 781.2 232.4 783.2 229.2 788.2 224.4 792.2 217.4 795.8 208.4 798.9 198.4 801.1ZM493.4 803.2 488.4 803.5 465.4 799.4 432.4 796.7 394.4 791.5 386.4 789.5 378 786.2 372.6 783.2 371.5 781.2 371.8 780.2 374 778.2 387.3 771.2 395.4 768 403.4 766 416.4 764.5 436.4 765 451.4 764.7 464.2 763.2 489.4 759.2 565.5 766.8 577.5 766.7 594.5 765 602.5 765.4 620.5 768.5 629.5 771.8 634.9 773.2 635 774.2 634.5 774.5 629.5 776.5 619.5 781.9 612.2 784.2 595.5 788.3 572.5 791.3 550.5 796 544.5 796.4 529.5 796.3 520.5 797.2ZM847.5 810.3 842.5 810.5 837.5 809.6 814.5 801.3 799.7 797.2 791.5 795.2 763.5 789.9 753 787.2 747.5 785.1 742.4 782.2 739.6 779.2 739.2 776.2 741.5 773.5 745.5 771.2 753.5 768.4 763.5 766 778.5 763.5 796.5 762.9 810.5 760.7 816.5 760.3 825.5 760.7 839.5 763.3 844.5 764.9 859.5 771.2 863.5 772.2 868.5 772.8 868.9 788.2 868.5 803.5 863.5 804.7 853.5 808.9Z"/>
<path fill="#e2ca2f" d="M194.4 800.2 185.4 801 175.4 801 166.4 800.3 157.4 798.8 149.4 796.6 143.3 794.2 138 791.2 132.4 786.8 131.4 786.7 125.5 788.8 121.5 789.3 116.5 789.1 112.5 788.2 108.5 786.7 108.5 769.3 115.5 767.1 121.5 766.7 127.5 767.8 134.4 770.9 144.4 765.3 155.4 761.6 168.4 759.5 183.4 758.9 197.4 760.2 210.1 763.2 215.4 765.2 220.4 767.8 224 770.2 227 773.2 229.2 777.2 229.6 781.2 228.1 785.2 224.4 789.4 218.7 793.2 211.8 796.2 203.4 798.6ZM492.4 802.2 487.4 802.2 464.4 798 440.4 796.1 419.4 793.7 396.4 790 389.6 788.2 385.1 786.2 381.4 783.2 380.8 782.2 380.6 780.2 381.7 778.2 383.7 776.2 390 772.2 397.3 769.2 405.4 767.2 416.4 765.9 436.4 766.3 451.4 765.9 463.4 764.5 489.4 760.1 565.5 768 576.5 768.2 594.5 766.8 600.2 767.2 607.5 768.4 614.6 770.2 619.1 772.2 621 774.2 621.1 775.2 619.9 777.2 615.3 780.2 607.1 783.2 595.5 786.4 572.5 790 550.5 794.9 529.5 795.3 520.5 796.2ZM847.5 809.3 842.5 809.5 837.5 808.7 831.5 806.8 815.5 800.5 807.8 798.2 792.8 794.2 778.5 791.5 757.1 786.2 751.5 784 747.1 781.2 745.2 778.2 745.6 776.2 748.5 773.3 752.6 771.2 759.5 768.9 768.5 766.7 778.5 764.9 796.5 764 810.5 761.7 818.5 761.2 826.5 761.7 838.5 764 844.5 765.8 859.5 772.4 864.5 773.8 868.5 774.2 868.8 788.2 868.5 802.1 863.5 803.4 852.5 808.1Z"/>
<path fill="#ecc528" d="M190.4 799.3 181.4 799.8 171.4 799.5 162.4 798.3 153.4 796.3 147.4 794.1 141.4 791.1 137.7 788.2 133.4 782.7 132.4 782.4 128.2 785.2 124.5 786.5 119.5 787 114.3 786.2 108.5 783.3 108.5 772.7 114.5 769.8 117.5 769.1 121.5 769 127.5 770.5 130.4 772.2 133.4 775.1 134.4 775 138.3 771.2 141.4 768.9 146.6 766.2 152.4 764 159.4 762.2 166.4 761 181.4 760.2 195.4 761.3 208.1 764.2 213.4 766.2 218.4 768.8 221.7 771.2 224.5 774.2 226.4 778.2 226.3 782.2 224.2 786.2 219.9 790.2 214.4 793.3 207.4 796 199.4 798ZM492.4 801.2 487.4 801.1 465.4 796.9 430.4 793.7 414.4 791.6 401.8 789.2 393.7 787.2 389.4 785.3 386.9 783.2 385.9 780.2 387.4 777.2 392.7 773.2 400 770.2 408.4 768.2 417.4 767.3 437.4 767.6 451.4 767.1 463.4 765.6 483.4 761.9 490.4 761 565.5 769.2 575.5 769.6 592.5 768.9 597.5 769.1 603.3 770.2 607.5 771.5 610.7 773.2 612.1 775.2 611.4 777.2 606.9 780.2 599.2 783.2 592.5 785.1 572.5 788.6 552.5 793.4 546.5 794 531.5 794.2 522.5 794.9ZM848.5 808.2 842.5 808.6 836.5 807.6 811.5 798.2 793.5 793.1 778.5 790 762.5 785.6 756.3 783.2 753.2 781.2 751.6 779.2 751.3 777.2 753.6 774.2 759.5 771.2 767.5 768.7 778.5 766.4 796.5 765.1 810.5 762.7 819.5 762.1 829.5 763 841.5 765.7 859.5 773.6 864.5 775.1 868.5 775.6 868.8 788.2 868.5 800.7 864.5 801.7 853.5 806.8Z"/>
<path fill="#efb724" d="M192.4 797.3 182.4 798.1 171.4 797.7 161.4 796.3 152.4 793.8 144.9 790.2 140.1 786.2 137.8 782.2 137.5 779.2 138 777.2 139.7 774.2 142.9 771.2 146.4 768.9 151.4 766.6 163.4 763.3 176.4 762 190.4 762.4 203.4 764.9 209.4 766.9 214.1 769.2 217.4 771.4 220.3 774.2 222 777.2 222.5 781.2 220.7 785.2 217.9 788.2 213.4 791.2 207.4 793.8 200.4 795.9ZM497.4 799.3 492.4 800 488.4 800 464.4 795.2 434.4 792.3 412.6 789.2 400.5 786.2 395.5 784.2 393 782.2 392.5 781.2 392.4 779.2 394.5 776.2 397.4 774.2 403.4 771.7 410.4 770 418.4 769.2 437.4 769.4 451.4 768.7 463.4 767.1 481.4 763.4 490.4 762.1 498.4 762.8 565.5 770.9 575.5 771.7 593.1 772.2 598.5 773.9 600 775.2 600.3 776.2 600 777.2 598 779.2 591.2 782.2 555.5 791.3 547.5 792.5 531.5 792.8 522.5 793.6ZM847.5 807.3 842.5 807.6 836.5 806.5 812.5 797.2 793.5 791.6 779.5 788.2 770.1 785.2 764.9 783.2 761.4 781.2 759.6 779.2 759.4 777.2 760.7 775.2 763.7 773.2 768.5 771.2 775.2 769.2 781.5 768 798.5 766.2 811.5 763.8 819.5 763.3 825.5 763.6 834.5 765 842.5 767.1 860.5 775.5 864.5 776.9 868.5 777.5 868.5 798.8 863.5 800.3 852.5 805.9ZM123.5 782.3 119.5 782.9 115.5 781.9 113.5 780.3 112.9 779.2 112.7 777.2 113.1 776.2 115.3 774.2 118.5 773.2 121.5 773.2 124.7 774.2 126.9 776.2 127.4 778.2 126.5 780.4Z"/>
<path fill="#f0a821" d="M185.4 796.3 176.4 796.3 167.4 795.5 159.4 793.9 152.4 791.5 146.6 788.2 143.4 785.2 141.5 781.2 142 777.2 143.9 774.2 146.1 772.2 149.4 770 154.4 767.7 165.4 764.8 177.4 763.6 190.4 764.2 201.4 766.4 206.8 768.2 210.9 770.2 214.4 772.6 216.9 775.2 218.3 778.2 218.2 782.2 216.4 785.4 212.4 788.9 207.4 791.5 200.4 793.9 193.4 795.4ZM497.4 798.2 492.4 798.9 488.4 798.8 464.4 793.7 440.4 791.2 416.4 787.7 410 786.2 403.4 783.7 399.9 781.2 399.4 779.2 400.4 777.2 403.1 775.2 407.8 773.2 413.4 771.8 420.4 771.2 438.4 771.2 451.4 770.3 463.4 768.6 481.4 764.6 490.4 763.2 505.4 764.6 568.5 773.2 581.5 775.2 584.9 776.2 586.2 777.2 586.2 778.2 585.3 779.2 581.6 781.2 567.1 786.2 555.5 789.6 547.5 790.9 531.5 791.5 522.5 792.4ZM847.5 806.2 842.5 806.5 836.5 805.5 813.5 796.3 779.5 785.9 773 783.2 769.6 781.2 767.6 779.2 767.4 777.2 768.5 775.6 770.2 774.2 778.5 770.7 785.5 769.3 798.5 767.6 812.5 764.9 820.5 764.4 826.5 764.7 835.5 766.2 842.5 768.1 847.5 770.2 861.5 777.6 865.5 779 868.5 779.6 868.5 796.8 864.5 798 853.5 804.2Z"/>
<path fill="#ee961f" d="M496.4 797.4 491.4 797.9 488.4 797.7 464.4 792.2 440.7 789.2 419.4 785.8 411.1 783.2 408.2 781.2 407.4 779.2 408.4 777.2 409.8 776.2 415.6 774.2 421.4 773.6 438.4 773.2 452.4 771.9 463.4 770.2 485.4 764.9 491.4 764.2 508.4 766.1 561.3 774.2 569.3 776.2 571.5 777.2 572.7 778.2 573 779.2 571.5 781.2 568.2 783.2 560.8 786.2 553.9 788.2 546.5 789.4 523.5 791ZM188.4 794.3 179.4 794.7 171.4 794.3 163.4 792.9 156.4 790.8 150.4 787.6 146.9 784.2 145.5 781.2 145.5 779.2 146.1 777.2 147.3 775.2 149.4 773.1 156.5 769.2 166.4 766.5 177.4 765.3 189.4 765.8 199.4 767.8 207.7 771.2 212.7 775.2 214.3 778.2 214.5 781.2 213.1 784.2 210.2 787.2 206.4 789.5 201.4 791.5 195.4 793.2ZM846.5 805.4 841.5 805.5 835.5 804.3 814.5 795.5 783.9 785.2 779.5 783.2 776.6 781.2 775 779.2 774.8 777.2 776.3 775.2 777.7 774.2 782.5 772.1 813.5 765.9 821.5 765.4 827.5 765.8 836.5 767.3 843.5 769.4 848.5 771.7 862.5 779.9 868.5 782 868.5 794.4 864.5 795.9 853.5 803Z"/>
<path fill="#ee831c" d="M497.4 796.2 492.4 796.8 488.4 796.7 464.4 790.5 432.5 785.2 420.9 782.2 418.4 780.9 417.8 780.2 417.7 779.2 418.8 778.2 422.3 777.2 440.4 775.5 460.4 772.4 482.4 766.6 491.4 765.2 509.3 767.2 549.5 774.2 559.5 776.4 562.5 777.6 564.4 779.2 564.5 780.2 562.8 782.2 559.3 784.2 553.5 786.2 546.5 787.5 523.5 789.8ZM189.4 792.3 182.4 792.9 174.4 792.8 167.4 791.8 160.4 789.9 154.7 787.2 151.4 784.5 149.7 781.2 149.8 778.2 150.9 776.2 152.8 774.2 158.4 770.8 166.4 768.4 176.4 767.1 186.4 767.3 195.4 768.8 202.4 771.2 205.9 773.2 208.3 775.2 209.8 777.2 210.5 780.2 209.5 783.2 207.9 785.2 205.3 787.2 200.4 789.6 195.4 791.2ZM846.5 804.4 840.5 804.5 834.5 803 815.5 794.7 789.6 785.2 785.4 783.2 782.5 781.2 781.1 779.2 781.2 777.2 782.9 775.2 787.2 773.2 808.5 767.9 814.5 766.9 821.5 766.5 828.5 766.9 837.5 768.5 843.5 770.3 850.8 774.2 868.5 785.9 868.5 790.5 854.5 801.2 850.5 803.2Z"/>
<path fill="#ee6d1a" d="M495.4 795.3 490.4 795.6 484.4 794.5 464.4 788.3 447.6 784.2 444 782.2 443.5 781.2 444 780.2 448 778.2 462.4 774.4 480.4 768.5 487.4 766.9 491.4 766.4 507.4 768.2 533.5 773.2 548.4 777.2 552.5 779 553.6 780.2 553.6 781.2 552.6 782.2 548 784.2 522.5 788.3 503.4 793.7ZM845.5 803.3 840.5 803.3 834.5 801.9 815.5 793.3 799.6 787.2 790.5 782.2 788.6 780.2 788.2 778.2 789.7 776.2 793.5 774.2 807.5 769.7 815.5 768.2 822.5 767.7 830.5 768.3 838.5 769.8 844.5 771.9 850.3 775.2 858.2 781.2 861.8 785.2 862.9 788.2 862.6 790.2 861.7 792.2 857.4 797.2 851.5 801.4ZM186.4 790.3 180.4 790.6 174.4 790.4 168.4 789.4 163.4 787.9 159.4 786 156.2 783.2 155.2 781.2 155.4 778.2 157.7 775.2 163.1 772.2 170.3 770.2 177.4 769.4 185.4 769.6 193.4 771.1 199.2 773.2 203.3 776.2 204.6 778.2 204.8 781.2 203.8 783.2 201.8 785.2 195.4 788.3Z"/>
<path fill="#ee5916" d="M494.4 794.3 490.4 794.4 487.4 793.9 473 789.2 460.6 783.2 459 781.2 459.4 780.2 463.7 777.2 474 772.2 485.4 768.6 492.4 767.6 508.4 769.6 527.8 774.2 536.7 777.2 539.6 779.2 540.1 780.2 539.6 781.2 538.5 782.1 535.8 783.2 521.5 786.7 503.4 792.5ZM844.5 802.3 839.5 802.1 833.5 800.4 816.5 792.3 802.1 786.2 796.1 782.2 794.7 780.2 794.8 778.2 796.6 776.2 802.5 773.2 810.5 770.5 817.5 769.3 823.5 769 831.5 769.6 838.5 770.9 844.5 773.1 851.1 777.2 856.8 782.2 859.4 786.2 859.9 789.2 858.5 793.2 854.5 797.8 849.5 801ZM187.4 787.2 177.4 787.8 168.5 786.2 165.4 784.9 163 783.2 161.7 781.2 161.5 779.2 163.4 776.5 166.4 774.6 170.6 773.2 176.4 772.2 182.4 772.2 188.4 773 192.6 774.2 196.3 776.2 198.5 779.2 198.3 781.2 197.8 782.2 194 785.2Z"/>
<path fill="#f04713" d="M492.4 793.2 488.4 792.9 484.4 791.7 477.8 789.2 471.6 786.2 468.9 784.2 467.4 782.2 467.1 781.2 467.6 779.2 470.7 776.2 476.3 773.2 486.4 769.7 492.4 768.8 503.4 770 513.5 772.2 524.9 776.2 528.6 778.2 529.3 779.2 529.4 780.2 527 782.2 512.5 788.2 501.4 791.7ZM843.5 801.2 838.5 800.8 833.5 799.3 806.6 786.2 803.2 784.2 800.9 782.2 799.8 780.2 800.2 778.2 802.1 776.2 807.7 773.2 813.5 771.4 820.5 770.4 827.5 770.3 834.5 771.1 840.5 772.5 845.5 774.7 850.6 778.2 854.7 782.2 857.1 786.2 857.6 789.2 856.3 793.2 853 797.2 848.5 800.1ZM185.4 783.2 179.4 784 174.4 783.2 171.1 781.2 170.7 780.2 170.8 779.2 173.3 777.2 177.2 776.2 181.4 776.1 185.4 776.8 188.4 778.2 189.3 780.2 187.8 782.2Z"/>
<path fill="#f03711" d="M498.4 791.2 494.4 791.9 490.4 791.9 486.4 791 481.8 789.2 476.1 786.2 473.5 784.2 472.1 782.2 471.8 781.2 472.2 779.2 475.1 776.2 480.7 773.2 487.4 770.8 492.4 770.1 501.4 770.9 510.4 772.9 516.4 775.2 520.7 778.2 521.2 779.2 520.7 781.2 517 784.2 508.6 788.2ZM846.5 799.5 842.5 800.2 838.5 799.8 834.5 798.6 828.5 795.8 807.5 784.2 804.8 781.2 804.5 779.2 804.9 778.2 806.9 776.2 811.5 773.8 816.5 772.4 822.5 771.6 828.5 771.5 834.5 772.2 839.5 773.3 844.5 775.3 848.5 777.9 852 781.2 854.8 785.2 855.6 788.2 854.9 792.2 853 795.2 849.5 798.2Z"/>
<path fill="#f2290f" d="M496.4 790.3 492.4 790.7 489.4 790.4 485.7 789.2 481.6 787.2 478.6 785.2 476.7 783.2 475.9 781.2 476.3 779.2 477.9 777.2 482.5 774.2 487.4 772.2 492.4 771.3 499.4 771.9 507.4 773.6 512.5 775.6 515.7 778.2 516.2 779.2 515.9 781.2 512.9 784.2 505.4 787.9ZM846.5 798.3 842.5 799.1 838.5 798.7 833.5 797.1 827.6 794.2 815.7 787.2 811.5 784.2 809 781.2 808.9 779.2 809.4 778.2 811.5 776.2 815.5 774.4 824.5 772.8 829.5 772.8 835.5 773.4 840.5 774.7 843.9 776.2 848.3 779.2 851.2 782.2 853.1 785.2 853.9 788.2 853.5 791.2 852 794.2 849.5 796.7Z"/>
<path fill="#f2210f" d="M494.4 789.2 491.4 789.3 488.4 788.6 485.2 787.2 482.2 785.2 480.4 783.2 479.7 781.2 480.7 778.2 482.9 776.2 486.4 774.2 489.4 773.1 493.4 772.7 498.4 773.2 504.4 774.5 509 776.2 511.5 778.2 512.1 779.2 512 781.2 509.2 784.2 503 787.2ZM845.5 797.3 841.5 797.9 837.5 797.4 833.5 795.9 828.1 793.2 820.1 788.2 815 784.2 813 781.2 813.1 779.2 814.8 777.2 817.5 775.8 821.5 774.6 826.5 774 831.5 774.1 836.5 774.7 843.6 777.2 846.6 779.2 849.6 782.2 851.5 785.2 852.2 788.2 851.9 791.2 850.5 793.8 848.5 795.8Z"/>
</g>
<path d="M112 704.3H116.1H120.2H124.3H128.4H132.6H136.7H140.8H144.9H149H153.2H157.3H161.4H165.5H169.6V706.6H173.8V708.9H177.9V711.2H182V713.5H186.1V715.8H190.2V718.1H194.4V720.4H198.5H202.6V722.7V725V727.3V729.6H198.5H194.4V731.9H190.2V734.2H186.1H182V736.5H177.9H173.8H169.6H165.5V738.8H161.4V741.1H157.3V743.4H153.2V745.7V748V750.3H157.3V752.6V754.9H161.4V757.2H165.5H169.6V759.5H173.8H177.9H182V757.2H186.1H190.2H194.4V754.9H198.5H202.6H206.7H210.8H214.9H219.1H223.2H227.3V757.2H231.4H235.6V759.5H239.7H243.8V761.8H247.9V764.1H252V766.4H256.2V768.7V771H260.3V773.3V775.6H256.2V777.9V780.2H252V782.5V784.8H247.9V787.1H243.8V789.4H239.7V791.7H235.6H231.4V794H227.3H223.2V796.3H219.1H214.9H210.8H206.7H202.6V798.6H198.5H194.4H190.2V800.9H186.1H182V803.2H177.9V805.5H173.8V807.8H169.6H165.5H161.4H157.3V805.5H153.2V803.2H149V800.9H144.9V798.6V796.3H140.8V794H136.7V791.7V789.4H132.6H128.4V787.1H124.3H120.2H116.1H112M396.2 706.6H400.4V704.3H404.5H408.6H412.7H416.8H420.9V702H425.1H429.2H433.3H437.4H441.6H445.7V704.3H449.8H453.9H458H462.1H466.3H470.4V706.6H474.5H478.6H482.8H486.9H491H495.1H499.2H503.4V708.9H507.5H511.6H515.7H519.8H524H528.1H532.2H536.3H540.4H544.6H548.7H552.8H556.9H561H565.1H569.3H573.4H577.5H581.6H585.8H589.9H594V706.6H598.1H602.2H606.4H610.5H614.6H618.7H622.8H627H631.1H635.2V704.3H639.3H643.4H647.6H651.7H655.8H659.9H664H668.2H672.3H676.4H680.5H684.6H688.8H692.9H697H701.1H705.2V706.6H709.4H705.2V708.9H701.1H697V711.2H692.9H688.8V713.5H684.6V715.8H680.5V718.1H676.4H672.3V720.4H668.2H664V722.7H659.9H655.8H651.7V725H647.6H643.4H639.3V727.3H635.2H631.1V729.6H627H622.8H618.7H614.6H610.5H606.4V731.9H602.2H598.1H594H589.9V729.6H585.8H581.6V727.3H577.5H573.4V725H569.3V722.7H565.1H561V720.4H556.9V718.1H552.8H548.7H544.6H540.4H536.3H532.2V720.4H528.1H524H519.8H515.7H511.6H507.5V722.7H503.4H499.2V725H495.1H491H486.9H482.8H478.6H474.5V727.3H470.4H466.3H462.1H458V729.6H453.9H449.8H445.7H441.6V727.3H437.4H433.3H429.2V725H425.1H420.9V722.7H416.8V720.4H412.7V718.1H408.6V715.8H404.5V713.5H400.4V711.2V708.9H396.2V706.6ZM709.4 713.5H713.5V711.2H717.6H721.7H725.8H730V713.5V715.8H725.8H721.7H717.6H713.5H709.4V713.5ZM363.3 782.5V780.2V777.9V775.6V773.3V771H367.4V768.7V766.4H371.5H375.6H379.8H383.9V764.1H388V761.8H392.1H396.2V759.5H400.4H404.5H408.6H412.7H416.8H420.9V761.8H425.1H429.2V764.1H433.3H437.4H441.6H445.7H449.8H453.9H458H462.1V761.8H466.3V759.5H470.4H474.5V757.2H478.6H482.8H486.9H491H495.1V759.5H499.2H503.4H507.5H511.6V761.8H515.7H519.8H524H528.1H532.2H536.3H540.4V764.1H544.6H548.7H552.8H556.9H561V766.4H565.1H569.3H573.4H577.5H581.6H585.8V764.1H589.9V761.8H594H598.1H602.2H606.4H610.5H614.6V764.1H618.7H622.8V766.4H627H631.1H635.2V768.7V771V773.3V775.6H631.1V777.9V780.2V782.5H627V784.8H622.8V787.1H618.7H614.6H610.5V789.4H606.4H602.2H598.1H594V791.7H589.9H585.8H581.6H577.5H573.4H569.3H565.1V794H561V796.3H556.9H552.8V798.6H548.7V800.9V798.6H544.6H540.4V796.3H536.3H532.2H528.1H524H519.8V798.6H515.7H511.6H507.5V800.9H503.4V803.2H499.2H495.1H491V805.5H486.9H482.8H478.6V803.2H474.5H470.4V800.9H466.3H462.1V798.6H458H453.9H449.8H445.7H441.6H437.4H433.3H429.2H425.1H420.9H416.8H412.7H408.6H404.5H400.4H396.2H392.1H388H383.9H379.8V796.3H375.6H371.5V794H367.4V791.7H363.3V789.4V787.1V784.8V782.5ZM709.4 773.3V771V768.7H713.5V766.4H717.6H721.7V764.1H725.8H730H734.1H738.2H742.3V761.8H746.4H750.6H754.7H758.8H762.9H767H771.2H775.3H779.4H783.5H787.6H791.8H795.9H800H804.1V759.5H808.2H812.4H816.5H820.6H824.7H828.8H833H837.1V757.2H841.2H845.3V754.9H849.4V752.6H853.6V750.3H857.7H861.8V748H865.9M709.4 773.3V775.6V777.9V780.2H713.5V782.5H717.6H721.7V784.8H725.8V787.1H730V789.4H734.1H738.2V791.7H742.3H746.4V794H750.6H754.7H758.8H762.9H767H771.2H775.3H779.4H783.5H787.6V796.3H791.8H795.9H800V798.6H804.1H808.2V800.9H812.4H816.5V803.2H820.6V805.5H824.7V807.8H828.8V810.1H833V812.4H837.1V814.7H841.2V817V819.3H845.3V821.6H849.4V823.9V826.2H853.6V828.5H857.7H861.8H865.9M787.6 630.7V633V635.3V637.6H791.8V639.9V642.2H795.9H800V644.5H804.1V646.8H808.2V649.1H812.4V651.4H816.5V653.7H820.6V656H824.7V658.3V660.6H828.8V662.9H833V665.2V667.5H837.1V669.8V672.1H841.2V674.4V676.7V679V681.3H837.1V683.6H833V685.9H828.8V688.2H824.7V690.5V692.8H820.6V695.1H816.5H812.4V697.4H808.2V699.7H804.1H800V702H795.9V704.3H791.8V706.6H787.6V708.9H783.5H779.4V711.2H783.5H787.6H791.8H795.9H800H804.1H808.2H812.4H816.5H820.6V713.5H824.7H828.8V715.8H833H837.1H841.2H845.3H849.4H853.6H857.7H861.8H865.9" fill="none" stroke="#fff" stroke-width="3.2" stroke-linejoin="round" stroke-linecap="round"/>
<path d="M797.9 632.5L801.6 639.3M816.5 632.5L820.1 639.3M835.0 632.5L838.7 639.3M853.6 632.5L857.2 639.3M816.5 642.0L820.1 648.8M835.0 642.0L838.7 648.8M853.6 642.0L857.2 648.8M816.5 651.5L820.1 658.3M835.0 651.5L838.7 658.3M853.6 651.5L857.2 658.3M835.0 661.0L838.7 667.8M853.6 661.0L857.2 667.8M853.6 670.5L857.2 677.3M835.0 680.0L838.7 686.8M853.6 680.0L857.2 686.8M816.5 689.5L820.1 696.3M835.0 689.5L838.7 696.3M853.6 689.5L857.2 696.3M115.7 711.1L114.5 703.5M133.7 711.2L133.1 703.5M151.8 711.2L151.8 703.5M170.3 711.2L170.3 703.5M406.2 708.5L412.4 704.0M424.7 708.4L431.0 704.0M443.2 708.3L449.5 704.0M461.6 708.2L468.1 704.1M480.1 708.0L486.7 704.1M590.5 705.0L598.1 704.6M609.0 705.0L616.7 704.6M627.6 705.1L635.2 704.6M646.5 706.8L653.7 704.3M665.5 707.9L672.2 704.1M684.1 708.0L690.7 704.1M702.7 708.1L709.3 704.1M795.1 707.4L802.1 704.2M813.7 707.4L820.6 704.2M832.2 707.4L839.2 704.2M850.8 707.4L857.7 704.2M115.7 720.6L114.5 713.0M133.7 720.7L133.1 713.0M151.8 720.7L151.8 713.0M170.3 720.7L170.3 713.0M188.8 720.7L188.8 713.0M406.2 718.0L412.4 713.5M424.7 717.9L431.0 713.5M443.2 717.8L449.5 713.5M461.6 717.7L468.1 713.6M480.1 717.5L486.7 713.6M498.5 717.4L505.2 713.6M517.0 717.1L523.8 713.7M535.2 716.4L542.4 713.8M553.5 715.6L561.0 713.9M572.0 715.0L579.6 714.0M590.5 714.5L598.1 714.1M609.0 714.5L616.7 714.1M627.6 714.6L635.2 714.1M646.5 716.3L653.7 713.8M665.5 717.4L672.2 713.6M684.1 717.5L690.7 713.6M704.1 719.2L709.0 713.3M722.6 719.2L727.6 713.3M832.2 716.9L839.2 713.7M850.8 716.9L857.7 713.7M115.7 730.1L114.5 722.5M133.7 730.2L133.1 722.5M151.8 730.2L151.8 722.5M170.3 730.2L170.3 722.5M188.8 730.2L188.8 722.5M424.7 727.4L431.0 723.0M443.2 727.3L449.5 723.0M461.6 727.2L468.1 723.1M480.1 727.0L486.7 723.1M498.5 726.9L505.2 723.1M572.0 724.5L579.6 723.5M590.5 724.0L598.1 723.6M609.0 724.0L616.7 723.6M627.6 724.1L635.2 723.6M646.5 725.8L653.7 723.3M115.7 741.6L114.5 734.0M133.7 741.7L133.1 734.0M151.8 741.7L151.8 734.0M170.3 741.7L170.3 734.0M115.7 753.1L114.5 745.5M133.7 753.2L133.1 745.5M151.8 753.2L151.8 745.5M115.7 763.6L114.5 756.0M133.7 763.7L133.1 756.0M151.8 763.7L151.8 756.0M170.3 763.7L170.3 756.0M188.8 763.7L188.8 756.0M207.8 763.7L207.3 756.0M227.1 763.6L225.7 756.0M481.2 761.9L486.5 756.3M836.2 763.4L838.5 756.1M855.7 763.6L856.8 756.0M115.7 773.0L114.5 765.4M133.7 773.1L133.1 765.4M151.8 773.1L151.8 765.4M170.3 773.1L170.3 765.4M188.8 773.1L188.8 765.4M207.8 773.1L207.3 765.4M227.1 773.0L225.7 765.4M245.6 773.0L244.3 765.4M369.0 770.2L375.3 765.9M387.7 770.5L393.9 765.9M406.4 770.7L412.4 765.8M425.2 770.9L430.9 765.8M443.6 770.9L449.5 765.8M462.1 770.8L468.0 765.8M481.2 771.3L486.5 765.7M500.6 772.0L504.9 765.6M519.5 772.2L523.4 765.6M538.0 772.2L541.9 765.6M556.6 772.2L560.5 765.6M575.2 772.2L579.0 765.6M593.7 772.2L597.6 765.6M612.2 772.2L616.1 765.6M630.0 771.7L634.8 765.7M720.3 767.2L728.0 766.5M739.0 767.9L746.5 766.4M758.0 769.3L765.0 766.1M777.2 770.4L783.4 765.9M796.7 771.4L801.8 765.7M816.4 772.3L820.1 765.5M836.2 772.8L838.5 765.5M855.7 773.0L856.8 765.4M115.7 782.4L114.5 774.8M133.7 782.5L133.1 774.8M151.8 782.5L151.8 774.8M170.3 782.5L170.3 774.8M188.8 782.5L188.8 774.8M207.8 782.5L207.3 774.8M227.1 782.4L225.7 774.8M245.6 782.4L244.3 774.8M369.0 779.6L375.3 775.3M387.7 779.9L393.9 775.3M406.4 780.1L412.4 775.2M425.2 780.3L430.9 775.2M443.6 780.3L449.5 775.2M462.1 780.2L468.0 775.2M481.2 780.7L486.5 775.1M500.6 781.4L504.9 775.0M519.5 781.6L523.4 775.0M538.0 781.6L541.9 775.0M556.6 781.6L560.5 775.0M575.2 781.6L579.0 775.0M593.7 781.6L597.6 775.0M612.2 781.6L616.1 775.0M630.0 781.1L634.8 775.1M701.8 776.3L709.4 776.0M720.3 776.6L728.0 775.9M739.0 777.3L746.5 775.8M758.0 778.7L765.0 775.5M777.2 779.8L783.4 775.3M796.7 780.8L801.8 775.1M816.4 781.7L820.1 774.9M836.2 782.2L838.5 774.9M855.7 782.4L856.8 774.8M110.1 790.0L115.5 784.6M128.6 790.0L134.0 784.6M151.8 791.9L151.8 784.2M170.3 791.9L170.3 784.2M188.8 791.9L188.8 784.2M207.8 791.9L207.3 784.2M227.1 791.8L225.7 784.2M245.6 791.8L244.3 784.2M369.0 789.0L375.3 784.7M387.7 789.3L393.9 784.7M406.4 789.5L412.4 784.6M425.2 789.7L430.9 784.6M443.6 789.7L449.5 784.6M462.1 789.6L468.0 784.6M481.2 790.1L486.5 784.5M500.6 790.8L504.9 784.4M519.5 791.0L523.4 784.4M538.0 791.0L541.9 784.4M556.6 791.0L560.5 784.4M575.2 791.0L579.0 784.4M593.7 791.0L597.6 784.4M612.2 791.0L616.1 784.4M720.3 786.0L728.0 785.3M739.0 786.7L746.5 785.2M758.0 788.1L765.0 784.9M777.2 789.2L783.4 784.7M796.7 790.2L801.8 784.5M816.4 791.1L820.1 784.3M836.2 791.6L838.5 784.3M855.7 791.8L856.8 784.2M151.8 801.3L151.8 793.6M170.3 801.3L170.3 793.6M188.8 801.3L188.8 793.6M207.8 801.3L207.3 793.6M227.1 801.2L225.7 793.6M369.0 798.4L375.3 794.1M387.7 798.7L393.9 794.1M406.4 798.9L412.4 794.0M425.2 799.1L430.9 794.0M443.6 799.1L449.5 794.0M462.1 799.0L468.0 794.0M481.2 799.5L486.5 793.9M500.6 800.2L504.9 793.8M519.5 800.4L523.4 793.8M538.0 800.4L541.9 793.8M556.6 800.4L560.5 793.8M739.0 796.1L746.5 794.6M758.0 797.5L765.0 794.3M777.2 798.6L783.4 794.1M796.7 799.6L801.8 793.9M816.4 800.5L820.1 793.7M836.2 801.0L838.5 793.7M855.7 801.2L856.8 793.6M151.8 810.7L151.8 803.0M170.3 810.7L170.3 803.0M481.2 808.9L486.5 803.3M816.4 809.9L820.1 803.1M836.2 810.4L838.5 803.1M855.7 810.6L856.8 803.0M836.2 819.8L838.5 812.5M855.7 820.0L856.8 812.4M855.7 829.4L856.8 821.8" stroke="#000" stroke-width="1.4" fill="none"/><path d="M804.1 643.9L798.9 639.6L803.3 637.2ZM822.6 643.9L817.4 639.6L821.9 637.2ZM841.2 643.9L836.0 639.6L840.4 637.2ZM859.7 643.9L854.5 639.6L859.0 637.2ZM822.6 653.4L817.4 649.1L821.9 646.7ZM841.2 653.4L836.0 649.1L840.4 646.7ZM859.7 653.4L854.5 649.1L859.0 646.7ZM822.6 662.9L817.4 658.6L821.9 656.2ZM841.2 662.9L836.0 658.6L840.4 656.2ZM859.7 662.9L854.5 658.6L859.0 656.2ZM841.2 672.4L836.0 668.1L840.4 665.7ZM859.7 672.4L854.5 668.1L859.0 665.7ZM859.7 681.9L854.5 677.6L859.0 675.2ZM841.2 691.4L836.0 687.1L840.4 684.7ZM859.7 691.4L854.5 687.1L859.0 684.7ZM822.6 700.9L817.4 696.6L821.9 694.2ZM841.2 700.9L836.0 696.6L840.4 694.2ZM859.7 700.9L854.5 696.6L859.0 694.2ZM113.6 698.3L117.1 704.1L112.2 704.9ZM132.7 698.2L135.7 704.3L130.7 704.7ZM151.8 698.2L154.2 704.5L149.2 704.5ZM170.3 698.2L172.8 704.5L167.8 704.5ZM416.7 700.9L413.1 706.6L410.2 702.5ZM435.3 701.0L431.6 706.6L428.7 702.5ZM453.9 701.1L450.1 706.7L447.3 702.5ZM472.6 701.2L468.6 706.7L465.9 702.5ZM491.2 701.4L487.1 706.7L484.5 702.5ZM603.4 704.4L597.3 707.2L597.0 702.2ZM622.0 704.4L615.8 707.2L615.6 702.2ZM640.5 704.3L634.4 707.2L634.1 702.2ZM658.7 702.6L653.6 707.0L652.0 702.3ZM676.8 701.5L672.5 706.8L670.1 702.4ZM695.3 701.4L691.1 706.7L688.6 702.4ZM713.8 701.3L709.7 706.7L707.1 702.5ZM806.9 702.0L802.2 706.9L800.1 702.3ZM825.4 702.0L820.8 706.9L818.7 702.3ZM844.0 702.0L839.3 706.9L837.2 702.3ZM862.5 702.0L857.9 706.9L855.8 702.3ZM113.6 707.8L117.1 713.6L112.2 714.4ZM132.7 707.7L135.7 713.8L130.7 714.2ZM151.8 707.7L154.2 714.0L149.2 714.0ZM170.3 707.7L172.8 714.0L167.8 714.0ZM188.8 707.7L191.3 714.0L186.3 714.0ZM416.7 710.4L413.1 716.1L410.2 712.0ZM435.3 710.5L431.6 716.1L428.7 712.0ZM453.9 710.6L450.1 716.2L447.3 712.0ZM472.6 710.7L468.6 716.2L465.9 712.0ZM491.2 710.9L487.1 716.2L484.5 712.0ZM509.9 711.0L505.6 716.3L503.1 711.9ZM528.5 711.3L524.1 716.3L521.8 711.9ZM547.4 712.0L542.3 716.5L540.7 711.8ZM566.2 712.8L560.6 716.6L559.5 711.7ZM584.8 713.4L578.9 716.7L578.3 711.7ZM603.4 713.9L597.3 716.7L597.0 711.7ZM622.0 713.9L615.8 716.7L615.6 711.7ZM640.5 713.8L634.4 716.7L634.1 711.7ZM658.7 712.1L653.6 716.5L652.0 711.8ZM676.8 711.0L672.5 716.3L670.1 711.9ZM695.3 710.9L691.1 716.2L688.6 711.9ZM712.4 709.2L710.3 715.7L706.5 712.4ZM731.0 709.2L728.8 715.7L725.0 712.4ZM844.0 711.5L839.3 716.4L837.2 711.8ZM862.5 711.5L857.9 716.4L855.8 711.8ZM113.6 717.3L117.1 723.1L112.2 723.9ZM132.7 717.2L135.7 723.3L130.7 723.7ZM151.8 717.2L154.2 723.5L149.2 723.5ZM170.3 717.2L172.8 723.5L167.8 723.5ZM188.8 717.2L191.3 723.5L186.3 723.5ZM435.3 720.0L431.6 725.6L428.7 721.5ZM453.9 720.1L450.1 725.7L447.3 721.5ZM472.6 720.2L468.6 725.7L465.9 721.5ZM491.2 720.4L487.1 725.7L484.5 721.5ZM509.9 720.5L505.6 725.8L503.1 721.4ZM584.8 722.9L578.9 726.2L578.3 721.2ZM603.4 723.4L597.3 726.2L597.0 721.2ZM622.0 723.4L615.8 726.2L615.6 721.2ZM640.5 723.3L634.4 726.2L634.1 721.2ZM658.7 721.6L653.6 726.0L652.0 721.3ZM113.6 728.8L117.1 734.6L112.2 735.4ZM132.7 728.7L135.7 734.8L130.7 735.2ZM151.8 728.7L154.2 735.0L149.2 735.0ZM170.3 728.7L172.8 735.0L167.8 735.0ZM113.6 740.3L117.1 746.1L112.2 746.9ZM132.7 740.2L135.7 746.3L130.7 746.7ZM151.8 740.2L154.2 746.5L149.2 746.5ZM113.6 750.8L117.1 756.6L112.2 757.4ZM132.7 750.7L135.7 756.8L130.7 757.2ZM151.8 750.7L154.2 757.0L149.2 757.0ZM170.3 750.7L172.8 757.0L167.8 757.0ZM188.8 750.7L191.3 757.0L186.3 757.0ZM207.0 750.7L209.9 756.9L204.9 757.1ZM224.8 750.8L228.4 756.6L223.5 757.4ZM490.1 752.5L487.6 758.8L484.0 755.3ZM840.0 751.0L840.5 757.7L835.8 756.3ZM857.6 750.8L859.2 757.4L854.2 756.6ZM113.6 760.2L117.1 766.0L112.2 766.8ZM132.7 760.1L135.7 766.2L130.7 766.6ZM151.8 760.1L154.2 766.4L149.2 766.4ZM170.3 760.1L172.8 766.4L167.8 766.4ZM188.8 760.1L191.3 766.4L186.3 766.4ZM207.0 760.1L209.9 766.3L204.9 766.5ZM224.8 760.2L228.4 766.0L223.5 766.8ZM243.4 760.2L246.9 766.0L242.0 766.8ZM379.7 763.0L375.9 768.6L373.1 764.4ZM398.1 762.7L394.6 768.5L391.6 764.5ZM416.5 762.5L413.2 768.4L410.0 764.5ZM434.8 762.3L431.8 768.3L428.5 764.6ZM453.5 762.3L450.3 768.4L447.1 764.6ZM472.1 762.4L468.9 768.4L465.6 764.6ZM490.1 761.9L487.6 768.2L484.0 764.7ZM507.8 761.2L506.4 767.8L502.2 765.1ZM526.0 761.0L525.0 767.7L520.7 765.2ZM544.5 761.0L543.6 767.7L539.2 765.2ZM563.1 761.0L562.1 767.7L557.8 765.2ZM581.7 761.0L580.7 767.7L576.3 765.2ZM600.2 761.0L599.2 767.7L594.9 765.2ZM618.8 761.0L617.8 767.7L613.4 765.2ZM638.1 761.5L636.1 768.0L632.2 764.9ZM733.3 766.0L727.2 769.1L726.8 764.1ZM751.7 765.3L746.1 769.0L745.0 764.1ZM769.8 763.9L765.1 768.8L763.1 764.2ZM787.7 762.8L784.1 768.5L781.2 764.4ZM805.3 761.8L803.0 768.1L799.3 764.8ZM822.7 760.9L821.8 767.6L817.5 765.2ZM840.0 760.4L840.5 767.1L835.8 765.7ZM857.6 760.2L859.2 766.8L854.2 766.0ZM113.6 769.6L117.1 775.4L112.2 776.2ZM132.7 769.5L135.7 775.6L130.7 776.0ZM151.8 769.5L154.2 775.8L149.2 775.8ZM170.3 769.5L172.8 775.8L167.8 775.8ZM188.8 769.5L191.3 775.8L186.3 775.8ZM207.0 769.5L209.9 775.7L204.9 775.9ZM224.8 769.6L228.4 775.4L223.5 776.2ZM243.4 769.6L246.9 775.4L242.0 776.2ZM379.7 772.4L375.9 778.0L373.1 773.8ZM398.1 772.1L394.6 777.9L391.6 773.9ZM416.5 771.9L413.2 777.8L410.0 773.9ZM434.8 771.7L431.8 777.7L428.5 774.0ZM453.5 771.7L450.3 777.8L447.1 774.0ZM472.1 771.8L468.9 777.8L465.6 774.0ZM490.1 771.3L487.6 777.6L484.0 774.1ZM507.8 770.6L506.4 777.2L502.2 774.5ZM526.0 770.4L525.0 777.1L520.7 774.6ZM544.5 770.4L543.6 777.1L539.2 774.6ZM563.1 770.4L562.1 777.1L557.8 774.6ZM581.7 770.4L580.7 777.1L576.3 774.6ZM600.2 770.4L599.2 777.1L594.9 774.6ZM618.8 770.4L617.8 777.1L613.4 774.6ZM638.1 770.9L636.1 777.4L632.2 774.3ZM714.7 775.7L708.5 778.5L708.4 773.5ZM733.3 775.4L727.2 778.5L726.8 773.5ZM751.7 774.7L746.1 778.4L745.0 773.5ZM769.8 773.3L765.1 778.2L763.1 773.6ZM787.7 772.2L784.1 777.9L781.2 773.8ZM805.3 771.2L803.0 777.5L799.3 774.2ZM822.7 770.3L821.8 777.0L817.5 774.6ZM840.0 769.8L840.5 776.5L835.8 775.1ZM857.6 769.6L859.2 776.2L854.2 775.4ZM119.2 780.8L116.6 787.0L113.0 783.5ZM137.8 780.8L135.1 787.0L131.6 783.5ZM151.8 778.9L154.2 785.2L149.2 785.2ZM170.3 778.9L172.8 785.2L167.8 785.2ZM188.8 778.9L191.3 785.2L186.3 785.2ZM207.0 778.9L209.9 785.1L204.9 785.3ZM224.8 779.0L228.4 784.8L223.5 785.6ZM243.4 779.0L246.9 784.8L242.0 785.6ZM379.7 781.8L375.9 787.4L373.1 783.2ZM398.1 781.5L394.6 787.3L391.6 783.3ZM416.5 781.3L413.2 787.2L410.0 783.3ZM434.8 781.1L431.8 787.1L428.5 783.4ZM453.5 781.1L450.3 787.2L447.1 783.4ZM472.1 781.2L468.9 787.2L465.6 783.4ZM490.1 780.7L487.6 787.0L484.0 783.5ZM507.8 780.0L506.4 786.6L502.2 783.9ZM526.0 779.8L525.0 786.5L520.7 784.0ZM544.5 779.8L543.6 786.5L539.2 784.0ZM563.1 779.8L562.1 786.5L557.8 784.0ZM581.7 779.8L580.7 786.5L576.3 784.0ZM600.2 779.8L599.2 786.5L594.9 784.0ZM618.8 779.8L617.8 786.5L613.4 784.0ZM733.3 784.8L727.2 787.9L726.8 782.9ZM751.7 784.1L746.1 787.8L745.0 782.9ZM769.8 782.7L765.1 787.6L763.1 783.0ZM787.7 781.6L784.1 787.3L781.2 783.2ZM805.3 780.6L803.0 786.9L799.3 783.6ZM822.7 779.7L821.8 786.4L817.5 784.0ZM840.0 779.2L840.5 785.9L835.8 784.5ZM857.6 779.0L859.2 785.6L854.2 784.8ZM151.8 788.3L154.2 794.6L149.2 794.6ZM170.3 788.3L172.8 794.6L167.8 794.6ZM188.8 788.3L191.3 794.6L186.3 794.6ZM207.0 788.3L209.9 794.5L204.9 794.7ZM224.8 788.4L228.4 794.2L223.5 795.0ZM379.7 791.2L375.9 796.8L373.1 792.6ZM398.1 790.9L394.6 796.7L391.6 792.7ZM416.5 790.7L413.2 796.6L410.0 792.7ZM434.8 790.5L431.8 796.5L428.5 792.8ZM453.5 790.5L450.3 796.6L447.1 792.8ZM472.1 790.6L468.9 796.6L465.6 792.8ZM490.1 790.1L487.6 796.4L484.0 792.9ZM507.8 789.4L506.4 796.0L502.2 793.3ZM526.0 789.2L525.0 795.9L520.7 793.4ZM544.5 789.2L543.6 795.9L539.2 793.4ZM563.1 789.2L562.1 795.9L557.8 793.4ZM751.7 793.5L746.1 797.2L745.0 792.3ZM769.8 792.1L765.1 797.0L763.1 792.4ZM787.7 791.0L784.1 796.7L781.2 792.6ZM805.3 790.0L803.0 796.3L799.3 793.0ZM822.7 789.1L821.8 795.8L817.5 793.4ZM840.0 788.6L840.5 795.3L835.8 793.9ZM857.6 788.4L859.2 795.0L854.2 794.2ZM151.8 797.7L154.2 804.0L149.2 804.0ZM170.3 797.7L172.8 804.0L167.8 804.0ZM490.1 799.5L487.6 805.8L484.0 802.3ZM822.7 798.5L821.8 805.2L817.5 802.8ZM840.0 798.0L840.5 804.7L835.8 803.3ZM857.6 797.8L859.2 804.4L854.2 803.6ZM840.0 807.4L840.5 814.1L835.8 812.7ZM857.6 807.2L859.2 813.8L854.2 813.0ZM857.6 816.6L859.2 823.2L854.2 822.4Z" fill="#000"/>
<path d="M110 628.7L201.4 630.7L196.3 636.7L191.4 642.7L186.9 648.8L182.6 654.8L178.5 660.8L174.7 666.8L171.1 672.8L167.7 678.9L164.6 684.9L161.6 690.9L158.7 696.9L156.1 702.9L153.6 709L151.2 715L149 721L146.9 727L145 733L143.1 739.1L141.4 745.1L139.7 751.1L138.2 757.1L136.7 763.1L135.4 769.2L134.1 775.2L132.9 781.2L131.7 787.2L130.6 793.2L129.6 799.2L128.7 805.3L127.8 811.3L126.9 817.3L126.1 823.3L125.4 829.3L124.7 835.4L124 841.4L123.4 847.4L122.8 853.4L122.3 859.4L121.7 865.5L121.2 871.5L120.8 877.5L120.4 883.5L119.9 889.5L119.6 895.6L119.2 901.6L118.9 907.6L110 909.6ZM866 628.7L774.5 630.7L779.7 636.7L784.6 642.7L789.1 648.8L793.4 654.8L797.5 660.8L801.3 666.8L804.9 672.8L808.3 678.9L811.4 684.9L814.4 690.9L817.3 696.9L819.9 702.9L822.4 709L824.8 715L827 721L829.1 727L831 733L832.9 739.1L834.6 745.1L836.3 751.1L837.8 757.1L839.3 763.1L840.6 769.2L841.9 775.2L843.1 781.2L844.3 787.2L845.4 793.2L846.4 799.2L847.3 805.3L848.2 811.3L849.1 817.3L849.9 823.3L850.6 829.3L851.3 835.4L852 841.4L852.6 847.4L853.2 853.4L853.7 859.4L854.3 865.5L854.8 871.5L855.2 877.5L855.6 883.5L856.1 889.5L856.4 895.6L856.8 901.6L857.1 907.6L866 909.6Z" fill="#fff" fill-opacity="0.5"/>
</g>
<rect x="111.95" y="630.7" width="752.0999999999999" height="276.9" fill="none" stroke="#000" stroke-width="1.8"/>
<path d="M112 699.8h15.5M864 699.8h-15.5M112 768.6h15.5M864 768.6h-15.5M112 837.4h15.5M864 837.4h-15.5M176.8 907.6v-16.6M298.3 907.6v-16.6M424 907.6v-16.6M549.7 907.6v-16.6M675.3 907.6v-16.6M801 907.6v-16.6" stroke="#000" stroke-width="1.5" fill="none"/>
<path d="M112 631.2h15.5M864 631.2h-15.5M112 906.7h15.5M864 906.7h-15.5" stroke="#000" stroke-width="2.4" fill="none"/>
<text x="95.8" y="640.2" font-size="24.9" text-anchor="end">64</text>
<text x="95.8" y="709" font-size="24.9" text-anchor="end">32</text>
<text x="95.8" y="777.8" font-size="24.9" text-anchor="end">16</text>
<text x="95.8" y="846.6" font-size="24.9" text-anchor="end">8</text>
<text x="95.8" y="915.4" font-size="24.9" text-anchor="end">4</text>
<g clip-path="url(#cpD)">
<rect x="110.95" y="939.8" width="754.0999999999999" height="278.9" fill="#3b9ab2"/>
<g filter="url(#bl)">
<path fill="#459eaa" d="M777.5 1028.5 771.5 1028.9 764.5 1027.3 754.5 1026.1 750.5 1024.9 747 1023.3 744.3 1021.3 742.2 1018.3 742.2 1016.3 743.5 1014.3 745.5 1012.9 751.5 1010.5 758.5 1009 776.5 1006.4 791.5 1001.7 802.8 999.3 806.5 997.6 814.5 992.5 824.2 988.3 837.5 981 844.5 977.8 855.5 973.9 868.5 970.9 869.2 976.3 869.2 1003.3 869.2 1017.3 868.5 1022.3 836.5 1022.4 824.5 1025.1 815.5 1025.4 803.5 1024.7 787.1 1026.3ZM426.4 1138.5 419.4 1139.3 413.4 1138.4 407.4 1136.1 397.4 1129.5 392.5 1127.3 384.4 1125.5 375.4 1124.5 368.4 1124.5 355.4 1125.5 336.4 1124.1 327.4 1124.3 321.9 1126.3 314.4 1132.3 310.4 1134.7 305.4 1136.4 299.4 1137 294.4 1136.4 289.4 1134.8 285.4 1132.5 278.2 1127.3 274.2 1125.3 270.4 1124.1 264.4 1123.2 248.1 1123.3 225.4 1126 215.4 1126.5 184.4 1124.2 137.4 1123.1 108.5 1121.6 107.6 1108.3 107.5 1087.3 107.6 1007.3 107.8 1002.3 108.5 1000 126.5 1000 136.4 999.4 144.4 1001.4 148.4 1001.9 194.4 1002.2 203.4 1003.8 212.4 1004.4 222.4 1007.8 237.4 1010.3 243.4 1010.6 255.4 1008.2 262.4 1008 267.4 1009 278.4 1013.1 291.4 1014 331.4 1013.1 343.4 1010.7 362.4 1008.9 393.7 1004.3 399 1003.3 407.4 1000.7 411.4 1000.1 449.4 1000 455.4 1000.2 466.4 1001.9 484.4 1002.4 510.4 1006.9 539.5 1007.1 556.5 1008.9 577.5 1009 588.5 1009.9 621.5 1010.1 645.5 1011.9 658.5 1012.1 672.5 1013.1 688.5 1015.9 710.5 1016 720.5 1016.8 731.5 1016.1 735.7 1017.3 736.9 1018.3 737.4 1020.3 736.8 1022.3 732.5 1031.3 730.9 1033.3 728.5 1034.9 725.5 1035.9 721.5 1036.5 701.5 1036.9 667.1 1042.3 668.7 1043.3 718.5 1045.4 741.5 1046 756.5 1045.8 781.5 1048.2 790.5 1048 810.5 1046.3 823.5 1047.6 849.5 1051.4 868.5 1052.5 869.2 1063.3 869.4 1087.3 869.3 1109.3 868.5 1121.7 853.5 1122.3 826.5 1124.9 816.5 1125.1 808.5 1124 791.2 1118.3 784.5 1117.3 778.5 1117.3 772.5 1118.1 768.1 1119.3 754.5 1124.9 733.1 1128.3 712.5 1133.4 701.5 1134.4 693.5 1133.9 686.5 1132.4 680.5 1130.3 670.1 1125.3 663.6 1123.3 656.5 1122.5 647.5 1122.5 620.5 1126.8 588.5 1129.2 580.5 1130.8 567.5 1136.2 560.5 1137.2 555.5 1136.8 550.5 1135.3 546.5 1133.4 538.5 1128.2 535.5 1126.9 531.5 1125.9 524.5 1125.6 506.4 1126.8 493.4 1126.5 484.4 1125.6 468.8 1122.3 462.4 1121.9 455.4 1122.9 448.9 1125.3 443.8 1128.3 433.4 1135.7ZM227.3 1045.3 252.4 1044.2 257 1043.3 254.4 1041.3 249.4 1039.4 235.4 1038.5 229.4 1037 226.7 1035.3 225.2 1033.3 224.7 1030.3 225.8 1027.3 231.1 1021.3 231.4 1019.3 230.4 1017.8 229.4 1017.3 226.4 1017 212.4 1017.6 188.4 1017.7 185.4 1018 183.4 1019.3 183.5 1021.3 184.4 1022.6 186.8 1024.3 191.4 1026.2 199.4 1028.5 210.4 1033.1 212.1 1034.3 213.2 1036.3 213.3 1038.3 212.2 1041.3 210.3 1044.3 210.4 1045.5 213.4 1045.9ZM531.8 1042.3 531.8 1041.3 526.5 1040.6 488.4 1041.1 473.4 1037.3 467.4 1036.7 444.4 1037.5 438.9 1038.3 434.8 1039.3 432.8 1040.3 438.3 1041.3 454.4 1041.9 481.4 1042.1 490.4 1041.7 496.8 1042.3 523.5 1042.6ZM588.2 1042.3 587.2 1041.3 581.5 1040.3 558.5 1040.3 552 1041.3 552.2 1042.3 557.5 1042.7 581.5 1042.9ZM651.7 1043.3 653.3 1042.3 648.5 1040.5 644.5 1040.1 604.5 1040.2 598.7 1041.3 597.1 1042.3 600.5 1043.1 605.5 1043.3Z"/>
<path fill="#4ca1a4" d="M778.5 1026.5 774.5 1027.2 771.5 1027.1 753.5 1023.9 748.5 1021.3 747 1019.3 746.8 1017.3 748.5 1015 753.5 1012.6 775.7 1008.3 791.5 1003.7 804.5 1000.9 814.5 994.8 826.5 989.5 842.5 980.9 855.5 976.1 868.5 973 869 978.3 869 1003.3 868.9 1016.3 868.5 1020.2 836.5 1020.4 823.5 1023.2 815.5 1023.5 803.5 1022.7 787.5 1024.4ZM423.4 1132.3 418.4 1132.5 414.4 1131.7 402.4 1126.1 394.4 1123.6 386.4 1122.2 374.4 1121.1 355.4 1121.7 329.4 1119.3 322.3 1119.3 318.4 1120 315.2 1121.3 305.4 1128.1 302.4 1129 299.4 1129.3 294.4 1128.2 285.9 1123.3 280.9 1121.3 274.4 1119.9 266.4 1119 248.4 1119.3 225.4 1122.1 215.4 1122.7 184.4 1120.2 137.4 1118.9 108.5 1117.3 107.7 1107.3 107.6 1087.3 107.7 1008.3 108.5 1001.5 127.5 1001.5 135.4 1000.9 148.4 1003.5 194.4 1003.7 202.8 1005.3 212.4 1006 230.4 1013 235.4 1012.3 243.4 1012.2 254.4 1009.8 261.4 1009.5 267.4 1010.6 277.4 1014.6 291.4 1015.8 331.4 1015.1 343.4 1012.5 363.4 1010.4 396.4 1005.4 411.4 1001.6 449.4 1001.5 456.4 1001.8 465.4 1003.4 483.4 1003.8 510.4 1008.4 539.5 1008.6 555.5 1010.4 578.5 1010.6 588.5 1011.5 621.5 1011.6 644.5 1013.4 658.5 1013.6 673.5 1014.7 687.5 1017.4 710.5 1017.6 720.5 1018.4 729.5 1017.9 731.5 1018.3 733.3 1019.3 734 1020.3 734.3 1022.3 731.3 1030.3 729.5 1032.4 726.5 1034 720.5 1035 701.5 1035.3 686.5 1037.7 663.5 1040.1 656.5 1040.1 648.5 1038.5 644.5 1038.2 604.5 1038.2 592.5 1039.7 582.5 1038.2 559.5 1038.2 553.5 1038.5 543.5 1040.7 540.5 1040.9 529.5 1038.4 489.4 1038.3 484.4 1037.8 471.4 1035.1 462.4 1034.8 443.4 1035.3 435.9 1036.3 410.2 1041.3 404.9 1043.3 403.4 1044.3 404 1045.3 406.4 1045.5 478.4 1045.4 513.5 1047.8 545.5 1046.3 587.5 1047.2 598.8 1048.3 601.1 1049.3 590.2 1052.3 589.6 1053.3 591.6 1054.3 599.5 1055.6 612.5 1056.5 623.5 1056.4 632.2 1055.3 645.6 1052.3 646.4 1051.3 646.3 1050.3 649.3 1049.3 671.5 1048.9 681.5 1049.5 700.5 1054.3 716.5 1056.3 739.5 1056 747.3 1055.3 755.5 1053.9 771.5 1055.2 783.5 1055.2 810.5 1052.1 847.5 1056.9 868.5 1057.7 869.2 1068.3 869.3 1087.3 869.2 1108.3 868.5 1117.5 851.5 1118.3 826.5 1121 816.5 1121.3 809.5 1120.5 796.7 1116.3 790.5 1114.7 784.5 1114 778.5 1114 769.5 1115.4 754.5 1120.8 731.5 1123.4 711.5 1127.1 703.5 1127.9 697.5 1127.5 691.8 1126.3 677.9 1120.3 672.5 1118.8 664.5 1117.8 655.5 1117.9 645.5 1118.5 618.5 1123.1 579.4 1125.3 574.7 1126.3 565.5 1129.6 560.5 1130.3 554.5 1129.4 543.4 1124.3 535.4 1122.3 527.5 1122 508.4 1123.6 496.4 1123.4 486.4 1122.5 470.4 1119.3 462.4 1118.6 456 1119.3 449 1121.3 439.3 1125.3 428.4 1130.8ZM168.6 1056.3 194.4 1055 221.4 1054.9 251.4 1052.7 259.4 1053 275.4 1054.6 283.4 1054.6 292.7 1053.3 295.9 1052.3 297 1051.3 297.2 1050.3 299.4 1049.1 303.8 1048.3 316.6 1047.3 322.3 1046.3 309.4 1045.3 292.4 1044.7 283 1043.3 271.4 1042.8 259.4 1040.8 249.4 1037.6 237.4 1037 231.4 1035.9 228.3 1034.3 226.6 1031.3 227.3 1028.3 232 1023.3 233.5 1020.3 233.4 1018.3 232.8 1016.3 230.4 1013.5 213.4 1015.9 186.4 1016.2 183.4 1016.9 181.8 1018.3 181.4 1019.3 181.4 1021.1 182.8 1023.3 187.4 1026.4 198.4 1029.7 208.6 1034.3 210.7 1036.3 210.7 1039.3 208.4 1042.1 205.4 1043.8 201.4 1045 177.8 1049.3 169.6 1052.3 164.2 1055.3 164.4 1056.3ZM513.1 1059.3 520.5 1058.5 526.3 1057.3 532.5 1055.3 534.5 1054.3 535.3 1053.3 534.5 1052.2 529.5 1050.6 523.5 1049.6 513.5 1048.8 498.4 1050 492.4 1051.6 490.4 1053.3 490.8 1054.3 491.9 1055.3 499.4 1058.1 506.4 1059.2ZM394.8 1057.3 402.1 1055.3 403.9 1054.3 404.5 1053.3 403.7 1052.3 401.4 1051.4 395.4 1050.1 380.4 1049.5 374.4 1049.9 369.4 1050.9 366.4 1052.3 366.1 1053.3 367.1 1054.3 369.4 1055.3 378.2 1057.3 386.4 1057.9Z"/>
<path fill="#53a49e" d="M777.5 1025.5 771.5 1025.9 755.5 1023 752.5 1021.8 750.5 1020.3 749.8 1019.3 749.9 1017.3 752.5 1015.1 757.5 1013.3 776.7 1009.3 792.5 1005.2 804.5 1002.8 808.5 1000.9 815.6 996.3 827.5 991 843.9 982.3 854.5 978.3 868.5 974.9 868.8 1003.3 868.5 1018.4 835.5 1018.6 823.5 1021.4 815.5 1021.8 807.5 1021.1 803.5 1021.2 786.5 1023.3ZM425.4 1126.5 421.4 1127.1 417.4 1126.9 400.4 1122.2 380.4 1119.4 369.4 1118.8 354.4 1119.2 322.4 1115.9 314.8 1116.3 299.4 1119.7 279.4 1117.2 260.4 1116.2 246.4 1116.9 225.4 1119.7 215.4 1120.2 182.4 1117.5 137.4 1116.2 108.5 1114.5 107.7 1106.3 107.6 1087.3 107.8 1009.3 108.5 1002.7 127.5 1002.6 135.4 1002.1 138.4 1002.4 145.2 1004.3 148.4 1004.6 194.4 1004.9 202.4 1006.5 212.4 1007.4 215.4 1008.6 219.3 1011.3 219.8 1012.3 218.8 1013.3 214.4 1014.4 186.4 1015 184.3 1015.3 181.9 1016.3 180.3 1018.3 180 1020.3 180.6 1022.3 182.4 1024.6 187.4 1027.6 198.4 1031 207.3 1035.3 209.1 1037.3 208.8 1039.3 207 1041.3 203.4 1042.9 180.2 1047.3 173.4 1049.3 158.2 1056.3 155.8 1058.3 155.6 1059.3 156.4 1059.6 192.4 1058.1 220.4 1058 243.4 1056.9 256.4 1057 281.4 1058.3 302.4 1057.4 335.4 1057.6 355.4 1056.1 376.4 1059.5 388.4 1060.2 397.4 1059.3 410.4 1056.5 417.4 1055.5 447.4 1055.9 473.4 1053.4 480.4 1054.5 498.9 1060.3 509.4 1061.5 519.5 1060.9 539.5 1056.9 548.5 1056.1 572.5 1057.8 585.5 1057.6 602.5 1059.1 616.5 1059.6 626.1 1059.3 651.5 1057.2 677.5 1056.2 712.5 1059.1 722.5 1059.4 741.5 1058.8 756.5 1057.1 772.5 1057.8 785.5 1057.6 809.5 1055.2 848.5 1059.8 868.5 1060.6 869.2 1069.3 869.3 1087.3 869.2 1107.3 868.5 1114.6 854.1 1115.3 827.5 1118.4 817.5 1118.9 809.5 1118.1 797.5 1114.3 790.5 1112.5 784.5 1111.8 778.5 1111.8 768.7 1113.3 756.5 1117.7 753.5 1118.4 707.5 1122.3 702.5 1122 697.5 1121.1 685.5 1117.2 677.5 1115.3 670.5 1114.7 661.5 1114.7 645.5 1115.9 625.5 1119.6 616.5 1120.8 586.5 1122.3 576.5 1122.1 560.5 1124.5 555.5 1123.9 545.5 1121.2 537.5 1119.9 528.5 1119.8 509.4 1121.5 498.4 1121.4 487.4 1120.5 470.4 1117.2 462.4 1116.5 457.4 1116.9 451.3 1118.3ZM389.4 1045.4 385.4 1045.6 376.4 1043.8 367.4 1044.7 348.4 1044.7 339.4 1045.3 325.4 1043.2 292.4 1042.8 282.4 1041.7 271.4 1041.2 260.4 1039.6 249.4 1036.4 238.4 1036 233.4 1035.2 229.3 1033.3 228.5 1032.3 228.1 1030.3 228.9 1028.3 234.1 1022.3 234.8 1020.3 235.2 1015.3 236.2 1014.3 238.4 1013.6 246.4 1012.9 255.4 1010.9 260.4 1010.6 264.4 1011 277.4 1015.8 289.4 1016.9 329.4 1016.5 333.4 1016.1 344.4 1013.5 363.4 1011.6 396.4 1006.5 408.4 1003.3 414.4 1002.6 454.4 1002.8 465.4 1004.5 483.4 1005 510.4 1009.6 539.5 1009.7 556.5 1011.6 577.5 1011.7 589.5 1012.6 620.5 1012.7 645.5 1014.6 659.5 1014.8 674.5 1016 687.5 1018.6 710.5 1018.7 720.5 1019.5 728.5 1019.2 731.5 1020.2 732.5 1022.3 731.8 1026.3 729.8 1030.3 727.5 1032.3 724.5 1033.4 719.5 1033.9 701.5 1034.2 685.5 1036.7 662.5 1038.9 656.5 1038.8 648.8 1037.3 644.5 1037 604.5 1037 592.5 1038.3 582.5 1037 559.5 1037 552.9 1037.3 540.5 1039.4 529.5 1037.1 489.4 1037.1 469.4 1033.7 447.4 1033.8 440.1 1034.3 411.5 1039.3Z"/>
<path fill="#5aa799" d="M777.5 1024.4 771.5 1024.7 757.5 1022.1 753.3 1020.3 752.4 1018.3 752.9 1017.3 754.5 1016.1 760.5 1014 789.5 1007.5 802.5 1005.7 806.5 1004.7 810.5 1002.7 817.3 998.3 827.5 993.9 845.7 984.3 856.6 980.3 868.5 977.5 868.5 1015.8 835.5 1016 822.5 1019.2 815.5 1019.7 804.5 1019.6 786.5 1022.2ZM429.4 1122.3 423.4 1123.2 417.4 1123.1 399.4 1120 381.4 1117.9 370.4 1117.1 354.4 1117.3 319.4 1113.3 295.4 1114.9 255.4 1114.3 243.4 1115.2 224.4 1117.9 216.4 1118.3 182.4 1115.5 137.4 1114.1 108.5 1112.3 107.8 1106.3 107.7 1087.3 108.1 1065.3 107.9 1010.3 108.5 1003.7 127.5 1003.6 135.4 1003.1 138.4 1003.4 144.4 1005.2 148.4 1005.6 193.4 1005.8 202.4 1007.6 211 1008.3 213.4 1009.1 215 1010.3 215.6 1011.3 215.2 1012.3 212.4 1013.3 185.4 1014 182.4 1014.8 180.4 1016.1 179.1 1018.3 178.9 1020.3 179.9 1023.3 181.7 1025.3 187.4 1028.7 197.4 1031.7 204.7 1035.3 207.1 1037.3 206.9 1039.3 205.4 1040.7 202.4 1041.9 179.4 1046.3 169.4 1049.8 157.6 1055.3 154.5 1057.3 152.7 1060.3 152.8 1061.3 154.4 1062 192.4 1060.1 220.4 1060 241.4 1059.1 255.4 1059.1 281.4 1060.5 301.4 1059.7 333.4 1059.8 355.4 1058.4 377.4 1061.3 388.4 1061.8 395.4 1061.3 409.4 1058.7 417.4 1057.7 446.4 1058 472.4 1056.3 481.4 1057.1 500.4 1062.2 509.4 1063 519.5 1062.4 538.5 1058.9 548.5 1058.1 573.5 1059.7 586.5 1059.7 600.5 1060.9 614.5 1061.6 625.5 1061.4 651.5 1059.4 676.5 1058.6 686.5 1059 712.5 1061.1 722.5 1061.4 741.5 1060.8 756.5 1059.1 772.5 1059.5 784.9 1059.3 809.5 1057.2 818.5 1058 849.5 1062 868.5 1062.8 869.1 1069.3 869.2 1087.3 869.1 1107.3 868.5 1112.5 852.5 1113.3 827.5 1116.5 817.5 1117 809.5 1116.2 796.7 1112.3 790.5 1110.9 784.5 1110.2 778.5 1110.1 769.5 1111.4 756.5 1115.8 752.5 1116.6 741.5 1117.5 714.5 1118.4 703.5 1117.6 689.5 1114.2 681.5 1112.8 674.5 1112.2 666.5 1112.2 646.5 1113.7 625.5 1117.7 613.5 1119.1 586.5 1120.2 574.5 1119.7 561.5 1120.6 555.5 1120.2 541.9 1118.3 535.5 1118 527.5 1118.2 510.4 1119.9 496.4 1119.7 485.4 1118.6 468.5 1115.3 462.4 1114.9 453.4 1116.1ZM390.4 1043.5 385.4 1043.9 376.4 1042.3 367.4 1043.1 347.4 1043.2 339.4 1043.8 325.4 1041.9 292.4 1041.5 282.4 1040.5 272.4 1040.2 260.4 1038.5 250.4 1035.5 234.4 1034.4 230.4 1032.6 229.6 1030.3 230.4 1028.3 234.1 1024.3 235.3 1022.3 236.4 1017.2 237.4 1015.6 239.4 1014.8 246.4 1013.9 255.4 1011.9 260.4 1011.6 264.4 1012 276.4 1016.6 289.4 1017.9 329.4 1017.5 333.4 1017.1 344.4 1014.5 363.4 1012.5 396.4 1007.5 409.4 1004.1 414.4 1003.6 454.4 1003.8 465.4 1005.5 483.4 1006 510.4 1010.6 538.5 1010.7 556.5 1012.6 577.5 1012.7 589.5 1013.7 620.5 1013.7 645.5 1015.6 659.5 1015.8 674.5 1017 687.5 1019.6 709.5 1019.7 720.5 1020.5 727.5 1020.4 730.2 1021.3 731.1 1023.3 730.6 1026.3 729.2 1029.3 727 1031.3 723.5 1032.5 701.5 1033.2 685.5 1035.6 662.5 1037.8 656.5 1037.7 649.5 1036.3 644.5 1036 604.5 1036 592.5 1037.2 582.5 1036 560.5 1036 553.5 1036.2 540.5 1038.2 529.5 1036.1 489.4 1036.1 469.4 1032.6 447.4 1032.8 439.4 1033.3 411.4 1038.2Z"/>
<path fill="#63aa91" d="M428.4 1120.3 417.4 1120.7 376.4 1116.1 354.4 1115.8 318.4 1111.2 282.4 1112.7 254.4 1112.7 243.4 1113.6 225.4 1116.2 216.4 1116.7 182.4 1113.8 130.4 1112.2 108.5 1110.6 107.9 1105.3 107.7 1087.3 108.2 1065.3 108.1 1010.3 108.5 1004.7 127.5 1004.6 135.4 1004.1 147.4 1006.6 192.4 1006.9 196.3 1007.3 202.4 1009 208.4 1009.6 211.3 1010.3 211.6 1011.3 208.4 1012.1 184.4 1013.1 181.4 1014 179.7 1015.3 178.3 1017.3 177.8 1020.3 178.7 1023.3 180.4 1025.5 183.4 1027.8 186.4 1029.4 196.4 1032.4 200.5 1034.3 204.8 1037.3 205.1 1038.3 204.7 1039.3 203.2 1040.3 200.2 1041.3 176.4 1046 160.4 1052.9 154.4 1056 152.1 1058.3 151.2 1060.3 151 1062.3 151.4 1063.3 152.4 1063.7 192.4 1061.7 221.4 1061.5 240.4 1060.7 256.4 1060.8 281.4 1062.2 301.4 1061.4 333.4 1061.5 355.4 1060 378.4 1062.7 388.4 1063.1 396.4 1062.5 410.4 1059.9 417.4 1059.2 445.4 1059.4 472.4 1057.8 482.4 1058.8 499.6 1063.3 509.4 1064.3 518.5 1063.8 537.5 1060.4 548.5 1059.6 573.5 1061.1 585.5 1061.2 614.5 1063.1 623.5 1063.1 651.5 1061.2 676.5 1060.4 712.5 1062.8 722.5 1063 742.5 1062.3 755.5 1060.7 782.5 1060.8 809.5 1058.8 819.5 1059.7 849.5 1063.8 868.5 1064.6 868.8 1067.3 869.2 1093.3 869 1107.3 868.5 1111.1 851.5 1111.7 827.5 1114.9 817.5 1115.4 809.5 1114.7 790.5 1109.5 779.5 1108.7 769.5 1110 756.5 1114.2 752.5 1115 741.5 1115.9 720.5 1116.1 706.5 1115.1 684.5 1110.7 670.5 1110.2 646.5 1112 626.5 1115.9 617.5 1117.1 604.5 1118.1 587.5 1118.6 575.5 1117.9 558.5 1118.1 536.5 1116.5 528.5 1116.9 511.4 1118.6 500.4 1118.7 488.4 1117.7 470.4 1114.3 462.4 1113.7 455.4 1114.4 438.4 1118.7ZM389.4 1042.4 385.4 1042.6 376.4 1041.2 367.4 1042 347.4 1042 339.4 1042.5 325.4 1040.9 292.4 1040.4 282.4 1039.4 272.4 1039.1 260.4 1037.5 250.4 1034.5 235.4 1033.5 232.2 1032.3 231.3 1031.3 231.1 1030.3 231.9 1028.3 236 1023.3 237.6 1018.3 239 1016.3 255.4 1012.9 263.4 1012.9 267.4 1014 276.4 1017.6 289.4 1018.8 329.4 1018.5 333.4 1018 345.4 1015.3 363.4 1013.5 395.4 1008.7 400.4 1007.7 409.4 1005.1 415.4 1004.6 454.4 1004.8 465.4 1006.5 483.4 1007 510.4 1011.6 538.5 1011.7 556.5 1013.6 577.5 1013.7 589.5 1014.7 620.5 1014.7 645.5 1016.6 659.5 1016.8 674.5 1018.1 686.5 1020.5 710.5 1020.7 719.5 1021.5 726.5 1021.5 729 1022.3 729.8 1024.3 729.1 1027.3 727.8 1029.3 726.5 1030.4 723.5 1031.5 701.5 1032.1 685.5 1034.6 661.5 1036.9 656.5 1036.7 649.5 1035.3 644.5 1035 604.5 1035 593.5 1036.2 582.5 1035 560.5 1034.9 553.5 1035.2 540.5 1037.1 529.5 1035.1 489.4 1035.1 469.4 1031.7 447.4 1031.8 439.4 1032.4 411.4 1037.2ZM777.5 1023.3 771.5 1023.6 759.8 1021.3 756.9 1020.3 755.8 1019.3 755.6 1018.3 758.2 1016.3 762.5 1014.9 778.5 1011 790.5 1009.1 797.5 1009.2 803.5 1010.2 808.6 1012.3 810.6 1014.3 810.5 1015.3 808.9 1016.3 805.4 1017.3Z"/>
<path fill="#70ae87" d="M428.4 1118.3 416.4 1118.5 373.4 1114.5 354.4 1114.1 322.4 1109.6 316.4 1109.1 304.4 1109.3 280.4 1110.7 253.4 1111 243.4 1111.9 224.4 1114.6 216.4 1115.1 181.4 1112 155.4 1111 131.4 1111.1 108.5 1109.2 108 1105.3 107.8 1087.3 108.4 1065.3 108.5 1006.1 127.5 1006 135.4 1005.5 147.4 1008 176.4 1008.1 195.2 1009.3 195.9 1010.3 185.4 1011.1 182.4 1011.7 180.4 1012.7 178.4 1014.4 177.1 1016.3 176.3 1019.3 176.4 1021.3 178.3 1025.3 181.4 1028.2 188.4 1031.7 197.4 1034.4 200.6 1036.3 201.5 1037.3 201.7 1038.3 200.6 1039.3 197.6 1040.3 175.4 1044.8 155.4 1053.8 151.9 1056.3 149.9 1059.3 148.5 1064.3 148.7 1065.3 150.4 1065.7 192.4 1063.4 221.4 1063.2 239.4 1062.5 255.4 1062.6 281.4 1064 301.4 1063.3 331.4 1063.4 355.4 1061.7 379.4 1064.2 388.4 1064.5 396.4 1063.8 416.4 1060.7 445.4 1060.8 471.4 1059.2 480.4 1059.9 498.4 1064.4 504.4 1065.3 510.4 1065.6 518.5 1065.1 537.5 1061.8 547.5 1061 574.5 1062.7 585.5 1062.8 602.5 1064.3 615.5 1064.8 625.5 1064.7 651.5 1063 676.5 1062.3 720.5 1064.8 741.5 1064.1 756.5 1062.4 782.5 1062.2 809.5 1060.4 820.5 1061.4 848.5 1065.5 868.5 1066.2 868.8 1068.3 869.1 1092.3 868.9 1106.3 868.5 1110 849.5 1110.4 825.5 1113.4 816.5 1113.8 809.5 1113.1 791.5 1108.2 785.5 1107.4 779.5 1107.3 769.5 1108.5 754.5 1113 744.5 1114 733.5 1114.1 713.5 1113.3 688.5 1108.8 673.5 1108 647.5 1110 621.5 1114.9 601.5 1116.6 586.5 1116.9 574.5 1116 558.5 1115.9 537.5 1115 529.5 1115.4 512.5 1117.2 502.4 1117.4 489.4 1116.5 470.4 1113 462.4 1112.3 455.4 1113.1 439.4 1116.8ZM392.4 1040.4 386.4 1041.2 376.4 1039.9 366.4 1040.7 347.4 1040.7 339.4 1041.1 325.4 1039.5 291.4 1039 282.4 1038.1 272.4 1037.8 262.4 1036.5 250.4 1033.1 236.8 1032.3 234.2 1031.3 233.4 1030.3 234 1028.3 237 1024.3 239.1 1019.3 240.4 1017.6 255.4 1014.2 263.4 1014.2 276.4 1018.9 289.4 1020.1 329.4 1019.6 334.4 1019 345.4 1016.4 363.4 1014.6 396.4 1009.8 409.4 1006.4 415.4 1005.9 454.4 1006.2 465.4 1007.9 482.9 1008.3 510.4 1012.9 538.5 1013.1 556.5 1015 577.5 1015.1 589.5 1016 620.5 1016.1 644.5 1017.9 659.5 1018.2 673.5 1019.3 686.5 1021.9 710.5 1022.1 725.5 1023.1 727.5 1024 727.9 1025.3 727.3 1027.3 726.5 1028.5 725.3 1029.3 722.5 1030.2 701.5 1030.7 684.6 1033.3 660.5 1035.5 644.5 1033.6 604.5 1033.6 593.5 1034.8 583.5 1033.6 560.5 1033.6 553.5 1033.8 540.5 1035.7 529.5 1033.7 488.4 1033.7 468.4 1030.3 444.4 1030.6 439.4 1031.1 411.4 1036ZM775.5 1022.3 771.5 1022.2 763.9 1020.3 761.5 1019.3 761 1018.3 761.9 1017.3 764 1016.3 770.2 1014.3 777.5 1012.5 783.5 1011.7 788.5 1011.6 792.7 1012.3 795.5 1013.3 796.9 1014.3 797.4 1015.3 796.9 1016.3 795.3 1017.3 792.5 1018.3Z"/>
<path fill="#7cb07d" d="M143.4 1063.4 123.5 1063.5 108.5 1062.5 108.5 1008.1 127.5 1008.1 135.4 1007.6 146.4 1010 175.4 1010.4 177.1 1011.3 174.8 1016.3 174.1 1020.3 174.8 1023.3 176.5 1026.3 179.4 1029.3 183.4 1031.8 188.4 1033.9 193.5 1035.3 195.7 1036.3 196.4 1037.3 195.2 1038.3 191.4 1039.3 175.4 1042.7 155.4 1051.9 150.1 1055.3 148 1058.3 146.4 1062 145.4 1062.9ZM390.4 1039.3 385.4 1039.6 376.4 1038.5 366.4 1039.2 339.4 1039.6 325.4 1038.1 293.4 1037.5 283.4 1036.5 273.4 1036.1 260.4 1034.3 251.4 1031.4 238.4 1030.4 236.9 1029.3 237 1028.3 241.2 1020.3 242.3 1019.3 256.4 1016 260.4 1015.8 264.4 1016.3 274.4 1020.1 279.4 1020.9 292.4 1021.7 329.4 1020.9 333.4 1020.5 345.4 1017.7 363.4 1015.9 394.4 1011.7 400.4 1010.7 409.4 1008.3 415.4 1007.8 454.4 1008.1 465.4 1009.8 483.1 1010.3 503.4 1014.1 510.4 1014.9 538.5 1015.1 556.5 1017 577.5 1017.2 588.5 1018.1 620.5 1018.2 644.5 1020 659.5 1020.3 673.5 1021.4 685.5 1023.9 711.9 1024.3 722.5 1025.4 724.1 1026.3 723.5 1027.3 720.5 1028.1 701.5 1028.6 683.9 1031.3 660.5 1033.4 645.5 1031.5 604.5 1031.5 593.5 1032.6 583.5 1031.5 561.5 1031.5 552.5 1031.8 541.5 1033.6 529.5 1031.7 488.4 1031.8 468.4 1028.6 446.4 1029.1 439.4 1029.7 410.4 1034.9ZM777.5 1020.4 771.5 1020.4 768.3 1019.3 767.4 1018.3 768 1017.3 769.7 1016.3 777.5 1014.1 784.5 1013.8 786.6 1014.3 788.3 1015.3 788.4 1016.3 787 1017.3ZM507.4 1116.3 491.4 1115.6 470.4 1111.8 462.4 1111.2 455.4 1111.9 442.4 1114.9 434.4 1116.3 425.4 1116.9 415.4 1116.8 373.4 1113.3 354.4 1112.7 322.4 1107.9 315.4 1107.3 300.4 1107.6 279.4 1109.1 253.4 1109.5 218.4 1113.8 210.4 1113.4 179.4 1110.4 154.4 1109.7 145.4 1110.3 131.4 1110.2 108.5 1108.3 107.8 1089.3 108.3 1068.3 108.5 1067.1 128.4 1067 136.4 1067.7 149.4 1067.5 193.4 1064.9 240.4 1063.9 255.4 1064.1 282.4 1065.6 301.4 1065 325.4 1065.2 356.4 1063.1 378.4 1065.3 388.4 1065.6 395.4 1065.1 416.4 1062 444.4 1062 471.4 1060.4 480.4 1061.1 498.4 1065.5 509.4 1066.7 518.5 1066.2 537.5 1063 547.5 1062.3 556.5 1062.5 574.5 1064 585.5 1064.1 600.5 1065.5 615.5 1066.3 676.5 1063.9 719.5 1066.4 741.5 1065.6 756.5 1063.8 783.5 1063.4 809.5 1061.8 819.5 1062.7 845.5 1066.7 868.5 1067.2 868.6 1068.3 869.1 1089.3 868.5 1109.2 847.5 1109.5 824.5 1112.1 816.5 1112.4 809.5 1111.7 791.5 1107 785.5 1106.2 779.5 1106 768.8 1107.3 754.5 1111.5 745.5 1112.4 736.5 1112.5 715.5 1111.6 689.5 1107 674.5 1106.2 661.5 1107 647.5 1108.5 623.5 1113.2 606.5 1114.9 586.5 1115.5 572.5 1114.4 538.5 1113.8Z"/>
<path fill="#89b072" d="M389.4 1037.3 385.4 1037.5 376.4 1036.6 366.4 1037.2 339.4 1037.3 325.4 1035.8 294.2 1034.3 275.4 1031.3 270.5 1029.3 269 1027.3 269.1 1026.3 270.2 1025.3 272.4 1024.8 330.4 1022.5 346.4 1019.3 363.4 1017.8 383.2 1015.3 409.4 1013.3 428.4 1014.6 447.4 1017.2 460.8 1020.3 465.3 1022.3 465.8 1023.3 464 1024.3 459.1 1025.3 441.4 1027ZM508.4 1115.3 491.4 1114.5 470.4 1110.8 463.4 1110.2 455.4 1110.9 442.4 1113.8 434.4 1115.1 424.4 1115.6 413.4 1115.4 391.4 1114 372.4 1112.1 354.4 1111.5 322.2 1106.3 314.4 1105.7 299.4 1106 278.4 1107.6 262.4 1107.7 251.4 1108.2 219.4 1112.7 181.4 1109.1 154.4 1108.7 146.4 1109.4 132.4 1109.5 124.5 1108.6 115.5 1108.3 108.5 1107.5 107.9 1089.3 108.3 1069.3 108.5 1068.1 128.4 1068.1 136.4 1068.9 149.4 1068.7 195.4 1066.2 239.4 1065.3 255.4 1065.5 282.4 1067.1 301.4 1066.5 324.4 1066.7 337.4 1066 356.4 1064.3 379.4 1066.4 388.4 1066.7 395.4 1066.2 416.4 1063.1 444.4 1063.1 471.4 1061.5 480.4 1062.1 498.4 1066.5 509.4 1067.7 518.5 1067.2 537.5 1064.1 547.5 1063.3 556.5 1063.6 574.5 1065.1 585.5 1065.4 601.5 1066.9 615.5 1067.6 676.5 1065.4 719.5 1067.8 741.5 1066.9 756.5 1065.1 784.5 1064.5 809.5 1063.1 819.5 1064 841.5 1067.6 868.5 1068.3 869 1088.3 868.5 1108.4 847.5 1108.6 822.5 1111 816.5 1111.1 809.5 1110.4 791.5 1105.8 779.5 1104.9 768.5 1106.2 754.5 1110.2 745.5 1111 736.5 1111.1 716.5 1110 689.8 1105.3 675.5 1104.6 662.5 1105.4 647.5 1107 623.5 1111.8 606.5 1113.7 586.5 1114.2 572.5 1113.1 539.5 1112.6Z"/>
<path fill="#98b365" d="M389.4 1031.3 368.4 1032.1 353.4 1031.5 340.4 1029.7 336.7 1028.3 336.3 1027.3 339.7 1025.3 348.4 1023.3 370.4 1021.9 382.4 1022.1 393.4 1023.1 399.8 1024.3 402.8 1025.3 404.4 1026.3 404.5 1027.3 403.3 1028.3 400.7 1029.3ZM510.4 1114.3 502.4 1114.4 492.4 1113.7 470.4 1109.9 463.4 1109.3 456.4 1109.9 441.4 1113 433.4 1114.1 421.4 1114.5 405.4 1113.9 371.4 1111.1 354.4 1110.3 321.4 1104.8 313.4 1104.2 298.4 1104.5 278.4 1106.3 262.4 1106.4 251.4 1107 242.4 1108 219.4 1111.6 181.4 1107.9 154.4 1107.6 146.4 1108.5 132.4 1108.5 124.5 1107.6 115.5 1107.4 108.5 1106.6 108 1088.3 108.4 1069.3 127.5 1069 136.4 1069.9 157.4 1069.8 195.4 1067.4 239.4 1066.5 256.4 1066.9 279.4 1068.4 302.4 1067.8 320.4 1068.2 337.4 1067.3 356.4 1065.4 379.4 1067.4 388.4 1067.6 395.4 1067.1 416.4 1064 443.4 1064 471.4 1062.4 480.4 1063.1 498.4 1067.4 509.4 1068.6 518.5 1068.1 537.5 1065 546.5 1064.3 585.5 1066.5 602.5 1068.1 616.5 1068.8 676.5 1066.8 718.5 1069.1 740.5 1068.2 756.5 1066.3 809.5 1064.2 819.5 1065.1 840.5 1068.7 868.5 1069 868.9 1087.3 868.5 1107.5 847.5 1107.6 840.5 1108.5 816.5 1110 809.5 1109.3 791.5 1104.8 779.5 1103.9 768.5 1105.1 754.5 1109 746.5 1109.8 737.5 1109.9 717.5 1108.7 690.5 1103.8 676.5 1103.1 663.5 1103.9 648.5 1105.6 622.5 1110.8 606.5 1112.5 586.5 1113.1 571.5 1111.9 540.5 1111.6 530.5 1112.2Z"/>
<path fill="#aab856" d="M513.5 1113.3 504.4 1113.6 493.4 1113 471.4 1109.2 463.4 1108.5 456.4 1109 441.4 1112.1 432.4 1113.2 419.4 1113.4 398.4 1112.6 371.4 1110.2 354.4 1109.3 338.4 1106.8 321.4 1103.4 313.4 1102.8 297.4 1103.2 278.4 1105 263.4 1105.1 252.4 1105.7 243.4 1106.6 219.4 1110.4 209.4 1109.8 181.4 1106.7 154.4 1106.2 145.4 1107 132.4 1107 124.5 1106.2 116.5 1106 108.5 1105.1 108 1087.3 108.5 1070.6 128.4 1070.6 136.4 1071.4 150.4 1071.3 160.4 1071 167.4 1070.2 196.4 1068.5 238.4 1067.6 255.4 1068 279.4 1069.7 302.4 1069.2 320.4 1069.5 337.4 1068.5 356.4 1066.5 380.4 1068.3 388.4 1068.5 396.4 1067.8 416.4 1064.9 443.4 1064.9 470.4 1063.2 480.4 1063.9 498.6 1068.3 509.4 1069.4 519.5 1068.8 539.5 1065.6 548.5 1065.2 616.5 1070 676.5 1068.2 711.5 1070.2 720.5 1070.3 741.7 1069.3 756.5 1067.4 809.5 1065.3 820.5 1066.3 840.5 1070 850.5 1070.5 868.5 1070.6 868.9 1087.3 868.5 1106 847.5 1106.1 822.5 1108.8 816.5 1109 809.5 1108.3 791.5 1103.8 779.5 1102.9 768.5 1104.1 754.5 1107.9 746.5 1108.6 738.5 1108.7 718.5 1107.4 690.5 1102.4 676.5 1101.7 663.5 1102.5 648.4 1104.3 622.5 1109.6 606.5 1111.4 587.5 1112.1 570.5 1110.9 541.5 1110.7 530.8 1111.3Z"/>
<path fill="#bdbf47" d="M515.5 1112.4 506.4 1112.9 495.4 1112.4 485.4 1111.1 470.4 1108.3 463.4 1107.7 456.4 1108.3 440.4 1111.5 432.4 1112.3 419.4 1112.5 396.4 1111.7 371 1109.3 354.4 1108.3 338.4 1105.6 321.4 1102.1 312.4 1101.4 297.4 1101.9 277.4 1103.7 253.4 1104.5 243.4 1105.5 222.4 1109 216.4 1109.2 208.4 1108.6 183.4 1105.6 137.4 1103.1 108.5 1100.6 108.1 1087.3 108.5 1074.4 138.4 1073.7 196.4 1069.6 234.4 1068.8 253.4 1069.1 282.4 1071 301.4 1070.5 322.4 1070.7 337.4 1069.6 356.4 1067.5 364.4 1067.7 380.4 1069.1 388.4 1069.2 396.4 1068.6 416.4 1065.8 443.4 1065.7 470.4 1064 480.4 1064.7 498.4 1069 507.4 1070.1 517.5 1069.8 537.5 1066.7 548.5 1066 585.5 1068.4 605.5 1070.4 620.5 1071.1 675.5 1069.5 711.5 1071.4 721.5 1071.4 742.5 1070.3 757.5 1068.4 809.5 1066.2 821.5 1067.5 851.9 1073.3 868.5 1074.5 868.8 1087.3 868.5 1100.7 852 1102.3 836.5 1105.6 822.5 1107.8 817.5 1108 811.5 1107.6 792.5 1103.1 780.5 1102 769.5 1103 753.5 1106.9 744.5 1107.6 734.5 1107.4 714.5 1105.7 689.5 1100.9 677.5 1100.4 663.5 1101.3 648.5 1103.1 622.5 1108.5 606.5 1110.4 587.5 1111.1 570.5 1109.9 542.5 1109.8 532.5 1110.4Z"/>
<path fill="#d1c439" d="M517.5 1111.3 507.4 1112 496.4 1111.6 487.4 1110.5 470.4 1107.4 463.4 1106.9 457.2 1107.3 441.4 1110.4 432.4 1111.4 419.4 1111.5 395.4 1110.7 354.4 1107.1 337.4 1104.1 321.4 1100.6 312.4 1099.9 297.4 1100.3 277.4 1102.3 254.4 1103.1 244.4 1104.1 223.4 1107.6 217.4 1108 211.4 1107.8 183.4 1104.2 139.4 1101.4 108.5 1098.5 108.5 1076.6 138.4 1075.5 200.4 1070.6 240.4 1070 256.4 1070.5 279.4 1072.4 302.4 1072 319.4 1072.4 336.4 1071 355.4 1068.6 363.4 1068.7 380.4 1070 388.4 1070.1 396.4 1069.5 416.4 1066.7 443.4 1066.6 470.4 1064.9 480.4 1065.6 498.4 1069.9 507.4 1070.9 517.5 1070.6 537.5 1067.5 548.5 1066.9 585.5 1069.5 606.5 1071.6 621.5 1072.3 675.5 1071 710.5 1072.7 720.5 1072.8 742.5 1071.6 759.5 1069.5 809.5 1067.3 822.5 1068.8 852.5 1075.3 868.5 1076.7 868.5 1098.6 853.5 1100.1 832.5 1104.9 822.5 1106.6 817.5 1106.9 811.5 1106.5 792.5 1102.1 780.5 1101 769.5 1101.9 752.5 1105.8 743.5 1106.4 734.5 1106.1 714.5 1104.2 690.5 1099.5 677.5 1098.9 663.5 1099.7 648.5 1101.7 623.5 1107.1 606.5 1109.2 587.5 1110 569.5 1108.9 543.5 1108.8 532.5 1109.5Z"/>
<path fill="#e2ca2f" d="M518.5 1110.4 508.4 1111.2 497.4 1110.9 487.4 1109.7 470.4 1106.6 463.4 1106.1 457.4 1106.5 441.4 1109.6 432.4 1110.5 419.4 1110.6 394.4 1109.8 354.4 1106.1 337.4 1102.9 321.4 1099.1 312.4 1098.3 299.4 1098.7 278.4 1100.8 254.4 1101.8 244.4 1102.9 224.4 1106.3 218.4 1106.8 212.4 1106.7 183.4 1102.9 138.4 1099.6 108.5 1096.5 108.5 1078.6 138.4 1077.2 201.4 1071.8 239.4 1071.2 255.4 1071.8 280.4 1073.9 302.4 1073.5 318.4 1073.9 336.4 1072.3 356.4 1069.6 389.4 1070.9 396.4 1070.4 416.4 1067.5 443.4 1067.4 470.4 1065.7 480.4 1066.5 497.4 1070.5 506.4 1071.7 517.5 1071.4 537.5 1068.4 549.5 1067.8 585.5 1070.5 606.5 1072.7 621.5 1073.5 675.5 1072.5 709.5 1074.1 719.5 1074.1 741.5 1072.8 756.5 1070.8 765.5 1070.2 809.5 1068.4 822.5 1069.9 852.5 1077 868.5 1078.7 868.5 1096.6 862.5 1097 853.5 1098.4 832.5 1103.7 821.5 1105.6 811.5 1105.4 792.5 1101.1 780.5 1100.1 769.5 1100.9 752.5 1104.7 744.5 1105.1 735.5 1104.9 715.5 1102.9 690.5 1097.9 678.5 1097.3 666.5 1098 654.5 1099.4 644.5 1101 622.5 1106.1 606.5 1108.1 587.5 1108.9 569.5 1107.9 544.5 1107.9 533.5 1108.6Z"/>
<path fill="#ecc528" d="M511.4 1110.3 503.4 1110.5 494.4 1109.9 471.4 1106 464.4 1105.3 457.4 1105.7 441.4 1108.8 432.4 1109.6 418.4 1109.7 392.4 1108.9 354.4 1105 337.4 1101.6 321.4 1097.6 313.4 1096.7 299.4 1097.1 278.4 1099.3 255.4 1100.4 244.4 1101.7 224.4 1105.3 218.4 1105.8 212.4 1105.7 183.4 1101.7 139.4 1097.9 108.5 1094.1 108.5 1080.9 137.4 1079.1 190.4 1073.7 202.4 1072.9 239.4 1072.3 255.4 1073 280.4 1075.3 302.4 1075.1 318.4 1075.5 336.4 1073.5 356.4 1070.6 364.4 1070.6 380.4 1071.7 389.4 1071.7 416.4 1068.4 442.4 1068.2 470.4 1066.4 480.4 1067.2 497.8 1071.3 507.4 1072.5 517.5 1072.2 537.5 1069.2 548.5 1068.6 585.5 1071.5 601.5 1073.3 617.5 1074.5 675.5 1074.1 713.5 1075.5 739.5 1074.2 756.5 1071.9 768.5 1071 810.5 1069.5 823.5 1071.2 853.5 1079.1 862.5 1080.6 868.5 1081 868.5 1094.2 862.5 1094.7 855.5 1096 832.5 1102.5 820.5 1104.7 810.5 1104.3 792.5 1100.2 780.5 1099.1 769.5 1099.9 752.5 1103.5 744.5 1104 735.5 1103.7 715.5 1101.6 690.5 1096.3 678.5 1095.7 666.5 1096.4 655.5 1097.8 644.5 1099.7 622.5 1104.9 606.5 1107.1 587.5 1108 569.5 1107 543.5 1107.1 532.5 1107.9Z"/>
<path fill="#efb724" d="M512.5 1109.3 503.4 1109.5 494.4 1108.9 471.4 1105 464.4 1104.4 457.4 1104.8 441.4 1107.7 433.4 1108.5 419.4 1108.6 391.4 1107.9 354.4 1103.7 337.4 1100 320.4 1095.1 313.4 1094.4 298.4 1094.9 278.4 1097.3 255.4 1098.7 244.4 1100.1 225.4 1103.7 219.4 1104.3 213.4 1104.3 183.4 1100 133.3 1094.3 119.1 1091.3 110.3 1088.3 109.4 1087.3 115.2 1085.3 125.8 1083.3 173.4 1077.2 200.4 1074.4 238.4 1073.8 255.4 1074.8 280.4 1077.3 317.4 1077.8 323.4 1077.2 356.4 1071.9 365.4 1071.8 381.4 1072.7 389.4 1072.7 416.4 1069.4 442.4 1069.2 469.4 1067.4 479.4 1068.1 498 1072.3 507.4 1073.4 516.5 1073.2 537.5 1070.2 548.5 1069.7 585.5 1072.7 602.5 1074.8 618.5 1076.1 675.5 1076.3 690.5 1077.1 710.5 1077.4 721.5 1077.1 738.5 1075.8 756.5 1073.4 770.5 1072.2 810.5 1070.8 820.5 1071.9 831.5 1074.7 842.9 1078.3 867.5 1087.3 867 1088.3 864.7 1089.3 840.5 1098.4 828.5 1101.9 819.5 1103.4 810.5 1103 792.5 1099 780.5 1097.9 769.5 1098.6 752.5 1102 744.5 1102.4 735.5 1102.1 715.5 1099.7 690.5 1094 679.5 1093.4 668.5 1094 656.5 1095.6 644.5 1097.8 622.5 1103.4 606.5 1105.7 587.5 1106.7 568.5 1105.8 543.5 1106.1 533.5 1106.8Z"/>
<path fill="#f0a821" d="M513.5 1108.4 504.4 1108.7 495.4 1108.1 472.4 1104.2 464.4 1103.5 457.4 1103.9 441.4 1106.8 432.4 1107.6 402.4 1107.3 389.4 1106.8 354 1102.3 335.4 1097.7 320.4 1092.5 313.4 1091.6 297.4 1092.4 277.4 1095.2 255.4 1096.9 244.4 1098.5 225.7 1102.3 214.4 1103 207.4 1102.3 185.4 1098.5 147.4 1093 137.6 1090.3 136 1089.3 135.6 1088.3 136.2 1087.3 138.1 1086.3 149.8 1083.3 173.4 1079.2 192.4 1076.7 202.4 1075.8 214.4 1075.3 237.8 1075.3 255.4 1076.5 281.4 1079.6 316.4 1080.6 321.4 1080.1 349.4 1074.3 357.4 1073.1 365.4 1072.9 389.4 1073.6 416.4 1070.4 442.4 1070.2 469.4 1068.3 479.4 1069 497.4 1073.1 506.4 1074.2 516.5 1074.1 537.5 1071.1 549.5 1070.7 585.5 1073.9 617.5 1077.5 644.5 1078 689.5 1079.9 723.5 1078.8 743.5 1076.9 757.5 1074.7 773.5 1073.2 795.5 1072.2 810.5 1072 822.5 1073.7 837.2 1078.3 842.2 1080.3 847.7 1083.3 850.3 1085.3 851.5 1087.3 851.1 1089.3 849.2 1091.3 842.7 1095.3 829.5 1100.1 819.5 1102.1 810.5 1101.7 792.5 1097.8 780.5 1096.7 769.5 1097.4 752.5 1100.5 744.5 1100.9 735.5 1100.5 724.5 1099.3 714.5 1097.5 690.5 1091.1 680.5 1090.5 668.5 1091.4 658.5 1092.8 644.5 1095.8 623.5 1101.7 606.5 1104.3 587.5 1105.5 568.5 1104.7 543.5 1105.1 533.5 1105.9Z"/>
<path fill="#ee961f" d="M515.5 1107.3 506.4 1107.8 497.4 1107.4 487.4 1106.2 471.4 1103.2 464.4 1102.6 457.4 1103 441.4 1105.9 432.4 1106.7 400.4 1106.4 387.4 1105.7 356.4 1101.5 343.4 1098.3 334.1 1095.3 327.3 1092.3 321.2 1088.3 319.9 1086.3 320.3 1085.3 323.1 1083.3 329.4 1080.7 347 1076.3 356.4 1074.5 366.4 1074 389.4 1074.5 416.4 1071.3 441.4 1071.1 469.4 1069.2 479.4 1069.9 498.4 1074.1 508.4 1075.2 518.5 1074.8 540.5 1071.8 554.5 1071.9 585.5 1075.1 615.5 1078.8 649.5 1080.7 671.5 1084.3 672.3 1085.3 626.5 1099.3 611.5 1102.3 600.5 1103.6 588.5 1104.2 567.5 1103.7 542.5 1104.2ZM822.5 1100.4 817.5 1100.9 811.5 1100.6 792.5 1096.6 780.5 1095.5 769.5 1096.1 755.5 1098.7 750.5 1099.1 741.5 1099.2 732.5 1098.4 719 1096.3 707.7 1093.3 699.9 1090.3 696 1088.3 693.7 1086.3 693.8 1085.3 696.5 1083.8 701.5 1082.7 742.5 1078.7 766.5 1075.1 785.5 1073.8 807.5 1073.2 817.5 1074 826.7 1076.3 839 1081.3 842.3 1083.3 844.4 1085.3 845.3 1087.3 845.1 1089.3 843.7 1091.3 841.2 1093.3 833 1097.3ZM222.4 1101.3 215.4 1101.7 209.4 1101.2 172.4 1094.3 160.5 1091.3 156.2 1089.3 155.6 1088.3 156.1 1087.3 159.8 1085.3 166 1083.3 174.9 1081.3 196.4 1077.8 214.4 1076.6 235.4 1076.7 253.9 1078.3 281.4 1082.6 297.4 1084.5 301.6 1085.3 302.3 1086.3 299.8 1087.3 278.8 1092.3 249.4 1095.9 229.4 1100.3Z"/>
<path fill="#ee831c" d="M516.5 1106.4 507.4 1107 497.4 1106.6 488.4 1105.5 471.4 1102.4 464.4 1101.8 457.4 1102.2 442.4 1104.9 433.4 1105.7 399.4 1105.5 387.4 1104.8 357.4 1100.4 345.5 1097.3 337.2 1094.3 331.4 1091.3 328.3 1088.3 328 1086.3 329.4 1084.3 330.9 1083.3 335.5 1081.3 349 1077.3 358.4 1075.5 367.4 1075 389.4 1075.4 416.4 1072.2 441.4 1072 469.4 1070 479.4 1070.7 498.4 1075 508.4 1076 518.5 1075.6 540.5 1072.7 548.5 1072.6 556.5 1073.1 585.5 1076.3 615.5 1080.4 638.5 1082.4 647 1084.3 648.8 1085.3 649.4 1086.3 649.1 1087.3 646.5 1089.3 632.6 1095.3 621.5 1098.8 609.5 1101.2 598.5 1102.4 587.5 1103.1 567.5 1102.7 543.5 1103.2 533.5 1104.1ZM820.5 1099.4 816.5 1099.6 811.5 1099.3 792.5 1095.4 780.5 1094.3 769.5 1094.7 752.5 1097.4 744.5 1097.6 737.5 1097.1 725.9 1095.3 717.9 1093.3 710.7 1090.3 708.6 1088.3 708.6 1087.3 709.7 1086.3 711.5 1085.6 716.7 1084.3 763.5 1076.9 778.5 1075.4 798.5 1074.5 811.5 1074.6 821.5 1076.1 832.5 1080.3 837.6 1083.3 839.6 1085.3 840.6 1087.3 840.4 1089.3 839 1091.3 836.6 1093.3 828.5 1097.3ZM217.4 1100.3 211.4 1100 203.4 1098.7 177.4 1092.3 172 1090.3 170.6 1089.3 170 1088.3 170.2 1087.3 172.4 1085.6 175.5 1084.3 191.8 1080.3 203.4 1078.7 216.4 1078 235.4 1078.3 253.4 1080.5 262.5 1082.3 269.4 1084.3 273.6 1086.3 274.1 1087.3 273.3 1088.3 271.4 1089.2 267.3 1090.3 246.4 1094.5 228.4 1099Z"/>
<path fill="#ee6d1a" d="M516.5 1105.4 507.4 1106 497.4 1105.6 472.4 1101.5 464.4 1100.8 457.4 1101.2 442.4 1103.8 433.4 1104.7 399.4 1104.4 388.4 1103.8 365.1 1100.3 351.8 1097.3 346.1 1095.3 339.8 1092.3 336.2 1089.3 335.6 1087.3 336.4 1085.4 337.6 1084.3 343.4 1081.3 352.4 1078.3 360.4 1076.8 368.4 1076.3 390.4 1076.4 416.4 1073.3 441.4 1073 461.4 1071.3 469.4 1071 479.4 1071.8 497.4 1075.8 507.4 1076.9 517.5 1076.7 540.5 1073.8 548.5 1073.7 557.5 1074.3 585.5 1077.8 627 1084.3 633.8 1086.3 634.9 1087.3 635.2 1088.3 634.8 1089.3 632.7 1091.3 624.6 1095.3 614.5 1098.2 604.5 1100 586.5 1101.6 567.5 1101.4 543.5 1102.1 533.5 1103ZM821.5 1097.4 816.5 1098 811.5 1097.6 792.5 1093.8 780.5 1092.7 769.5 1092.9 753.5 1095 742.5 1094.9 736.5 1094.1 729.6 1092.3 727.3 1091.3 725 1089.3 725.2 1088.3 726.3 1087.3 731.4 1085.3 766.8 1078.3 789.5 1076.4 812.5 1076.3 819.5 1077.4 825.5 1079.4 831 1082.3 833.5 1084.3 834.9 1086.3 835.1 1089.3 832.7 1092.3 827.8 1095.3ZM219.4 1098.4 214.4 1098.4 209.4 1097.8 195.4 1094.3 190 1092.3 186.3 1090.3 184.7 1088.3 184.8 1087.3 185.6 1086.3 189.1 1084.3 195.2 1082.3 204.4 1080.7 215.4 1079.8 231.4 1080.2 239.4 1081.2 250.4 1083.9 253.4 1085.3 254.3 1086.3 254.2 1087.3 251.5 1089.3 240.7 1093.3 229.4 1096.7Z"/>
<path fill="#ee5916" d="M517.5 1104.3 508.4 1105 498.4 1104.7 489.4 1103.6 472.4 1100.5 464.4 1099.8 457.4 1100.2 442.4 1102.8 433.4 1103.6 399.4 1103.3 389.4 1102.8 368.4 1099.6 354.7 1096.3 345.8 1092.3 342.6 1089.3 342.2 1087.3 343.2 1085.3 344.2 1084.3 347.5 1082.3 355.4 1079.4 362.4 1078 369.4 1077.5 390.4 1077.5 416.4 1074.4 441.4 1074 461.4 1072.3 469.4 1072 479.4 1072.8 497.4 1076.7 507.4 1077.9 517.5 1077.6 540.5 1074.8 548.5 1074.8 557.5 1075.5 585.5 1079.3 607 1083.3 619.3 1086.3 622.5 1087.7 623.9 1089.3 623.2 1091.3 618.2 1094.3 609.5 1097 599.5 1098.8 586.5 1100 566.5 1100.2 543.5 1101ZM821.5 1095.5 817.5 1096.2 812.5 1096 792.5 1092.1 780.5 1090.8 771.5 1090.7 756.5 1091.8 749.5 1091.7 744.5 1090.8 742.9 1090.3 741.7 1089.3 742 1088.3 745.8 1086.3 759.3 1082.3 770.5 1079.9 790.5 1078.1 812.5 1078.1 818.5 1079 823.5 1080.7 827.8 1083.3 830.3 1086.3 830.4 1089.3 829.1 1091.3 825.5 1093.9ZM218.4 1096.4 211.4 1096 201.7 1093.3 196 1090.3 194.8 1088.3 195.1 1087.3 197.6 1085.3 201.4 1083.9 209.4 1082.4 215.4 1081.9 232.4 1082.9 237.6 1084.3 240.7 1086.3 241 1087.3 239.9 1089.3 235 1092.3 226.4 1095.1Z"/>
<path fill="#f04713" d="M517.5 1103.4 508.4 1104.1 498.4 1103.8 489.4 1102.6 472.4 1099.5 464.4 1098.9 457.4 1099.3 442.4 1101.8 433.4 1102.6 399.4 1102.3 389.4 1101.8 370.4 1098.7 357.6 1095.3 353 1093.3 349.9 1091.3 348.1 1089.3 347.8 1087.3 348.9 1085.3 350 1084.3 353.4 1082.3 359.1 1080.3 365.4 1079.1 389.4 1078.6 416.4 1075.4 441.4 1075.1 460.4 1073.3 469.4 1073 479.4 1073.8 497.4 1077.7 507.4 1078.9 517.5 1078.6 540.5 1075.9 548.5 1075.9 557.5 1076.7 585.5 1081 600.7 1084.3 610.3 1087.3 612.5 1088.6 613.5 1090.3 612.3 1092.3 608.4 1094.3 601.5 1096.3 594.5 1097.5 585.5 1098.4 543.5 1099.9ZM820.5 1093.5 816.5 1094.2 810.5 1093.8 790.5 1089.6 769.5 1087.1 766.7 1086.3 766.7 1085.3 770.7 1083.3 774.4 1082.3 785.5 1080.7 800.5 1079.9 815.5 1080.4 821.6 1082.3 824.4 1084.3 825.9 1086.3 826.2 1088.3 825.4 1090.3 823 1092.3ZM220.4 1093.4 215.4 1093.7 210.4 1092.8 205.6 1090.3 205 1089.3 204.9 1088.3 205.7 1087.3 208.4 1085.9 215.4 1084.6 224.7 1085.3 228.7 1086.3 230.3 1087.3 230.8 1088.3 229.3 1090.3 225 1092.3Z"/>
<path fill="#f03711" d="M517.5 1102.4 507.4 1103.1 498.4 1102.8 472.4 1098.6 464.4 1097.9 457.4 1098.3 442.4 1100.8 434.4 1101.5 399.4 1101.2 390.4 1100.8 374.9 1098.3 363.2 1095.3 358.3 1093.3 355.1 1091.3 353.4 1089.3 353.1 1087.3 354.3 1085.3 357.1 1083.3 362.4 1081.3 367.4 1080.4 392.4 1079.5 416.4 1076.5 440.4 1076.1 460.4 1074.2 469.4 1073.9 479.4 1074.8 497.4 1078.7 507.4 1079.8 517.5 1079.6 539.5 1077 547.5 1077 556.5 1077.8 587.5 1083.3 600.1 1087.3 603 1089.3 603.5 1090.3 603.2 1091.3 602.2 1092.3 600.4 1093.3 594.5 1095.1 587.9 1096.3 542.5 1098.9ZM817.5 1091.3 812.5 1091.5 806.6 1090.3 795.9 1087.3 791.7 1085.3 792.2 1084.3 793.5 1083.9 799.5 1082.9 810.5 1082.6 816.5 1083.2 820.4 1085.3 821.5 1087.3 821.4 1088.3 820.5 1089.8Z"/>
<path fill="#f2290f" d="M517.5 1101.4 508.4 1102.2 499.4 1101.9 490.4 1100.8 473.4 1097.7 464.4 1097 457.4 1097.3 442.4 1099.8 434.4 1100.4 391.4 1099.8 376.4 1097.3 365.6 1094.3 360 1091.3 358.3 1089.3 358.1 1087.3 359.5 1085.3 362.4 1083.5 366.2 1082.3 370.4 1081.6 392.4 1080.6 416.4 1077.5 440.4 1077.1 460.4 1075.2 469.4 1074.9 479.4 1075.8 497.4 1079.6 507.4 1080.8 517.5 1080.6 539.5 1078.1 547.5 1078.2 555.5 1078.9 569.3 1081.3 583.5 1084.6 590.6 1087.3 593.2 1089.3 593.4 1090.3 592.9 1091.3 591.5 1092.3 583.5 1094.5 541.5 1097.9Z"/>
<path fill="#f2210f" d="M517.5 1100.4 508.4 1101.2 499.4 1100.9 491.4 1099.9 473.4 1096.7 464.4 1096 457.4 1096.4 442.4 1098.7 434.4 1099.4 392.4 1098.7 382.7 1097.3 370.9 1094.3 364.8 1091.3 363.7 1090.3 362.8 1088.3 363.6 1086.3 364.9 1085.3 368.4 1083.8 372.4 1083.1 393.4 1081.6 416.4 1078.6 440.4 1078.2 459.4 1076.3 468.4 1075.9 478.4 1076.7 497.4 1080.6 507.4 1081.8 517.5 1081.6 538.5 1079.3 552.5 1079.9 561.3 1081.3 573.9 1084.3 581.5 1087.3 583.4 1089.3 583.2 1090.3 582 1091.3 575.1 1093.3 540.5 1096.8Z"/>
</g>
<path d="M112 1002.9H116.1H120.2H124.3H128.4H132.6H136.7H140.8V1005.2H144.9H149H153.2H157.3H161.4H165.5H169.6H173.8H177.9H182H186.1H190.2H194.4H198.5V1007.5H202.6H206.7H210.8H214.9V1009.8H219.1H223.2V1012.1H227.3H231.4H235.6V1014.4H239.7H243.8H247.9H252V1012.1H256.2H260.3H264.4V1009.8V1012.1H268.5V1014.4H272.6V1016.7H276.8H280.9H285H289.1V1019H293.2H297.4H301.5H305.6H309.7H313.8H317.9H322.1H326.2H330.3H334.4V1016.7H338.6V1014.4H342.7H346.8H350.9H355H359.2V1012.1H363.3H367.4H371.5H375.6V1009.8H379.8H383.9H388V1007.5H392.1H396.2H400.4V1005.2H404.5H408.6V1002.9H412.7H416.8H420.9H425.1H429.2H433.3H437.4H441.6H445.7H449.8H453.9H458V1005.2H462.1H466.3H470.4H474.5H478.6H482.8H486.9V1007.5H491H495.1H499.2V1009.8H503.4H507.5H511.6H515.7H519.8H524H528.1H532.2H536.3H540.4H544.6H548.7V1012.1H552.8H556.9H561H565.1H569.3H573.4H577.5H581.6H585.8H589.9H594H598.1H602.2H606.4H610.5H614.6V1014.4H618.7H622.8H627H631.1H635.2H639.3H643.4H647.6H651.7H655.8V1016.7H659.9H664H668.2H672.3H676.4H680.5V1019H684.6H688.8H692.9H697H701.1H705.2H709.4H713.5H717.6H721.7H725.8H730H734.1V1021.3H730V1023.6V1025.9V1028.2V1030.5H725.8V1032.8H721.7H717.6H713.5H709.4H705.2H701.1H697H692.9V1035.1H688.8H684.6H680.5H676.4H672.3H668.2V1037.4H664H659.9H655.8H651.7V1035.1H647.6H643.4H639.3H635.2H631.1H627H622.8H618.7H614.6H610.5H606.4H602.2H598.1H594V1037.4H589.9V1035.1H585.8H581.6H577.5H573.4H569.3H565.1H561H556.9H552.8H548.7V1037.4H544.6H540.4H536.3H532.2V1035.1H528.1H524H519.8H515.7H511.6H507.5H503.4H499.2H495.1H491H486.9H482.8H478.6V1032.8H474.5H470.4H466.3V1030.5H462.1H458H453.9H449.8H445.7H441.6V1032.8H437.4H433.3H429.2H425.1V1035.1H420.9H416.8H412.7V1037.4H408.6H404.5H400.4V1039.7H396.2H392.1V1042H388H383.9H379.8V1039.7H375.6H371.5V1042H367.4H363.3H359.2H355H350.9H346.8H342.7H338.6H334.4H330.3V1039.7H326.2H322.1H317.9H313.8H309.7H305.6H301.5H297.4H293.2H289.1H285H280.9H276.8H272.6H268.5H264.4V1037.4H260.3H256.2V1035.1H252H247.9H243.8H239.7V1032.8H235.6H231.4H227.3V1030.5V1028.2H231.4V1025.9H235.6V1023.6V1021.3V1019V1016.7V1014.4M235.6 1014.4H231.4H227.3H223.2H219.1H214.9H210.8H206.7H202.6H198.5H194.4H190.2H186.1H182H177.9V1016.7V1019V1021.3V1023.6H182V1025.9H186.1V1028.2H190.2V1030.5H194.4H198.5V1032.8H202.6V1035.1H206.7H210.8V1037.4V1039.7H206.7H202.6V1042H198.5H194.4H190.2V1044.3H186.1H182H177.9V1046.6H173.8H169.6V1048.9H165.5V1051.2H161.4V1053.5H157.3V1055.8H153.2V1058.1H149V1060.4V1062.7H153.2V1065V1067.3V1069.6H157.3V1071.9H161.4H165.5H169.6H173.8H177.9V1069.6H182H186.1H190.2H194.4V1067.3H198.5H202.6H206.7H210.8H214.9H219.1H223.2H227.3H231.4H235.6V1069.6H239.7H243.8H247.9H252H256.2H260.3H264.4H268.5H272.6H276.8H280.9H285H289.1H293.2H297.4H301.5H305.6H309.7H313.8H317.9H322.1H326.2H330.3H334.4H338.6V1067.3H342.7H346.8H350.9H355H359.2H363.3H367.4H371.5V1069.6H375.6H379.8H383.9H388H392.1H396.2H400.4H404.5V1067.3H408.6V1065H412.7H416.8H420.9H425.1H429.2H433.3H437.4H441.6V1067.3H445.7H449.8V1065H453.9H458H462.1H466.3H470.4V1062.7H474.5H478.6H482.8V1065H486.9V1067.3H491V1069.6H495.1H499.2H503.4H507.5H511.6H515.7H519.8H524H528.1V1067.3H532.2H536.3H540.4V1065H544.6H548.7H552.8H556.9V1067.3H561H565.1H569.3H573.4V1069.6H577.5H581.6H585.8H589.9H594H598.1H602.2H606.4H610.5H614.6H618.7H622.8H627H631.1H635.2H639.3H643.4H647.6H651.7H655.8H659.9H664H668.2V1067.3H672.3H676.4H680.5H684.6H688.8H692.9H697V1069.6H701.1H705.2H709.4V1071.9H713.5H717.6V1069.6H721.7H725.8H730H734.1H738.2H742.3H746.4H750.6H754.7V1067.3H758.8H762.9H767H771.2H775.3H779.4H783.5H787.6H791.8H795.9H800H804.1V1065H808.2H812.4H816.5H820.6H824.7H828.8H833H837.1H841.2H845.3H849.4H853.6H857.7H861.8H865.9M112 1108.7H116.1H120.2H124.3H128.4V1111H132.6H136.7H140.8H144.9H149V1108.7H153.2H157.3H161.4H165.5H169.6H173.8H177.9H182H186.1H190.2H194.4V1111H198.5H202.6H206.7H210.8V1113.3H214.9H219.1H223.2H227.3V1111H231.4V1108.7H235.6V1106.4H239.7V1104.1H243.8H247.9H252H256.2H260.3H264.4H268.5H272.6V1106.4H276.8V1108.7H280.9V1106.4H285H289.1V1104.1H293.2H297.4V1101.8H301.5H305.6H309.7H313.8H317.9H322.1H326.2H330.3V1104.1H334.4V1106.4H338.6H342.7V1108.7H346.8H350.9H355H359.2H363.3H367.4H371.5H375.6H379.8V1111H383.9H388H392.1H396.2H400.4H404.5H408.6H412.7H416.8H420.9H425.1V1113.3H429.2H433.3H437.4H441.6V1111H445.7H449.8V1108.7H453.9V1106.4H458H462.1H466.3H470.4V1108.7H474.5H478.6V1111H482.8H486.9H491V1113.3H495.1H499.2H503.4H507.5H511.6H515.7H519.8V1111H524H528.1H532.2V1108.7H536.3H540.4H544.6H548.7H552.8H556.9H561H565.1H569.3H573.4H577.5H581.6V1111H585.8H589.9H594V1113.3H598.1H602.2H606.4H610.5H614.6H618.7V1111H622.8H627V1108.7H631.1V1106.4H635.2V1104.1H639.3H643.4H647.6V1101.8H651.7H655.8H659.9H664H668.2H672.3H676.4H680.5H684.6H688.8V1104.1H692.9H697H701.1H705.2H709.4V1106.4H713.5H717.6H721.7V1108.7H725.8H730H734.1H738.2H742.3H746.4H750.6H754.7V1106.4H758.8V1104.1H762.9H767V1101.8H771.2H775.3H779.4H783.5H787.6H791.8H795.9V1104.1H800H804.1V1106.4H808.2V1108.7H812.4H816.5H820.6H824.7H828.8V1111H833H837.1H841.2V1108.7H845.3H849.4H853.6H857.7H861.8H865.9M746.4 1016.7H750.6H754.7H758.8H762.9V1014.4H767H771.2V1012.1H775.3V1009.8H779.4V1007.5H783.5V1005.2H787.6H791.8V1002.9H795.9H800V1000.6H804.1H808.2V998.3H812.4V996V993.7H816.5H820.6V991.4H824.7V989.1H828.8V986.8H833V984.5H837.1V982.2H841.2V979.9H845.3V977.6H849.4H853.6V975.3H857.7V973H861.8H865.9M746.4 1016.7V1019H750.6V1021.3H754.7H758.8H762.9H767V1023.6H771.2V1025.9H775.3V1023.6H779.4V1021.3H783.5V1019H787.6H791.8H795.9H800H804.1H808.2V1021.3H812.4H816.5H820.6H824.7H828.8H833V1019H837.1H841.2H845.3H849.4H853.6H857.7H861.8H865.9" fill="none" stroke="#fff" stroke-width="3.2" stroke-linejoin="round" stroke-linecap="round"/>
<path d="M856.4 983.3L856.7 975.6M837.7 992.8L838.2 985.1M856.4 992.8L856.7 985.1M819.0 1002.3L819.7 994.6M837.7 1002.3L838.2 994.6M856.4 1002.3L856.7 994.6M120.8 1003.1L113.5 1005.7M139.5 1003.7L132.0 1005.6M158.2 1004.6L150.6 1005.4M175.9 1008.6L169.3 1004.7M191.6 1011.2L188.3 1004.2M405.1 1003.9L412.6 1005.6M423.6 1003.9L431.2 1005.6M442.1 1004.5L449.7 1005.4M460.6 1005.8L468.3 1005.2M482.4 1010.9L486.3 1004.3M779.8 1011.2L782.9 1004.2M799.5 1011.6L801.3 1004.1M819.0 1011.8L819.7 1004.1M837.7 1011.8L838.2 1004.1M856.4 1011.8L856.7 1004.1M120.8 1012.6L113.5 1015.2M139.5 1013.2L132.0 1015.1M158.2 1014.1L150.6 1014.9M175.9 1018.1L169.3 1014.2M191.6 1020.7L188.3 1013.7M208.0 1021.3L207.3 1013.6M219.9 1017.1L227.1 1014.4M238.9 1018.2L245.5 1014.2M257.9 1018.8L264.0 1014.1M330.9 1013.5L338.4 1015.0M349.5 1013.3L357.0 1015.1M368.0 1013.3L375.5 1015.1M386.6 1013.3L394.1 1015.1M405.1 1013.4L412.6 1015.1M423.6 1013.4L431.2 1015.1M442.1 1014.0L449.7 1014.9M460.6 1015.3L468.3 1014.7M482.4 1020.4L486.3 1013.8M500.7 1020.3L504.8 1013.8M519.2 1020.3L523.4 1013.8M537.8 1020.2L542.0 1013.8M556.3 1020.2L560.5 1013.8M574.8 1020.2L579.1 1013.8M593.3 1020.2L597.6 1013.8M611.8 1020.1L616.2 1013.8M630.3 1020.1L634.7 1013.8M648.8 1020.1L653.3 1013.8M667.3 1020.0L671.9 1013.8M760.7 1020.5L764.5 1013.8M779.8 1020.7L782.9 1013.7M799.5 1021.1L801.3 1013.6M819.0 1021.3L819.7 1013.6M837.7 1021.3L838.2 1013.6M856.4 1021.3L856.7 1013.6M120.8 1022.1L113.5 1024.7M139.5 1022.7L132.0 1024.6M158.2 1023.6L150.6 1024.4M175.9 1027.6L169.3 1023.7M238.9 1027.7L245.5 1023.7M257.9 1028.3L264.0 1023.6M275.8 1027.3L282.7 1023.8M293.9 1026.1L301.3 1024.0M312.2 1024.5L319.9 1024.3M330.9 1023.0L338.4 1024.5M349.5 1022.8L357.0 1024.6M368.0 1022.8L375.5 1024.6M386.6 1022.8L394.1 1024.6M405.1 1022.9L412.6 1024.6M423.6 1022.9L431.2 1024.6M442.1 1023.5L449.7 1024.4M460.6 1024.8L468.3 1024.2M482.4 1029.9L486.3 1023.3M500.7 1029.8L504.8 1023.3M519.2 1029.8L523.4 1023.3M537.8 1029.7L542.0 1023.3M556.3 1029.7L560.5 1023.3M574.8 1029.7L579.1 1023.3M593.3 1029.7L597.6 1023.3M611.8 1029.6L616.2 1023.3M630.3 1029.6L634.7 1023.3M648.8 1029.6L653.3 1023.3M667.3 1029.5L671.9 1023.3M685.8 1029.5L690.4 1023.3M704.3 1029.5L709.0 1023.3M722.8 1029.4L727.5 1023.4M120.2 1037.2L113.6 1033.2M137.9 1038.3L132.3 1033.0M155.4 1039.2L151.1 1032.8M173.0 1039.7L169.8 1032.7M190.6 1040.1L188.5 1032.6M208.5 1040.2L207.2 1032.6M238.9 1037.2L245.5 1033.2M257.9 1037.8L264.0 1033.1M275.8 1036.8L282.7 1033.3M293.9 1035.6L301.3 1033.5M312.2 1034.0L319.9 1033.8M330.9 1032.5L338.4 1034.0M349.5 1032.3L357.0 1034.1M368.0 1032.3L375.5 1034.1M386.6 1032.3L394.1 1034.1M405.1 1032.4L412.6 1034.1M423.6 1032.4L431.2 1034.1M482.4 1039.4L486.3 1032.8M500.7 1039.3L504.8 1032.8M519.2 1039.3L523.4 1032.8M537.8 1039.2L542.0 1032.8M556.3 1039.2L560.5 1032.8M574.8 1039.2L579.1 1032.8M593.3 1039.2L597.6 1032.8M611.8 1039.1L616.2 1032.8M630.3 1039.1L634.7 1032.8M648.8 1039.1L653.3 1032.8M667.3 1039.0L671.9 1032.8M685.8 1039.0L690.4 1032.8M704.3 1039.0L709.0 1032.8M120.2 1048.7L113.6 1044.7M137.9 1049.8L132.3 1044.5M155.4 1050.7L151.1 1044.3M173.0 1051.2L169.8 1044.2M190.6 1051.6L188.5 1044.1M120.2 1060.2L113.6 1056.2M137.9 1061.3L132.3 1056.0M155.4 1062.2L151.1 1055.8M120.2 1070.7L113.6 1066.7M137.9 1071.8L132.3 1066.5M155.4 1072.7L151.1 1066.3M184.4 1072.0L189.7 1066.4M202.6 1071.7L208.3 1066.5M220.8 1071.2L226.9 1066.6M239.3 1071.2L245.5 1066.6M257.9 1071.2L264.0 1066.6M276.4 1071.3L282.6 1066.6M334.0 1072.9L337.8 1066.3M351.6 1072.3L356.6 1066.4M407.3 1072.3L412.2 1066.4M425.8 1072.3L430.8 1066.4M444.4 1072.3L449.3 1066.4M463.7 1072.8L467.7 1066.3M483.8 1073.5L486.0 1066.2M536.3 1071.5L542.2 1066.5M554.6 1071.2L560.8 1066.6M573.0 1071.0L579.4 1066.6M591.5 1070.8L598.0 1066.7M609.9 1070.6L616.5 1066.7M665.0 1069.5L672.3 1066.9M683.5 1069.2L690.8 1066.9M758.4 1070.7L764.9 1066.7M776.9 1070.7L783.5 1066.7M795.5 1070.7L802.0 1066.7M814.0 1070.7L820.6 1066.7M832.6 1070.7L839.1 1066.7M851.1 1070.7L857.7 1066.7M112.5 1082.8L115.0 1075.6M129.6 1082.1L133.9 1075.7M147.8 1081.9L152.5 1075.7M166.1 1081.6L171.1 1075.8M184.4 1081.4L189.7 1075.8M202.6 1081.1L208.3 1075.9M220.8 1080.6L226.9 1076.0M239.3 1080.6L245.5 1076.0M257.9 1080.6L264.0 1076.0M276.4 1080.7L282.6 1076.0M295.0 1080.7L301.1 1076.0M315.6 1082.4L319.3 1075.6M334.0 1082.3L337.8 1075.7M351.6 1081.7L356.6 1075.8M370.2 1081.7L375.1 1075.8M388.7 1081.7L393.7 1075.8M407.3 1081.7L412.2 1075.8M425.8 1081.7L430.8 1075.8M444.4 1081.7L449.3 1075.8M463.7 1082.2L467.7 1075.7M483.8 1082.9L486.0 1075.6M501.2 1082.4L504.8 1075.6M518.5 1081.6L523.5 1075.8M536.3 1080.9L542.2 1075.9M554.6 1080.6L560.8 1076.0M573.0 1080.4L579.4 1076.0M591.5 1080.2L598.0 1076.1M609.9 1080.0L616.5 1076.1M628.4 1079.9L635.1 1076.1M646.8 1079.6L653.7 1076.2M665.0 1078.9L672.3 1076.3M683.5 1078.6L690.8 1076.3M702.1 1078.8L709.4 1076.3M720.9 1079.4L727.9 1076.2M739.8 1080.1L746.4 1076.1M758.4 1080.1L764.9 1076.1M776.9 1080.1L783.5 1076.1M795.5 1080.1L802.0 1076.1M814.0 1080.1L820.6 1076.1M832.6 1080.1L839.1 1076.1M851.1 1080.1L857.7 1076.1M112.5 1092.2L115.0 1085.0M129.6 1091.5L133.9 1085.1M147.8 1091.3L152.5 1085.1M166.1 1091.0L171.1 1085.2M184.4 1090.8L189.7 1085.2M202.6 1090.5L208.3 1085.3M220.8 1090.0L226.9 1085.4M239.3 1090.0L245.5 1085.4M257.9 1090.0L264.0 1085.4M276.4 1090.1L282.6 1085.4M295.0 1090.1L301.1 1085.4M315.6 1091.8L319.3 1085.0M334.0 1091.7L337.8 1085.1M351.6 1091.1L356.6 1085.2M370.2 1091.1L375.1 1085.2M388.7 1091.1L393.7 1085.2M407.3 1091.1L412.2 1085.2M425.8 1091.1L430.8 1085.2M444.4 1091.1L449.3 1085.2M463.7 1091.6L467.7 1085.1M483.8 1092.3L486.0 1085.0M501.2 1091.8L504.8 1085.0M518.5 1091.0L523.5 1085.2M536.3 1090.3L542.2 1085.3M554.6 1090.0L560.8 1085.4M573.0 1089.8L579.4 1085.4M591.5 1089.6L598.0 1085.5M609.9 1089.4L616.5 1085.5M628.4 1089.3L635.1 1085.5M646.8 1089.0L653.7 1085.6M665.0 1088.3L672.3 1085.7M683.5 1088.0L690.8 1085.7M702.1 1088.2L709.4 1085.7M720.9 1088.8L727.9 1085.6M739.8 1089.5L746.4 1085.5M758.4 1089.5L764.9 1085.5M776.9 1089.5L783.5 1085.5M795.5 1089.5L802.0 1085.5M814.0 1089.5L820.6 1085.5M832.6 1089.5L839.1 1085.5M851.1 1089.5L857.7 1085.5M112.5 1101.6L115.0 1094.4M129.6 1100.9L133.9 1094.5M147.8 1100.7L152.5 1094.5M166.1 1100.4L171.1 1094.6M184.4 1100.2L189.7 1094.6M202.6 1099.9L208.3 1094.7M220.8 1099.4L226.9 1094.8M239.3 1099.4L245.5 1094.8M257.9 1099.4L264.0 1094.8M276.4 1099.5L282.6 1094.8M295.0 1099.5L301.1 1094.8M315.6 1101.2L319.3 1094.4M334.0 1101.1L337.8 1094.5M351.6 1100.5L356.6 1094.6M370.2 1100.5L375.1 1094.6M388.7 1100.5L393.7 1094.6M407.3 1100.5L412.2 1094.6M425.8 1100.5L430.8 1094.6M444.4 1100.5L449.3 1094.6M463.7 1101.0L467.7 1094.5M483.8 1101.7L486.0 1094.4M501.2 1101.2L504.8 1094.4M518.5 1100.4L523.5 1094.6M536.3 1099.7L542.2 1094.7M554.6 1099.4L560.8 1094.8M573.0 1099.2L579.4 1094.8M591.5 1099.0L598.0 1094.9M609.9 1098.8L616.5 1094.9M628.4 1098.7L635.1 1094.9M646.8 1098.4L653.7 1095.0M665.0 1097.7L672.3 1095.1M683.5 1097.4L690.8 1095.1M702.1 1097.6L709.4 1095.1M720.9 1098.2L727.9 1095.0M739.8 1098.9L746.4 1094.9M758.4 1098.9L764.9 1094.9M776.9 1098.9L783.5 1094.9M795.5 1098.9L802.0 1094.9M814.0 1098.9L820.6 1094.9M832.6 1098.9L839.1 1094.9M851.1 1098.9L857.7 1094.9M112.5 1111.0L115.0 1103.8M129.6 1110.3L133.9 1103.9M147.8 1110.1L152.5 1103.9M166.1 1109.8L171.1 1104.0M184.4 1109.6L189.7 1104.0M202.6 1109.3L208.3 1104.1M220.8 1108.8L226.9 1104.2M239.3 1108.8L245.5 1104.2M257.9 1108.8L264.0 1104.2M276.4 1108.9L282.6 1104.2M334.0 1110.5L337.8 1103.9M351.6 1109.9L356.6 1104.0M370.2 1109.9L375.1 1104.0M388.7 1109.9L393.7 1104.0M407.3 1109.9L412.2 1104.0M425.8 1109.9L430.8 1104.0M444.4 1109.9L449.3 1104.0M463.7 1110.4L467.7 1103.9M483.8 1111.1L486.0 1103.8M501.2 1110.6L504.8 1103.8M518.5 1109.8L523.5 1104.0M536.3 1109.1L542.2 1104.1M554.6 1108.8L560.8 1104.2M573.0 1108.6L579.4 1104.2M591.5 1108.4L598.0 1104.3M609.9 1108.2L616.5 1104.3M628.4 1108.1L635.1 1104.3M683.5 1106.8L690.8 1104.5M702.1 1107.0L709.4 1104.5M720.9 1107.6L727.9 1104.4M739.8 1108.3L746.4 1104.3M758.4 1108.3L764.9 1104.3M795.5 1108.3L802.0 1104.3M814.0 1108.3L820.6 1104.3M832.6 1108.3L839.1 1104.3M851.1 1108.3L857.7 1104.3M501.2 1120.0L504.8 1113.2M591.5 1117.8L598.0 1113.7M609.9 1117.6L616.5 1113.7" stroke="#000" stroke-width="1.4" fill="none"/><path d="M856.9 970.3L859.2 976.7L854.2 976.5ZM838.5 979.8L840.6 986.3L835.6 985.9ZM856.9 979.8L859.2 986.2L854.2 986.0ZM820.1 989.3L822.1 995.8L817.1 995.4ZM838.5 989.3L840.6 995.8L835.6 995.4ZM856.9 989.3L859.2 995.7L854.2 995.5ZM108.5 1007.5L113.6 1003.0L115.3 1007.7ZM126.9 1006.9L132.4 1002.9L133.6 1007.8ZM145.3 1006.0L151.3 1002.8L151.8 1007.8ZM164.7 1002.0L171.4 1003.0L168.9 1007.4ZM186.1 999.4L191.0 1004.1L186.5 1006.2ZM417.8 1006.7L411.1 1007.8L412.2 1002.9ZM436.4 1006.7L429.7 1007.8L430.7 1002.9ZM455.0 1006.1L448.4 1007.8L449.0 1002.8ZM473.6 1004.8L467.5 1007.8L467.1 1002.8ZM488.9 999.7L487.9 1006.4L483.6 1003.9ZM785.1 999.4L784.8 1006.1L780.3 1004.1ZM802.5 999.0L803.5 1005.7L798.6 1004.5ZM820.1 998.8L822.1 1005.3L817.1 1004.9ZM838.5 998.8L840.6 1005.3L835.6 1004.9ZM856.9 998.8L859.2 1005.2L854.2 1005.0ZM108.5 1017.0L113.6 1012.5L115.3 1017.2ZM126.9 1016.4L132.4 1012.4L133.6 1017.3ZM145.3 1015.5L151.3 1012.3L151.8 1017.3ZM164.7 1011.5L171.4 1012.5L168.9 1016.9ZM186.1 1008.9L191.0 1013.6L186.5 1015.7ZM206.8 1008.3L209.9 1014.4L204.9 1014.8ZM232.0 1012.5L227.0 1017.1L225.3 1012.4ZM250.1 1011.4L246.0 1016.8L243.4 1012.6ZM268.2 1010.8L264.8 1016.6L261.7 1012.7ZM343.6 1016.1L336.9 1017.3L338.0 1012.4ZM362.1 1016.3L355.4 1017.3L356.6 1012.4ZM380.7 1016.3L374.0 1017.3L375.1 1012.4ZM399.2 1016.3L392.5 1017.3L393.7 1012.4ZM417.8 1016.2L411.1 1017.3L412.2 1012.4ZM436.4 1016.2L429.7 1017.3L430.7 1012.4ZM455.0 1015.6L448.4 1017.3L449.0 1012.3ZM473.6 1014.3L467.5 1017.3L467.1 1012.3ZM488.9 1009.2L487.9 1015.9L483.6 1013.4ZM507.7 1009.3L506.4 1016.0L502.2 1013.3ZM526.3 1009.3L525.0 1016.0L520.8 1013.3ZM544.8 1009.4L543.5 1016.0L539.3 1013.3ZM563.4 1009.4L562.0 1016.0L557.9 1013.3ZM582.0 1009.4L580.6 1016.0L576.4 1013.2ZM600.6 1009.4L599.1 1016.1L595.0 1013.2ZM619.2 1009.5L617.7 1016.1L613.6 1013.2ZM637.8 1009.5L636.2 1016.1L632.1 1013.2ZM656.4 1009.5L654.7 1016.1L650.7 1013.2ZM675.0 1009.6L673.3 1016.1L669.3 1013.2ZM767.1 1009.1L766.2 1015.9L761.8 1013.4ZM785.1 1008.9L784.8 1015.6L780.3 1013.6ZM802.5 1008.5L803.5 1015.2L798.6 1014.0ZM820.1 1008.3L822.1 1014.8L817.1 1014.4ZM838.5 1008.3L840.6 1014.8L835.6 1014.4ZM856.9 1008.3L859.2 1014.7L854.2 1014.5ZM108.5 1026.5L113.6 1022.0L115.3 1026.7ZM126.9 1025.9L132.4 1021.9L133.6 1026.8ZM145.3 1025.0L151.3 1021.8L151.8 1026.8ZM164.7 1021.0L171.4 1022.0L168.9 1026.4ZM250.1 1020.9L246.0 1026.3L243.4 1022.1ZM268.2 1020.3L264.8 1026.1L261.7 1022.2ZM287.4 1021.3L282.9 1026.4L280.6 1022.0ZM306.4 1022.5L301.0 1026.6L299.7 1021.8ZM325.2 1024.1L319.0 1026.8L318.8 1021.8ZM343.6 1025.6L336.9 1026.8L338.0 1021.9ZM362.1 1025.8L355.4 1026.8L356.6 1021.9ZM380.7 1025.8L374.0 1026.8L375.1 1021.9ZM399.2 1025.8L392.5 1026.8L393.7 1021.9ZM417.8 1025.7L411.1 1026.8L412.2 1021.9ZM436.4 1025.7L429.7 1026.8L430.7 1021.9ZM455.0 1025.1L448.4 1026.8L449.0 1021.8ZM473.6 1023.8L467.5 1026.8L467.1 1021.8ZM488.9 1018.7L487.9 1025.4L483.6 1022.9ZM507.7 1018.8L506.4 1025.5L502.2 1022.8ZM526.3 1018.8L525.0 1025.5L520.8 1022.8ZM544.8 1018.9L543.5 1025.5L539.3 1022.8ZM563.4 1018.9L562.0 1025.5L557.9 1022.8ZM582.0 1018.9L580.6 1025.5L576.4 1022.7ZM600.6 1018.9L599.1 1025.6L595.0 1022.7ZM619.2 1019.0L617.7 1025.6L613.6 1022.7ZM637.8 1019.0L636.2 1025.6L632.1 1022.7ZM656.4 1019.0L654.7 1025.6L650.7 1022.7ZM675.0 1019.1L673.3 1025.6L669.3 1022.7ZM693.6 1019.1L691.8 1025.6L687.8 1022.6ZM712.2 1019.1L710.4 1025.7L706.4 1022.6ZM730.8 1019.2L728.9 1025.7L725.0 1022.6ZM109.1 1030.4L115.8 1031.6L113.2 1035.8ZM128.5 1029.3L134.8 1031.9L131.3 1035.5ZM148.1 1028.4L153.7 1032.2L149.6 1035.0ZM167.6 1027.9L172.5 1032.6L167.9 1034.7ZM187.1 1027.5L191.2 1032.9L186.4 1034.3ZM206.3 1027.4L209.8 1033.2L204.9 1034.0ZM250.1 1030.4L246.0 1035.8L243.4 1031.6ZM268.2 1029.8L264.8 1035.6L261.7 1031.7ZM287.4 1030.8L282.9 1035.9L280.6 1031.5ZM306.4 1032.0L301.0 1036.1L299.7 1031.3ZM325.2 1033.6L319.0 1036.3L318.8 1031.3ZM343.6 1035.1L336.9 1036.3L338.0 1031.4ZM362.1 1035.3L355.4 1036.3L356.6 1031.4ZM380.7 1035.3L374.0 1036.3L375.1 1031.4ZM399.2 1035.3L392.5 1036.3L393.7 1031.4ZM417.8 1035.2L411.1 1036.3L412.2 1031.4ZM436.4 1035.2L429.7 1036.3L430.7 1031.4ZM488.9 1028.2L487.9 1034.9L483.6 1032.4ZM507.7 1028.3L506.4 1035.0L502.2 1032.3ZM526.3 1028.3L525.0 1035.0L520.8 1032.3ZM544.8 1028.4L543.5 1035.0L539.3 1032.3ZM563.4 1028.4L562.0 1035.0L557.9 1032.3ZM582.0 1028.4L580.6 1035.0L576.4 1032.2ZM600.6 1028.4L599.1 1035.1L595.0 1032.2ZM619.2 1028.5L617.7 1035.1L613.6 1032.2ZM637.8 1028.5L636.2 1035.1L632.1 1032.2ZM656.4 1028.5L654.7 1035.1L650.7 1032.2ZM675.0 1028.6L673.3 1035.1L669.3 1032.2ZM693.6 1028.6L691.8 1035.1L687.8 1032.1ZM712.2 1028.6L710.4 1035.2L706.4 1032.1ZM109.1 1041.9L115.8 1043.1L113.2 1047.3ZM128.5 1040.8L134.8 1043.4L131.3 1047.0ZM148.1 1039.9L153.7 1043.7L149.6 1046.5ZM167.6 1039.4L172.5 1044.1L167.9 1046.2ZM187.1 1039.0L191.2 1044.4L186.4 1045.8ZM109.1 1053.4L115.8 1054.6L113.2 1058.8ZM128.5 1052.3L134.8 1054.9L131.3 1058.5ZM148.1 1051.4L153.7 1055.2L149.6 1058.0ZM109.1 1063.9L115.8 1065.1L113.2 1069.3ZM128.5 1062.8L134.8 1065.4L131.3 1069.0ZM148.1 1061.9L153.7 1065.7L149.6 1068.5ZM193.3 1062.6L190.8 1068.9L187.2 1065.4ZM212.2 1062.9L209.2 1069.0L205.8 1065.3ZM231.1 1063.4L227.6 1069.2L224.6 1065.2ZM249.7 1063.4L246.1 1069.2L243.2 1065.2ZM268.2 1063.4L264.7 1069.2L261.7 1065.2ZM286.8 1063.3L283.3 1069.2L280.2 1065.2ZM340.5 1061.7L339.5 1068.4L335.2 1065.9ZM360.0 1062.3L357.8 1068.8L354.0 1065.5ZM415.6 1062.3L413.5 1068.8L409.7 1065.5ZM434.2 1062.3L432.0 1068.8L428.2 1065.5ZM452.7 1062.3L450.6 1068.8L446.8 1065.5ZM470.5 1061.8L469.3 1068.4L465.1 1065.8ZM487.5 1061.1L488.1 1067.8L483.3 1066.4ZM546.3 1063.1L543.1 1069.1L539.8 1065.3ZM565.1 1063.4L561.5 1069.2L558.5 1065.2ZM583.8 1063.6L580.0 1069.3L577.2 1065.1ZM602.4 1063.8L598.5 1069.3L595.8 1065.1ZM621.1 1064.0L617.0 1069.3L614.4 1065.0ZM677.3 1065.1L672.2 1069.6L670.5 1064.9ZM695.9 1065.4L690.6 1069.6L689.2 1064.9ZM769.4 1063.9L765.4 1069.3L762.7 1065.1ZM788.0 1063.9L783.9 1069.3L781.3 1065.1ZM806.5 1063.9L802.5 1069.3L799.8 1065.1ZM825.1 1063.9L821.0 1069.3L818.4 1065.1ZM843.6 1063.9L839.6 1069.3L836.9 1065.1ZM862.2 1063.9L858.1 1069.3L855.5 1065.1ZM116.8 1070.6L117.1 1077.3L112.4 1075.7ZM136.8 1071.3L135.4 1077.9L131.2 1075.1ZM155.7 1071.5L153.9 1078.1L149.9 1075.0ZM174.5 1071.8L172.3 1078.2L168.5 1074.9ZM193.3 1072.0L190.8 1078.3L187.2 1074.8ZM212.2 1072.3L209.2 1078.4L205.8 1074.7ZM231.1 1072.8L227.6 1078.6L224.6 1074.6ZM249.7 1072.8L246.1 1078.6L243.2 1074.6ZM268.2 1072.8L264.7 1078.6L261.7 1074.6ZM286.8 1072.7L283.3 1078.6L280.2 1074.6ZM305.3 1072.7L301.9 1078.5L298.8 1074.6ZM321.8 1071.0L321.0 1077.7L316.6 1075.3ZM340.5 1071.1L339.5 1077.8L335.2 1075.3ZM360.0 1071.7L357.8 1078.2L354.0 1074.9ZM378.5 1071.7L376.4 1078.2L372.6 1074.9ZM397.1 1071.7L394.9 1078.2L391.1 1074.9ZM415.6 1071.7L413.5 1078.2L409.7 1074.9ZM434.2 1071.7L432.0 1078.2L428.2 1074.9ZM452.7 1071.7L450.6 1078.2L446.8 1074.9ZM470.5 1071.2L469.3 1077.8L465.1 1075.2ZM487.5 1070.5L488.1 1077.2L483.3 1075.8ZM507.2 1071.0L506.5 1077.7L502.1 1075.4ZM527.0 1071.8L524.8 1078.2L521.0 1074.9ZM546.3 1072.5L543.1 1078.5L539.8 1074.7ZM565.1 1072.8L561.5 1078.6L558.5 1074.6ZM583.8 1073.0L580.0 1078.7L577.2 1074.5ZM602.4 1073.2L598.5 1078.7L595.8 1074.5ZM621.1 1073.4L617.0 1078.7L614.4 1074.4ZM639.7 1073.5L635.4 1078.8L633.0 1074.4ZM658.4 1073.8L653.9 1078.8L651.6 1074.4ZM677.3 1074.5L672.2 1079.0L670.5 1074.3ZM695.9 1074.8L690.6 1079.0L689.2 1074.3ZM714.4 1074.6L709.2 1079.0L707.6 1074.3ZM732.7 1074.0L728.0 1078.9L726.0 1074.3ZM750.9 1073.3L746.8 1078.7L744.2 1074.5ZM769.4 1073.3L765.4 1078.7L762.7 1074.5ZM788.0 1073.3L783.9 1078.7L781.3 1074.5ZM806.5 1073.3L802.5 1078.7L799.8 1074.5ZM825.1 1073.3L821.0 1078.7L818.4 1074.5ZM843.6 1073.3L839.6 1078.7L836.9 1074.5ZM862.2 1073.3L858.1 1078.7L855.5 1074.5ZM116.8 1080.0L117.1 1086.7L112.4 1085.1ZM136.8 1080.7L135.4 1087.3L131.2 1084.5ZM155.7 1080.9L153.9 1087.5L149.9 1084.4ZM174.5 1081.2L172.3 1087.6L168.5 1084.3ZM193.3 1081.4L190.8 1087.7L187.2 1084.2ZM212.2 1081.7L209.2 1087.8L205.8 1084.1ZM231.1 1082.2L227.6 1088.0L224.6 1084.0ZM249.7 1082.2L246.1 1088.0L243.2 1084.0ZM268.2 1082.2L264.7 1088.0L261.7 1084.0ZM286.8 1082.1L283.3 1088.0L280.2 1084.0ZM305.3 1082.1L301.9 1087.9L298.8 1084.0ZM321.8 1080.4L321.0 1087.1L316.6 1084.7ZM340.5 1080.5L339.5 1087.2L335.2 1084.7ZM360.0 1081.1L357.8 1087.6L354.0 1084.3ZM378.5 1081.1L376.4 1087.6L372.6 1084.3ZM397.1 1081.1L394.9 1087.6L391.1 1084.3ZM415.6 1081.1L413.5 1087.6L409.7 1084.3ZM434.2 1081.1L432.0 1087.6L428.2 1084.3ZM452.7 1081.1L450.6 1087.6L446.8 1084.3ZM470.5 1080.6L469.3 1087.2L465.1 1084.6ZM487.5 1079.9L488.1 1086.6L483.3 1085.2ZM507.2 1080.4L506.5 1087.1L502.1 1084.8ZM527.0 1081.2L524.8 1087.6L521.0 1084.3ZM546.3 1081.9L543.1 1087.9L539.8 1084.1ZM565.1 1082.2L561.5 1088.0L558.5 1084.0ZM583.8 1082.4L580.0 1088.1L577.2 1083.9ZM602.4 1082.6L598.5 1088.1L595.8 1083.9ZM621.1 1082.8L617.0 1088.1L614.4 1083.8ZM639.7 1082.9L635.4 1088.2L633.0 1083.8ZM658.4 1083.2L653.9 1088.2L651.6 1083.8ZM677.3 1083.9L672.2 1088.4L670.5 1083.7ZM695.9 1084.2L690.6 1088.4L689.2 1083.7ZM714.4 1084.0L709.2 1088.4L707.6 1083.7ZM732.7 1083.4L728.0 1088.3L726.0 1083.7ZM750.9 1082.7L746.8 1088.1L744.2 1083.9ZM769.4 1082.7L765.4 1088.1L762.7 1083.9ZM788.0 1082.7L783.9 1088.1L781.3 1083.9ZM806.5 1082.7L802.5 1088.1L799.8 1083.9ZM825.1 1082.7L821.0 1088.1L818.4 1083.9ZM843.6 1082.7L839.6 1088.1L836.9 1083.9ZM862.2 1082.7L858.1 1088.1L855.5 1083.9ZM116.8 1089.4L117.1 1096.1L112.4 1094.5ZM136.8 1090.1L135.4 1096.7L131.2 1093.9ZM155.7 1090.3L153.9 1096.9L149.9 1093.8ZM174.5 1090.6L172.3 1097.0L168.5 1093.7ZM193.3 1090.8L190.8 1097.1L187.2 1093.6ZM212.2 1091.1L209.2 1097.2L205.8 1093.5ZM231.1 1091.6L227.6 1097.4L224.6 1093.4ZM249.7 1091.6L246.1 1097.4L243.2 1093.4ZM268.2 1091.6L264.7 1097.4L261.7 1093.4ZM286.8 1091.5L283.3 1097.4L280.2 1093.4ZM305.3 1091.5L301.9 1097.3L298.8 1093.4ZM321.8 1089.8L321.0 1096.5L316.6 1094.1ZM340.5 1089.9L339.5 1096.6L335.2 1094.1ZM360.0 1090.5L357.8 1097.0L354.0 1093.7ZM378.5 1090.5L376.4 1097.0L372.6 1093.7ZM397.1 1090.5L394.9 1097.0L391.1 1093.7ZM415.6 1090.5L413.5 1097.0L409.7 1093.7ZM434.2 1090.5L432.0 1097.0L428.2 1093.7ZM452.7 1090.5L450.6 1097.0L446.8 1093.7ZM470.5 1090.0L469.3 1096.6L465.1 1094.0ZM487.5 1089.3L488.1 1096.0L483.3 1094.6ZM507.2 1089.8L506.5 1096.5L502.1 1094.2ZM527.0 1090.6L524.8 1097.0L521.0 1093.7ZM546.3 1091.3L543.1 1097.3L539.8 1093.5ZM565.1 1091.6L561.5 1097.4L558.5 1093.4ZM583.8 1091.8L580.0 1097.5L577.2 1093.3ZM602.4 1092.0L598.5 1097.5L595.8 1093.3ZM621.1 1092.2L617.0 1097.5L614.4 1093.2ZM639.7 1092.3L635.4 1097.6L633.0 1093.2ZM658.4 1092.6L653.9 1097.6L651.6 1093.2ZM677.3 1093.3L672.2 1097.8L670.5 1093.1ZM695.9 1093.6L690.6 1097.8L689.2 1093.1ZM714.4 1093.4L709.2 1097.8L707.6 1093.1ZM732.7 1092.8L728.0 1097.7L726.0 1093.1ZM750.9 1092.1L746.8 1097.5L744.2 1093.3ZM769.4 1092.1L765.4 1097.5L762.7 1093.3ZM788.0 1092.1L783.9 1097.5L781.3 1093.3ZM806.5 1092.1L802.5 1097.5L799.8 1093.3ZM825.1 1092.1L821.0 1097.5L818.4 1093.3ZM843.6 1092.1L839.6 1097.5L836.9 1093.3ZM862.2 1092.1L858.1 1097.5L855.5 1093.3ZM116.8 1098.8L117.1 1105.5L112.4 1103.9ZM136.8 1099.5L135.4 1106.1L131.2 1103.3ZM155.7 1099.7L153.9 1106.3L149.9 1103.2ZM174.5 1100.0L172.3 1106.4L168.5 1103.1ZM193.3 1100.2L190.8 1106.5L187.2 1103.0ZM212.2 1100.5L209.2 1106.6L205.8 1102.9ZM231.1 1101.0L227.6 1106.8L224.6 1102.8ZM249.7 1101.0L246.1 1106.8L243.2 1102.8ZM268.2 1101.0L264.7 1106.8L261.7 1102.8ZM286.8 1100.9L283.3 1106.8L280.2 1102.8ZM340.5 1099.3L339.5 1106.0L335.2 1103.5ZM360.0 1099.9L357.8 1106.4L354.0 1103.1ZM378.5 1099.9L376.4 1106.4L372.6 1103.1ZM397.1 1099.9L394.9 1106.4L391.1 1103.1ZM415.6 1099.9L413.5 1106.4L409.7 1103.1ZM434.2 1099.9L432.0 1106.4L428.2 1103.1ZM452.7 1099.9L450.6 1106.4L446.8 1103.1ZM470.5 1099.4L469.3 1106.0L465.1 1103.4ZM487.5 1098.7L488.1 1105.4L483.3 1104.0ZM507.2 1099.2L506.5 1105.9L502.1 1103.6ZM527.0 1100.0L524.8 1106.4L521.0 1103.1ZM546.3 1100.7L543.1 1106.7L539.8 1102.9ZM565.1 1101.0L561.5 1106.8L558.5 1102.8ZM583.8 1101.2L580.0 1106.9L577.2 1102.7ZM602.4 1101.4L598.5 1106.9L595.8 1102.7ZM621.1 1101.6L617.0 1106.9L614.4 1102.6ZM639.7 1101.7L635.4 1107.0L633.0 1102.6ZM695.9 1103.0L690.6 1107.2L689.2 1102.5ZM714.4 1102.8L709.2 1107.2L707.6 1102.5ZM732.7 1102.2L728.0 1107.1L726.0 1102.5ZM750.9 1101.5L746.8 1106.9L744.2 1102.7ZM769.4 1101.5L765.4 1106.9L762.7 1102.7ZM806.5 1101.5L802.5 1106.9L799.8 1102.7ZM825.1 1101.5L821.0 1106.9L818.4 1102.7ZM843.6 1101.5L839.6 1106.9L836.9 1102.7ZM862.2 1101.5L858.1 1106.9L855.5 1102.7ZM507.2 1108.6L506.5 1115.3L502.1 1113.0ZM602.4 1110.8L598.5 1116.3L595.8 1112.1ZM621.1 1111.0L617.0 1116.3L614.4 1112.0Z" fill="#000"/>
<path d="M110 938.8L201.4 940.8L196.3 946.8L191.4 952.8L186.9 958.9L182.6 964.9L178.5 970.9L174.7 976.9L171.1 982.9L167.7 989L164.6 995L161.6 1001L158.7 1007L156.1 1013L153.6 1019.1L151.2 1025.1L149 1031.1L146.9 1037.1L145 1043.1L143.1 1049.2L141.4 1055.2L139.7 1061.2L138.2 1067.2L136.7 1073.2L135.4 1079.2L134.1 1085.3L132.9 1091.3L131.7 1097.3L130.6 1103.3L129.6 1109.3L128.7 1115.4L127.8 1121.4L126.9 1127.4L126.1 1133.4L125.4 1139.4L124.7 1145.5L124 1151.5L123.4 1157.5L122.8 1163.5L122.3 1169.5L121.7 1175.6L121.2 1181.6L120.8 1187.6L120.4 1193.6L119.9 1199.6L119.6 1205.7L119.2 1211.7L118.9 1217.7L110 1219.7ZM866 938.8L774.5 940.8L779.7 946.8L784.6 952.8L789.1 958.9L793.4 964.9L797.5 970.9L801.3 976.9L804.9 982.9L808.3 989L811.4 995L814.4 1001L817.3 1007L819.9 1013L822.4 1019.1L824.8 1025.1L827 1031.1L829.1 1037.1L831 1043.1L832.9 1049.2L834.6 1055.2L836.3 1061.2L837.8 1067.2L839.3 1073.2L840.6 1079.2L841.9 1085.3L843.1 1091.3L844.3 1097.3L845.4 1103.3L846.4 1109.3L847.3 1115.4L848.2 1121.4L849.1 1127.4L849.9 1133.4L850.6 1139.4L851.3 1145.5L852 1151.5L852.6 1157.5L853.2 1163.5L853.7 1169.5L854.3 1175.6L854.8 1181.6L855.2 1187.6L855.6 1193.6L856.1 1199.6L856.4 1205.7L856.8 1211.7L857.1 1217.7L866 1219.7Z" fill="#fff" fill-opacity="0.5"/>
</g>
<rect x="111.95" y="940.8" width="752.0999999999999" height="276.9" fill="none" stroke="#000" stroke-width="1.8"/>
<path d="M112 1009.9h15.5M864 1009.9h-15.5M112 1078.7h15.5M864 1078.7h-15.5M112 1147.5h15.5M864 1147.5h-15.5M176.8 1217.7v-16.6M298.3 1217.7v-16.6M424 1217.7v-16.6M549.7 1217.7v-16.6M675.3 1217.7v-16.6M801 1217.7v-16.6" stroke="#000" stroke-width="1.5" fill="none"/>
<path d="M112 941.3h15.5M864 941.3h-15.5M112 1216.8h15.5M864 1216.8h-15.5" stroke="#000" stroke-width="2.4" fill="none"/>
<text x="95.8" y="950.3" font-size="24.9" text-anchor="end">64</text>
<text x="95.8" y="1019.1" font-size="24.9" text-anchor="end">32</text>
<text x="95.8" y="1087.9" font-size="24.9" text-anchor="end">16</text>
<text x="95.8" y="1156.7" font-size="24.9" text-anchor="end">8</text>
<text x="95.8" y="1225.5" font-size="24.9" text-anchor="end">4</text>
<text x="175.6" y="1248.3" font-size="24.9" text-anchor="middle">02-01</text>
<text x="297.1" y="1248.3" font-size="24.9" text-anchor="middle">04-01</text>
<text x="422.8" y="1248.3" font-size="24.9" text-anchor="middle">06-01</text>
<text x="548.5" y="1248.3" font-size="24.9" text-anchor="middle">08-01</text>
<text x="674.1" y="1248.3" font-size="24.9" text-anchor="middle">10-01</text>
<text x="799.8" y="1248.3" font-size="24.9" text-anchor="middle">12-01</text>
<text x="486.6" y="1286.8" font-size="25.4" text-anchor="middle">Date</text>
<text transform="translate(21.1 604.3) rotate(-90)" font-size="25.3" text-anchor="middle">Period (days)</text>
<text x="34.6" y="30.4" font-size="33.5" font-weight="bold" stroke="#000" stroke-width="0.9" textLength="25.4" lengthAdjust="spacingAndGlyphs">A</text>
<text x="32.8" y="327.1" font-size="33.5" font-weight="bold" stroke="#000" stroke-width="0.9" textLength="24.0" lengthAdjust="spacingAndGlyphs">B</text>
<text x="33.9" y="643" font-size="33.5" font-weight="bold" stroke="#000" stroke-width="0.9" textLength="22.8" lengthAdjust="spacingAndGlyphs">C</text>
<text x="33.0" y="946.4" font-size="33.5" font-weight="bold" stroke="#000" stroke-width="0.9" textLength="23.8" lengthAdjust="spacingAndGlyphs">D</text>
<text x="530.4" y="48.5" font-size="22.25" stroke="#000" stroke-width="0.3">Phase difference = 1.44 days</text>
<text x="530.4" y="360.8" font-size="22.25" stroke="#000" stroke-width="0.3">Phase difference = 2.01 days</text>
<text x="537.1" y="665.2" font-size="22.25" stroke="#000" stroke-width="0.3">Phase difference = 2.07 days</text>
<text x="537.1" y="981.2" font-size="22.25" stroke="#000" stroke-width="0.3">Phase difference = 1.56 days</text>
<rect x="880.6" y="490" width="22.8" height="284.5" fill="url(#cb)" stroke="#000" stroke-width="1.8"/>
<path d="M880.6 717.6h22.8M880.6 660.7h22.8M880.6 603.8h22.8M880.6 546.9h22.8" stroke="#000" stroke-width="1.5"/>
<text x="918" y="783.3" font-size="24.9">0.0</text>
<text x="918" y="726.4" font-size="24.9">0.2</text>
<text x="918" y="669.5" font-size="24.9">0.4</text>
<text x="918" y="612.6" font-size="24.9">0.6</text>
<text x="918" y="555.7" font-size="24.9">0.8</text>
<text x="918" y="498.8" font-size="24.9">1.0</text>
</svg></body></html>
